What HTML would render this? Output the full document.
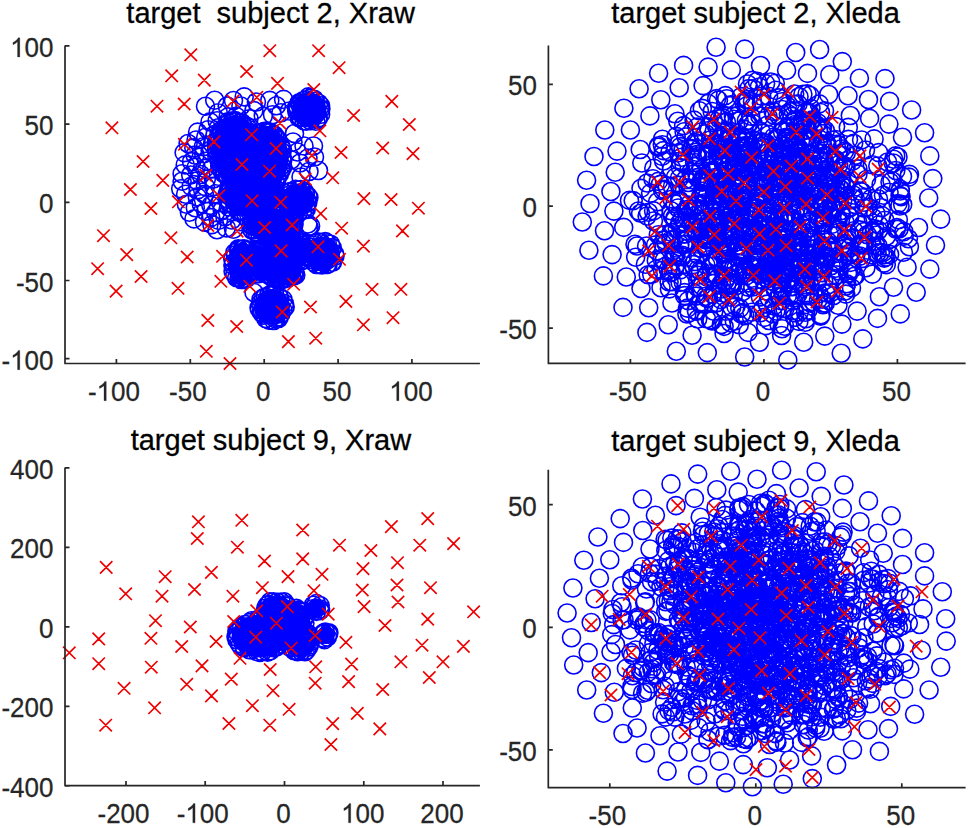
<!DOCTYPE html>
<html><head><meta charset="utf-8"><style>
html,body{margin:0;padding:0;background:#fff;width:968px;height:828px;overflow:hidden}
svg text{font-family:"Liberation Sans", sans-serif}
</style></head><body>
<svg width="968" height="828" viewBox="0 0 968 828" style="position:absolute;left:0;top:0">
<path d="M195.7 168.4a9 9 0 1 0 18 0a9 9 0 1 0 -18 0M206.6 212.5a9 9 0 1 0 18 0a9 9 0 1 0 -18 0M192.2 203.8a9 9 0 1 0 18 0a9 9 0 1 0 -18 0M176.2 164.9a9 9 0 1 0 18 0a9 9 0 1 0 -18 0M191.7 174.5a9 9 0 1 0 18 0a9 9 0 1 0 -18 0M206.0 134.2a9 9 0 1 0 18 0a9 9 0 1 0 -18 0M230.5 221.8a9 9 0 1 0 18 0a9 9 0 1 0 -18 0M211.5 202.5a9 9 0 1 0 18 0a9 9 0 1 0 -18 0M182.2 186.4a9 9 0 1 0 18 0a9 9 0 1 0 -18 0M222.8 220.0a9 9 0 1 0 18 0a9 9 0 1 0 -18 0M196.4 186.6a9 9 0 1 0 18 0a9 9 0 1 0 -18 0M173.1 181.3a9 9 0 1 0 18 0a9 9 0 1 0 -18 0M187.2 167.1a9 9 0 1 0 18 0a9 9 0 1 0 -18 0M196.6 211.2a9 9 0 1 0 18 0a9 9 0 1 0 -18 0M197.5 161.1a9 9 0 1 0 18 0a9 9 0 1 0 -18 0M188.6 132.1a9 9 0 1 0 18 0a9 9 0 1 0 -18 0M215.9 216.7a9 9 0 1 0 18 0a9 9 0 1 0 -18 0M186.0 155.0a9 9 0 1 0 18 0a9 9 0 1 0 -18 0M208.1 120.8a9 9 0 1 0 18 0a9 9 0 1 0 -18 0M196.7 137.2a9 9 0 1 0 18 0a9 9 0 1 0 -18 0M176.6 194.3a9 9 0 1 0 18 0a9 9 0 1 0 -18 0M181.7 175.0a9 9 0 1 0 18 0a9 9 0 1 0 -18 0M175.1 152.6a9 9 0 1 0 18 0a9 9 0 1 0 -18 0M230.1 211.8a9 9 0 1 0 18 0a9 9 0 1 0 -18 0M177.4 204.3a9 9 0 1 0 18 0a9 9 0 1 0 -18 0M184.8 147.9a9 9 0 1 0 18 0a9 9 0 1 0 -18 0M180.4 212.3a9 9 0 1 0 18 0a9 9 0 1 0 -18 0M202.8 168.5a9 9 0 1 0 18 0a9 9 0 1 0 -18 0M206.6 193.7a9 9 0 1 0 18 0a9 9 0 1 0 -18 0M195.5 222.1a9 9 0 1 0 18 0a9 9 0 1 0 -18 0M217.3 227.9a9 9 0 1 0 18 0a9 9 0 1 0 -18 0M219.9 207.0a9 9 0 1 0 18 0a9 9 0 1 0 -18 0M189.1 189.6a9 9 0 1 0 18 0a9 9 0 1 0 -18 0M224.5 229.3a9 9 0 1 0 18 0a9 9 0 1 0 -18 0M209.5 220.4a9 9 0 1 0 18 0a9 9 0 1 0 -18 0M201.1 150.5a9 9 0 1 0 18 0a9 9 0 1 0 -18 0M195.5 194.2a9 9 0 1 0 18 0a9 9 0 1 0 -18 0M202.9 224.6a9 9 0 1 0 18 0a9 9 0 1 0 -18 0M204.4 179.0a9 9 0 1 0 18 0a9 9 0 1 0 -18 0M201.9 205.4a9 9 0 1 0 18 0a9 9 0 1 0 -18 0M199.1 129.8a9 9 0 1 0 18 0a9 9 0 1 0 -18 0M186.3 207.7a9 9 0 1 0 18 0a9 9 0 1 0 -18 0M185.0 218.9a9 9 0 1 0 18 0a9 9 0 1 0 -18 0M194.7 153.8a9 9 0 1 0 18 0a9 9 0 1 0 -18 0M188.3 196.9a9 9 0 1 0 18 0a9 9 0 1 0 -18 0M208.0 229.8a9 9 0 1 0 18 0a9 9 0 1 0 -18 0M203.5 143.7a9 9 0 1 0 18 0a9 9 0 1 0 -18 0M187.1 140.0a9 9 0 1 0 18 0a9 9 0 1 0 -18 0M173.1 173.8a9 9 0 1 0 18 0a9 9 0 1 0 -18 0M194.4 146.7a9 9 0 1 0 18 0a9 9 0 1 0 -18 0M179.1 143.5a9 9 0 1 0 18 0a9 9 0 1 0 -18 0M204.8 186.6a9 9 0 1 0 18 0a9 9 0 1 0 -18 0M188.3 180.9a9 9 0 1 0 18 0a9 9 0 1 0 -18 0M201.0 121.9a9 9 0 1 0 18 0a9 9 0 1 0 -18 0M209.5 127.7a9 9 0 1 0 18 0a9 9 0 1 0 -18 0M197.3 179.2a9 9 0 1 0 18 0a9 9 0 1 0 -18 0M201.8 217.6a9 9 0 1 0 18 0a9 9 0 1 0 -18 0M182.6 161.7a9 9 0 1 0 18 0a9 9 0 1 0 -18 0M213.2 210.0a9 9 0 1 0 18 0a9 9 0 1 0 -18 0M171.7 188.8a9 9 0 1 0 18 0a9 9 0 1 0 -18 0M227.2 116.4a9 9 0 1 0 18 0a9 9 0 1 0 -18 0M254.3 116.1a9 9 0 1 0 18 0a9 9 0 1 0 -18 0M272.0 112.8a9 9 0 1 0 18 0a9 9 0 1 0 -18 0M235.2 96.9a9 9 0 1 0 18 0a9 9 0 1 0 -18 0M218.2 106.0a9 9 0 1 0 18 0a9 9 0 1 0 -18 0M260.8 100.4a9 9 0 1 0 18 0a9 9 0 1 0 -18 0M274.6 99.4a9 9 0 1 0 18 0a9 9 0 1 0 -18 0M280.4 111.0a9 9 0 1 0 18 0a9 9 0 1 0 -18 0M209.2 112.8a9 9 0 1 0 18 0a9 9 0 1 0 -18 0M247.4 102.0a9 9 0 1 0 18 0a9 9 0 1 0 -18 0M231.9 106.0a9 9 0 1 0 18 0a9 9 0 1 0 -18 0M244.9 110.6a9 9 0 1 0 18 0a9 9 0 1 0 -18 0M288.9 106.4a9 9 0 1 0 18 0a9 9 0 1 0 -18 0M240.0 118.8a9 9 0 1 0 18 0a9 9 0 1 0 -18 0M205.7 100.2a9 9 0 1 0 18 0a9 9 0 1 0 -18 0M196.5 106.3a9 9 0 1 0 18 0a9 9 0 1 0 -18 0M263.5 114.8a9 9 0 1 0 18 0a9 9 0 1 0 -18 0M219.1 116.9a9 9 0 1 0 18 0a9 9 0 1 0 -18 0M224.5 100.5a9 9 0 1 0 18 0a9 9 0 1 0 -18 0M267.4 105.8a9 9 0 1 0 18 0a9 9 0 1 0 -18 0M285.5 133.5a9 9 0 1 0 18 0a9 9 0 1 0 -18 0M295.0 146.0a9 9 0 1 0 18 0a9 9 0 1 0 -18 0M304.5 146.0a9 9 0 1 0 18 0a9 9 0 1 0 -18 0M288.5 152.0a9 9 0 1 0 18 0a9 9 0 1 0 -18 0M299.0 158.0a9 9 0 1 0 18 0a9 9 0 1 0 -18 0M305.5 157.0a9 9 0 1 0 18 0a9 9 0 1 0 -18 0M291.0 163.0a9 9 0 1 0 18 0a9 9 0 1 0 -18 0M300.0 171.5a9 9 0 1 0 18 0a9 9 0 1 0 -18 0M309.5 170.5a9 9 0 1 0 18 0a9 9 0 1 0 -18 0M284.0 142.0a9 9 0 1 0 18 0a9 9 0 1 0 -18 0M282.0 160.0a9 9 0 1 0 18 0a9 9 0 1 0 -18 0M292.0 177.0a9 9 0 1 0 18 0a9 9 0 1 0 -18 0M299.8 226.7a9 9 0 1 0 18 0a9 9 0 1 0 -18 0M276.0 221.9a9 9 0 1 0 18 0a9 9 0 1 0 -18 0M284.7 236.7a9 9 0 1 0 18 0a9 9 0 1 0 -18 0M298.9 224.0a9 9 0 1 0 18 0a9 9 0 1 0 -18 0M288.4 245.2a9 9 0 1 0 18 0a9 9 0 1 0 -18 0M245.0 292.5a9 9 0 1 0 18 0a9 9 0 1 0 -18 0M301.6 226.0a9 9 0 1 0 18 0a9 9 0 1 0 -18 0" fill="none" stroke="#00f" stroke-width="1.6"/>
<g fill="#00f"><ellipse cx="309.0" cy="110.0" rx="17.5" ry="17.5"/><ellipse cx="235.0" cy="150.0" rx="23.5" ry="34.5"/><ellipse cx="265.0" cy="158.0" rx="23.5" ry="32.5"/><ellipse cx="252.0" cy="195.0" rx="29.5" ry="22.5"/><ellipse cx="298.0" cy="200.0" rx="16.5" ry="16.5"/><ellipse cx="272.0" cy="225.0" rx="26.5" ry="16.5"/><ellipse cx="242.0" cy="264.0" rx="14.5" ry="21.5"/><ellipse cx="281.0" cy="256.0" rx="18.5" ry="28.5"/><ellipse cx="322.5" cy="254.0" rx="17.5" ry="17.5"/><ellipse cx="258.0" cy="262.0" rx="11.5" ry="16.5"/><ellipse cx="300.0" cy="252.0" rx="10.5" ry="14.5"/><ellipse cx="282.0" cy="274.0" rx="18.5" ry="10.5"/><ellipse cx="272.0" cy="307.0" rx="18.0" ry="18.0"/></g><path d="M311.3 109.6a9 9 0 1 0 18 0a9 9 0 1 0 -18 0M311.6 114.4a9 9 0 1 0 18 0a9 9 0 1 0 -18 0M309.4 117.9a9 9 0 1 0 18 0a9 9 0 1 0 -18 0M308.7 119.1a9 9 0 1 0 18 0a9 9 0 1 0 -18 0M306.8 121.3a9 9 0 1 0 18 0a9 9 0 1 0 -18 0M301.6 120.8a9 9 0 1 0 18 0a9 9 0 1 0 -18 0M297.4 121.1a9 9 0 1 0 18 0a9 9 0 1 0 -18 0M297.3 121.2a9 9 0 1 0 18 0a9 9 0 1 0 -18 0M295.2 121.0a9 9 0 1 0 18 0a9 9 0 1 0 -18 0M290.2 117.8a9 9 0 1 0 18 0a9 9 0 1 0 -18 0M291.4 116.7a9 9 0 1 0 18 0a9 9 0 1 0 -18 0M287.7 111.0a9 9 0 1 0 18 0a9 9 0 1 0 -18 0M288.3 109.5a9 9 0 1 0 18 0a9 9 0 1 0 -18 0M287.5 107.7a9 9 0 1 0 18 0a9 9 0 1 0 -18 0M290.0 102.9a9 9 0 1 0 18 0a9 9 0 1 0 -18 0M291.4 102.9a9 9 0 1 0 18 0a9 9 0 1 0 -18 0M294.0 100.7a9 9 0 1 0 18 0a9 9 0 1 0 -18 0M296.6 99.7a9 9 0 1 0 18 0a9 9 0 1 0 -18 0M299.4 96.9a9 9 0 1 0 18 0a9 9 0 1 0 -18 0M301.3 98.1a9 9 0 1 0 18 0a9 9 0 1 0 -18 0M305.1 99.2a9 9 0 1 0 18 0a9 9 0 1 0 -18 0M306.5 101.2a9 9 0 1 0 18 0a9 9 0 1 0 -18 0M309.6 103.3a9 9 0 1 0 18 0a9 9 0 1 0 -18 0M311.6 105.7a9 9 0 1 0 18 0a9 9 0 1 0 -18 0M311.9 108.7a9 9 0 1 0 18 0a9 9 0 1 0 -18 0M244.6 150.6a9 9 0 1 0 18 0a9 9 0 1 0 -18 0M243.5 154.2a9 9 0 1 0 18 0a9 9 0 1 0 -18 0M242.0 159.4a9 9 0 1 0 18 0a9 9 0 1 0 -18 0M242.1 166.5a9 9 0 1 0 18 0a9 9 0 1 0 -18 0M240.5 168.2a9 9 0 1 0 18 0a9 9 0 1 0 -18 0M240.3 168.4a9 9 0 1 0 18 0a9 9 0 1 0 -18 0M236.9 172.1a9 9 0 1 0 18 0a9 9 0 1 0 -18 0M236.5 174.1a9 9 0 1 0 18 0a9 9 0 1 0 -18 0M234.6 175.9a9 9 0 1 0 18 0a9 9 0 1 0 -18 0M232.6 176.8a9 9 0 1 0 18 0a9 9 0 1 0 -18 0M227.9 179.8a9 9 0 1 0 18 0a9 9 0 1 0 -18 0M228.4 179.2a9 9 0 1 0 18 0a9 9 0 1 0 -18 0M225.1 177.9a9 9 0 1 0 18 0a9 9 0 1 0 -18 0M221.9 177.2a9 9 0 1 0 18 0a9 9 0 1 0 -18 0M219.5 177.7a9 9 0 1 0 18 0a9 9 0 1 0 -18 0M218.5 176.7a9 9 0 1 0 18 0a9 9 0 1 0 -18 0M216.1 173.7a9 9 0 1 0 18 0a9 9 0 1 0 -18 0M214.7 173.6a9 9 0 1 0 18 0a9 9 0 1 0 -18 0M211.5 167.8a9 9 0 1 0 18 0a9 9 0 1 0 -18 0M210.7 166.0a9 9 0 1 0 18 0a9 9 0 1 0 -18 0M210.4 162.1a9 9 0 1 0 18 0a9 9 0 1 0 -18 0M209.7 159.5a9 9 0 1 0 18 0a9 9 0 1 0 -18 0M207.6 155.1a9 9 0 1 0 18 0a9 9 0 1 0 -18 0M208.3 152.2a9 9 0 1 0 18 0a9 9 0 1 0 -18 0M207.5 149.5a9 9 0 1 0 18 0a9 9 0 1 0 -18 0M208.4 144.2a9 9 0 1 0 18 0a9 9 0 1 0 -18 0M207.2 143.0a9 9 0 1 0 18 0a9 9 0 1 0 -18 0M208.2 141.3a9 9 0 1 0 18 0a9 9 0 1 0 -18 0M209.6 136.0a9 9 0 1 0 18 0a9 9 0 1 0 -18 0M213.0 130.9a9 9 0 1 0 18 0a9 9 0 1 0 -18 0M211.7 130.6a9 9 0 1 0 18 0a9 9 0 1 0 -18 0M214.7 128.7a9 9 0 1 0 18 0a9 9 0 1 0 -18 0M217.7 124.8a9 9 0 1 0 18 0a9 9 0 1 0 -18 0M219.9 123.1a9 9 0 1 0 18 0a9 9 0 1 0 -18 0M218.8 121.7a9 9 0 1 0 18 0a9 9 0 1 0 -18 0M223.6 120.8a9 9 0 1 0 18 0a9 9 0 1 0 -18 0M226.2 120.6a9 9 0 1 0 18 0a9 9 0 1 0 -18 0M228.0 121.8a9 9 0 1 0 18 0a9 9 0 1 0 -18 0M230.2 123.0a9 9 0 1 0 18 0a9 9 0 1 0 -18 0M232.8 122.8a9 9 0 1 0 18 0a9 9 0 1 0 -18 0M233.7 125.6a9 9 0 1 0 18 0a9 9 0 1 0 -18 0M237.8 126.4a9 9 0 1 0 18 0a9 9 0 1 0 -18 0M239.2 131.9a9 9 0 1 0 18 0a9 9 0 1 0 -18 0M240.3 129.9a9 9 0 1 0 18 0a9 9 0 1 0 -18 0M240.2 132.1a9 9 0 1 0 18 0a9 9 0 1 0 -18 0M242.1 140.0a9 9 0 1 0 18 0a9 9 0 1 0 -18 0M243.6 142.5a9 9 0 1 0 18 0a9 9 0 1 0 -18 0M244.9 147.1a9 9 0 1 0 18 0a9 9 0 1 0 -18 0M243.1 148.6a9 9 0 1 0 18 0a9 9 0 1 0 -18 0M273.2 157.7a9 9 0 1 0 18 0a9 9 0 1 0 -18 0M272.3 165.8a9 9 0 1 0 18 0a9 9 0 1 0 -18 0M273.6 167.5a9 9 0 1 0 18 0a9 9 0 1 0 -18 0M272.1 170.5a9 9 0 1 0 18 0a9 9 0 1 0 -18 0M270.4 174.4a9 9 0 1 0 18 0a9 9 0 1 0 -18 0M267.9 177.3a9 9 0 1 0 18 0a9 9 0 1 0 -18 0M267.9 179.3a9 9 0 1 0 18 0a9 9 0 1 0 -18 0M266.0 182.3a9 9 0 1 0 18 0a9 9 0 1 0 -18 0M261.7 184.2a9 9 0 1 0 18 0a9 9 0 1 0 -18 0M260.7 185.0a9 9 0 1 0 18 0a9 9 0 1 0 -18 0M260.1 183.8a9 9 0 1 0 18 0a9 9 0 1 0 -18 0M256.7 186.0a9 9 0 1 0 18 0a9 9 0 1 0 -18 0M254.1 186.0a9 9 0 1 0 18 0a9 9 0 1 0 -18 0M248.7 184.1a9 9 0 1 0 18 0a9 9 0 1 0 -18 0M250.7 183.7a9 9 0 1 0 18 0a9 9 0 1 0 -18 0M248.6 183.1a9 9 0 1 0 18 0a9 9 0 1 0 -18 0M242.9 176.7a9 9 0 1 0 18 0a9 9 0 1 0 -18 0M245.3 177.9a9 9 0 1 0 18 0a9 9 0 1 0 -18 0M242.1 174.8a9 9 0 1 0 18 0a9 9 0 1 0 -18 0M239.0 171.6a9 9 0 1 0 18 0a9 9 0 1 0 -18 0M239.4 169.4a9 9 0 1 0 18 0a9 9 0 1 0 -18 0M238.7 163.4a9 9 0 1 0 18 0a9 9 0 1 0 -18 0M238.7 161.1a9 9 0 1 0 18 0a9 9 0 1 0 -18 0M238.2 158.3a9 9 0 1 0 18 0a9 9 0 1 0 -18 0M237.2 154.4a9 9 0 1 0 18 0a9 9 0 1 0 -18 0M238.8 152.4a9 9 0 1 0 18 0a9 9 0 1 0 -18 0M238.9 146.9a9 9 0 1 0 18 0a9 9 0 1 0 -18 0M241.3 143.9a9 9 0 1 0 18 0a9 9 0 1 0 -18 0M242.8 141.9a9 9 0 1 0 18 0a9 9 0 1 0 -18 0M245.5 137.4a9 9 0 1 0 18 0a9 9 0 1 0 -18 0M244.2 136.7a9 9 0 1 0 18 0a9 9 0 1 0 -18 0M248.6 133.6a9 9 0 1 0 18 0a9 9 0 1 0 -18 0M250.9 133.2a9 9 0 1 0 18 0a9 9 0 1 0 -18 0M255.1 131.7a9 9 0 1 0 18 0a9 9 0 1 0 -18 0M255.3 131.2a9 9 0 1 0 18 0a9 9 0 1 0 -18 0M258.1 131.1a9 9 0 1 0 18 0a9 9 0 1 0 -18 0M257.7 131.8a9 9 0 1 0 18 0a9 9 0 1 0 -18 0M260.9 132.0a9 9 0 1 0 18 0a9 9 0 1 0 -18 0M263.6 134.8a9 9 0 1 0 18 0a9 9 0 1 0 -18 0M265.5 135.1a9 9 0 1 0 18 0a9 9 0 1 0 -18 0M267.9 138.4a9 9 0 1 0 18 0a9 9 0 1 0 -18 0M268.5 140.3a9 9 0 1 0 18 0a9 9 0 1 0 -18 0M271.5 145.4a9 9 0 1 0 18 0a9 9 0 1 0 -18 0M271.9 146.6a9 9 0 1 0 18 0a9 9 0 1 0 -18 0M272.6 151.7a9 9 0 1 0 18 0a9 9 0 1 0 -18 0M273.5 149.7a9 9 0 1 0 18 0a9 9 0 1 0 -18 0M273.9 159.6a9 9 0 1 0 18 0a9 9 0 1 0 -18 0M267.7 195.7a9 9 0 1 0 18 0a9 9 0 1 0 -18 0M267.5 197.9a9 9 0 1 0 18 0a9 9 0 1 0 -18 0M264.5 203.3a9 9 0 1 0 18 0a9 9 0 1 0 -18 0M263.5 204.8a9 9 0 1 0 18 0a9 9 0 1 0 -18 0M261.9 206.3a9 9 0 1 0 18 0a9 9 0 1 0 -18 0M257.1 209.6a9 9 0 1 0 18 0a9 9 0 1 0 -18 0M256.8 208.8a9 9 0 1 0 18 0a9 9 0 1 0 -18 0M252.4 211.8a9 9 0 1 0 18 0a9 9 0 1 0 -18 0M250.7 211.5a9 9 0 1 0 18 0a9 9 0 1 0 -18 0M249.8 210.8a9 9 0 1 0 18 0a9 9 0 1 0 -18 0M243.1 212.1a9 9 0 1 0 18 0a9 9 0 1 0 -18 0M240.0 210.9a9 9 0 1 0 18 0a9 9 0 1 0 -18 0M236.3 212.4a9 9 0 1 0 18 0a9 9 0 1 0 -18 0M231.8 211.3a9 9 0 1 0 18 0a9 9 0 1 0 -18 0M231.3 210.2a9 9 0 1 0 18 0a9 9 0 1 0 -18 0M226.6 206.7a9 9 0 1 0 18 0a9 9 0 1 0 -18 0M225.9 205.6a9 9 0 1 0 18 0a9 9 0 1 0 -18 0M220.8 204.2a9 9 0 1 0 18 0a9 9 0 1 0 -18 0M221.2 202.6a9 9 0 1 0 18 0a9 9 0 1 0 -18 0M218.8 199.0a9 9 0 1 0 18 0a9 9 0 1 0 -18 0M219.9 195.8a9 9 0 1 0 18 0a9 9 0 1 0 -18 0M218.1 194.1a9 9 0 1 0 18 0a9 9 0 1 0 -18 0M219.4 191.4a9 9 0 1 0 18 0a9 9 0 1 0 -18 0M220.5 189.9a9 9 0 1 0 18 0a9 9 0 1 0 -18 0M219.6 189.6a9 9 0 1 0 18 0a9 9 0 1 0 -18 0M221.5 186.7a9 9 0 1 0 18 0a9 9 0 1 0 -18 0M226.9 182.1a9 9 0 1 0 18 0a9 9 0 1 0 -18 0M227.5 182.3a9 9 0 1 0 18 0a9 9 0 1 0 -18 0M232.1 180.2a9 9 0 1 0 18 0a9 9 0 1 0 -18 0M232.3 179.4a9 9 0 1 0 18 0a9 9 0 1 0 -18 0M235.5 178.8a9 9 0 1 0 18 0a9 9 0 1 0 -18 0M239.9 177.3a9 9 0 1 0 18 0a9 9 0 1 0 -18 0M243.7 177.5a9 9 0 1 0 18 0a9 9 0 1 0 -18 0M246.6 177.5a9 9 0 1 0 18 0a9 9 0 1 0 -18 0M251.8 178.4a9 9 0 1 0 18 0a9 9 0 1 0 -18 0M255.6 180.7a9 9 0 1 0 18 0a9 9 0 1 0 -18 0M255.9 180.2a9 9 0 1 0 18 0a9 9 0 1 0 -18 0M260.2 183.3a9 9 0 1 0 18 0a9 9 0 1 0 -18 0M262.6 185.8a9 9 0 1 0 18 0a9 9 0 1 0 -18 0M262.5 186.5a9 9 0 1 0 18 0a9 9 0 1 0 -18 0M266.0 188.4a9 9 0 1 0 18 0a9 9 0 1 0 -18 0M265.5 191.9a9 9 0 1 0 18 0a9 9 0 1 0 -18 0M266.7 196.6a9 9 0 1 0 18 0a9 9 0 1 0 -18 0M298.9 202.0a9 9 0 1 0 18 0a9 9 0 1 0 -18 0M298.5 203.3a9 9 0 1 0 18 0a9 9 0 1 0 -18 0M297.4 206.7a9 9 0 1 0 18 0a9 9 0 1 0 -18 0M297.2 209.5a9 9 0 1 0 18 0a9 9 0 1 0 -18 0M293.9 210.1a9 9 0 1 0 18 0a9 9 0 1 0 -18 0M289.7 211.7a9 9 0 1 0 18 0a9 9 0 1 0 -18 0M286.5 211.9a9 9 0 1 0 18 0a9 9 0 1 0 -18 0M284.1 209.8a9 9 0 1 0 18 0a9 9 0 1 0 -18 0M281.4 208.2a9 9 0 1 0 18 0a9 9 0 1 0 -18 0M278.7 204.7a9 9 0 1 0 18 0a9 9 0 1 0 -18 0M278.2 203.7a9 9 0 1 0 18 0a9 9 0 1 0 -18 0M279.0 202.2a9 9 0 1 0 18 0a9 9 0 1 0 -18 0M279.1 198.4a9 9 0 1 0 18 0a9 9 0 1 0 -18 0M280.7 194.8a9 9 0 1 0 18 0a9 9 0 1 0 -18 0M280.9 192.5a9 9 0 1 0 18 0a9 9 0 1 0 -18 0M281.9 191.4a9 9 0 1 0 18 0a9 9 0 1 0 -18 0M286.7 189.2a9 9 0 1 0 18 0a9 9 0 1 0 -18 0M289.0 189.9a9 9 0 1 0 18 0a9 9 0 1 0 -18 0M291.7 189.6a9 9 0 1 0 18 0a9 9 0 1 0 -18 0M295.2 191.3a9 9 0 1 0 18 0a9 9 0 1 0 -18 0M296.5 193.3a9 9 0 1 0 18 0a9 9 0 1 0 -18 0M299.0 196.1a9 9 0 1 0 18 0a9 9 0 1 0 -18 0M299.9 197.5a9 9 0 1 0 18 0a9 9 0 1 0 -18 0M283.2 226.0a9 9 0 1 0 18 0a9 9 0 1 0 -18 0M284.5 227.0a9 9 0 1 0 18 0a9 9 0 1 0 -18 0M281.6 230.8a9 9 0 1 0 18 0a9 9 0 1 0 -18 0M279.2 231.2a9 9 0 1 0 18 0a9 9 0 1 0 -18 0M278.4 231.9a9 9 0 1 0 18 0a9 9 0 1 0 -18 0M274.3 235.2a9 9 0 1 0 18 0a9 9 0 1 0 -18 0M268.8 234.7a9 9 0 1 0 18 0a9 9 0 1 0 -18 0M266.4 236.4a9 9 0 1 0 18 0a9 9 0 1 0 -18 0M264.5 236.7a9 9 0 1 0 18 0a9 9 0 1 0 -18 0M260.2 236.8a9 9 0 1 0 18 0a9 9 0 1 0 -18 0M257.1 234.9a9 9 0 1 0 18 0a9 9 0 1 0 -18 0M250.9 234.7a9 9 0 1 0 18 0a9 9 0 1 0 -18 0M248.5 233.5a9 9 0 1 0 18 0a9 9 0 1 0 -18 0M246.0 231.7a9 9 0 1 0 18 0a9 9 0 1 0 -18 0M243.2 230.3a9 9 0 1 0 18 0a9 9 0 1 0 -18 0M242.3 228.9a9 9 0 1 0 18 0a9 9 0 1 0 -18 0M242.5 225.6a9 9 0 1 0 18 0a9 9 0 1 0 -18 0M242.0 223.7a9 9 0 1 0 18 0a9 9 0 1 0 -18 0M243.4 222.1a9 9 0 1 0 18 0a9 9 0 1 0 -18 0M244.3 220.4a9 9 0 1 0 18 0a9 9 0 1 0 -18 0M246.7 218.6a9 9 0 1 0 18 0a9 9 0 1 0 -18 0M248.2 217.0a9 9 0 1 0 18 0a9 9 0 1 0 -18 0M250.4 216.7a9 9 0 1 0 18 0a9 9 0 1 0 -18 0M254.6 215.4a9 9 0 1 0 18 0a9 9 0 1 0 -18 0M257.6 215.2a9 9 0 1 0 18 0a9 9 0 1 0 -18 0M261.2 214.9a9 9 0 1 0 18 0a9 9 0 1 0 -18 0M266.8 214.5a9 9 0 1 0 18 0a9 9 0 1 0 -18 0M269.0 214.3a9 9 0 1 0 18 0a9 9 0 1 0 -18 0M272.6 215.7a9 9 0 1 0 18 0a9 9 0 1 0 -18 0M276.8 217.0a9 9 0 1 0 18 0a9 9 0 1 0 -18 0M280.8 217.6a9 9 0 1 0 18 0a9 9 0 1 0 -18 0M281.6 218.7a9 9 0 1 0 18 0a9 9 0 1 0 -18 0M283.0 223.7a9 9 0 1 0 18 0a9 9 0 1 0 -18 0M285.1 223.9a9 9 0 1 0 18 0a9 9 0 1 0 -18 0M241.4 267.4a9 9 0 1 0 18 0a9 9 0 1 0 -18 0M241.6 271.3a9 9 0 1 0 18 0a9 9 0 1 0 -18 0M240.5 272.0a9 9 0 1 0 18 0a9 9 0 1 0 -18 0M238.4 275.0a9 9 0 1 0 18 0a9 9 0 1 0 -18 0M237.2 278.6a9 9 0 1 0 18 0a9 9 0 1 0 -18 0M234.8 278.2a9 9 0 1 0 18 0a9 9 0 1 0 -18 0M233.5 279.5a9 9 0 1 0 18 0a9 9 0 1 0 -18 0M231.9 279.5a9 9 0 1 0 18 0a9 9 0 1 0 -18 0M230.1 278.0a9 9 0 1 0 18 0a9 9 0 1 0 -18 0M227.8 277.7a9 9 0 1 0 18 0a9 9 0 1 0 -18 0M225.9 274.5a9 9 0 1 0 18 0a9 9 0 1 0 -18 0M224.1 271.4a9 9 0 1 0 18 0a9 9 0 1 0 -18 0M223.9 265.2a9 9 0 1 0 18 0a9 9 0 1 0 -18 0M224.6 262.9a9 9 0 1 0 18 0a9 9 0 1 0 -18 0M223.7 258.8a9 9 0 1 0 18 0a9 9 0 1 0 -18 0M226.6 255.0a9 9 0 1 0 18 0a9 9 0 1 0 -18 0M225.8 252.8a9 9 0 1 0 18 0a9 9 0 1 0 -18 0M229.2 248.9a9 9 0 1 0 18 0a9 9 0 1 0 -18 0M230.5 249.5a9 9 0 1 0 18 0a9 9 0 1 0 -18 0M233.4 249.1a9 9 0 1 0 18 0a9 9 0 1 0 -18 0M235.1 248.8a9 9 0 1 0 18 0a9 9 0 1 0 -18 0M237.4 249.8a9 9 0 1 0 18 0a9 9 0 1 0 -18 0M238.8 249.7a9 9 0 1 0 18 0a9 9 0 1 0 -18 0M239.4 255.4a9 9 0 1 0 18 0a9 9 0 1 0 -18 0M241.2 257.5a9 9 0 1 0 18 0a9 9 0 1 0 -18 0M240.8 259.3a9 9 0 1 0 18 0a9 9 0 1 0 -18 0M284.8 258.2a9 9 0 1 0 18 0a9 9 0 1 0 -18 0M283.8 261.6a9 9 0 1 0 18 0a9 9 0 1 0 -18 0M284.1 265.5a9 9 0 1 0 18 0a9 9 0 1 0 -18 0M282.9 270.0a9 9 0 1 0 18 0a9 9 0 1 0 -18 0M282.1 270.8a9 9 0 1 0 18 0a9 9 0 1 0 -18 0M279.4 274.1a9 9 0 1 0 18 0a9 9 0 1 0 -18 0M277.9 275.9a9 9 0 1 0 18 0a9 9 0 1 0 -18 0M276.4 278.3a9 9 0 1 0 18 0a9 9 0 1 0 -18 0M272.9 278.5a9 9 0 1 0 18 0a9 9 0 1 0 -18 0M272.5 279.9a9 9 0 1 0 18 0a9 9 0 1 0 -18 0M268.8 279.2a9 9 0 1 0 18 0a9 9 0 1 0 -18 0M267.6 279.1a9 9 0 1 0 18 0a9 9 0 1 0 -18 0M266.4 276.5a9 9 0 1 0 18 0a9 9 0 1 0 -18 0M263.8 273.9a9 9 0 1 0 18 0a9 9 0 1 0 -18 0M262.6 273.0a9 9 0 1 0 18 0a9 9 0 1 0 -18 0M260.4 267.9a9 9 0 1 0 18 0a9 9 0 1 0 -18 0M258.9 263.3a9 9 0 1 0 18 0a9 9 0 1 0 -18 0M259.4 259.3a9 9 0 1 0 18 0a9 9 0 1 0 -18 0M259.7 257.7a9 9 0 1 0 18 0a9 9 0 1 0 -18 0M257.8 255.4a9 9 0 1 0 18 0a9 9 0 1 0 -18 0M258.2 250.9a9 9 0 1 0 18 0a9 9 0 1 0 -18 0M260.7 247.1a9 9 0 1 0 18 0a9 9 0 1 0 -18 0M261.9 241.0a9 9 0 1 0 18 0a9 9 0 1 0 -18 0M263.0 240.4a9 9 0 1 0 18 0a9 9 0 1 0 -18 0M263.9 237.7a9 9 0 1 0 18 0a9 9 0 1 0 -18 0M265.8 234.0a9 9 0 1 0 18 0a9 9 0 1 0 -18 0M267.5 233.9a9 9 0 1 0 18 0a9 9 0 1 0 -18 0M268.7 233.9a9 9 0 1 0 18 0a9 9 0 1 0 -18 0M272.1 233.4a9 9 0 1 0 18 0a9 9 0 1 0 -18 0M274.9 234.0a9 9 0 1 0 18 0a9 9 0 1 0 -18 0M275.8 234.3a9 9 0 1 0 18 0a9 9 0 1 0 -18 0M278.4 235.3a9 9 0 1 0 18 0a9 9 0 1 0 -18 0M279.3 238.5a9 9 0 1 0 18 0a9 9 0 1 0 -18 0M282.4 240.1a9 9 0 1 0 18 0a9 9 0 1 0 -18 0M282.4 242.7a9 9 0 1 0 18 0a9 9 0 1 0 -18 0M285.0 247.8a9 9 0 1 0 18 0a9 9 0 1 0 -18 0M284.6 249.4a9 9 0 1 0 18 0a9 9 0 1 0 -18 0M285.7 255.3a9 9 0 1 0 18 0a9 9 0 1 0 -18 0M325.9 255.9a9 9 0 1 0 18 0a9 9 0 1 0 -18 0M326.0 256.1a9 9 0 1 0 18 0a9 9 0 1 0 -18 0M323.5 262.2a9 9 0 1 0 18 0a9 9 0 1 0 -18 0M322.9 262.2a9 9 0 1 0 18 0a9 9 0 1 0 -18 0M319.2 264.0a9 9 0 1 0 18 0a9 9 0 1 0 -18 0M317.8 264.5a9 9 0 1 0 18 0a9 9 0 1 0 -18 0M312.9 265.0a9 9 0 1 0 18 0a9 9 0 1 0 -18 0M311.1 264.7a9 9 0 1 0 18 0a9 9 0 1 0 -18 0M307.5 264.5a9 9 0 1 0 18 0a9 9 0 1 0 -18 0M304.6 262.1a9 9 0 1 0 18 0a9 9 0 1 0 -18 0M304.0 259.6a9 9 0 1 0 18 0a9 9 0 1 0 -18 0M301.5 257.1a9 9 0 1 0 18 0a9 9 0 1 0 -18 0M301.4 253.9a9 9 0 1 0 18 0a9 9 0 1 0 -18 0M302.7 253.5a9 9 0 1 0 18 0a9 9 0 1 0 -18 0M302.3 247.3a9 9 0 1 0 18 0a9 9 0 1 0 -18 0M304.0 245.2a9 9 0 1 0 18 0a9 9 0 1 0 -18 0M306.1 243.1a9 9 0 1 0 18 0a9 9 0 1 0 -18 0M308.7 241.8a9 9 0 1 0 18 0a9 9 0 1 0 -18 0M311.8 242.6a9 9 0 1 0 18 0a9 9 0 1 0 -18 0M316.2 241.5a9 9 0 1 0 18 0a9 9 0 1 0 -18 0M318.2 242.9a9 9 0 1 0 18 0a9 9 0 1 0 -18 0M321.6 244.2a9 9 0 1 0 18 0a9 9 0 1 0 -18 0M322.9 247.5a9 9 0 1 0 18 0a9 9 0 1 0 -18 0M323.4 247.9a9 9 0 1 0 18 0a9 9 0 1 0 -18 0M325.7 253.9a9 9 0 1 0 18 0a9 9 0 1 0 -18 0M255.8 263.3a9 9 0 1 0 18 0a9 9 0 1 0 -18 0M255.2 265.5a9 9 0 1 0 18 0a9 9 0 1 0 -18 0M252.4 269.8a9 9 0 1 0 18 0a9 9 0 1 0 -18 0M252.7 271.6a9 9 0 1 0 18 0a9 9 0 1 0 -18 0M249.7 273.7a9 9 0 1 0 18 0a9 9 0 1 0 -18 0M246.2 273.6a9 9 0 1 0 18 0a9 9 0 1 0 -18 0M245.1 271.5a9 9 0 1 0 18 0a9 9 0 1 0 -18 0M244.9 269.3a9 9 0 1 0 18 0a9 9 0 1 0 -18 0M243.2 265.6a9 9 0 1 0 18 0a9 9 0 1 0 -18 0M242.6 260.7a9 9 0 1 0 18 0a9 9 0 1 0 -18 0M244.0 255.6a9 9 0 1 0 18 0a9 9 0 1 0 -18 0M243.8 253.0a9 9 0 1 0 18 0a9 9 0 1 0 -18 0M247.6 252.0a9 9 0 1 0 18 0a9 9 0 1 0 -18 0M249.3 250.8a9 9 0 1 0 18 0a9 9 0 1 0 -18 0M250.0 251.5a9 9 0 1 0 18 0a9 9 0 1 0 -18 0M251.8 253.1a9 9 0 1 0 18 0a9 9 0 1 0 -18 0M254.3 255.8a9 9 0 1 0 18 0a9 9 0 1 0 -18 0M255.1 258.3a9 9 0 1 0 18 0a9 9 0 1 0 -18 0M296.9 252.7a9 9 0 1 0 18 0a9 9 0 1 0 -18 0M296.0 256.8a9 9 0 1 0 18 0a9 9 0 1 0 -18 0M294.5 260.1a9 9 0 1 0 18 0a9 9 0 1 0 -18 0M292.7 260.7a9 9 0 1 0 18 0a9 9 0 1 0 -18 0M290.3 259.9a9 9 0 1 0 18 0a9 9 0 1 0 -18 0M286.7 257.3a9 9 0 1 0 18 0a9 9 0 1 0 -18 0M287.0 254.8a9 9 0 1 0 18 0a9 9 0 1 0 -18 0M286.3 252.6a9 9 0 1 0 18 0a9 9 0 1 0 -18 0M285.7 246.7a9 9 0 1 0 18 0a9 9 0 1 0 -18 0M288.0 244.4a9 9 0 1 0 18 0a9 9 0 1 0 -18 0M289.9 242.9a9 9 0 1 0 18 0a9 9 0 1 0 -18 0M292.1 243.3a9 9 0 1 0 18 0a9 9 0 1 0 -18 0M294.3 245.4a9 9 0 1 0 18 0a9 9 0 1 0 -18 0M295.1 247.5a9 9 0 1 0 18 0a9 9 0 1 0 -18 0M286.8 275.0a9 9 0 1 0 18 0a9 9 0 1 0 -18 0M284.8 276.0a9 9 0 1 0 18 0a9 9 0 1 0 -18 0M282.7 276.2a9 9 0 1 0 18 0a9 9 0 1 0 -18 0M278.7 278.3a9 9 0 1 0 18 0a9 9 0 1 0 -18 0M275.5 278.9a9 9 0 1 0 18 0a9 9 0 1 0 -18 0M272.1 279.1a9 9 0 1 0 18 0a9 9 0 1 0 -18 0M267.5 278.4a9 9 0 1 0 18 0a9 9 0 1 0 -18 0M263.7 277.1a9 9 0 1 0 18 0a9 9 0 1 0 -18 0M261.0 276.0a9 9 0 1 0 18 0a9 9 0 1 0 -18 0M260.8 274.1a9 9 0 1 0 18 0a9 9 0 1 0 -18 0M261.1 271.8a9 9 0 1 0 18 0a9 9 0 1 0 -18 0M261.8 271.4a9 9 0 1 0 18 0a9 9 0 1 0 -18 0M264.8 270.1a9 9 0 1 0 18 0a9 9 0 1 0 -18 0M267.5 270.5a9 9 0 1 0 18 0a9 9 0 1 0 -18 0M273.0 269.8a9 9 0 1 0 18 0a9 9 0 1 0 -18 0M279.7 269.3a9 9 0 1 0 18 0a9 9 0 1 0 -18 0M281.1 269.9a9 9 0 1 0 18 0a9 9 0 1 0 -18 0M285.4 271.5a9 9 0 1 0 18 0a9 9 0 1 0 -18 0M285.6 273.4a9 9 0 1 0 18 0a9 9 0 1 0 -18 0M275.8 307.6a9 9 0 1 0 18 0a9 9 0 1 0 -18 0M273.8 310.0a9 9 0 1 0 18 0a9 9 0 1 0 -18 0M271.9 313.8a9 9 0 1 0 18 0a9 9 0 1 0 -18 0M270.3 316.8a9 9 0 1 0 18 0a9 9 0 1 0 -18 0M269.6 318.5a9 9 0 1 0 18 0a9 9 0 1 0 -18 0M266.5 318.8a9 9 0 1 0 18 0a9 9 0 1 0 -18 0M264.8 320.5a9 9 0 1 0 18 0a9 9 0 1 0 -18 0M259.7 320.1a9 9 0 1 0 18 0a9 9 0 1 0 -18 0M256.7 318.5a9 9 0 1 0 18 0a9 9 0 1 0 -18 0M254.9 315.1a9 9 0 1 0 18 0a9 9 0 1 0 -18 0M253.1 313.2a9 9 0 1 0 18 0a9 9 0 1 0 -18 0M252.2 311.9a9 9 0 1 0 18 0a9 9 0 1 0 -18 0M250.5 309.4a9 9 0 1 0 18 0a9 9 0 1 0 -18 0M250.0 307.8a9 9 0 1 0 18 0a9 9 0 1 0 -18 0M251.7 303.4a9 9 0 1 0 18 0a9 9 0 1 0 -18 0M252.0 299.5a9 9 0 1 0 18 0a9 9 0 1 0 -18 0M254.5 297.8a9 9 0 1 0 18 0a9 9 0 1 0 -18 0M256.4 296.7a9 9 0 1 0 18 0a9 9 0 1 0 -18 0M259.7 295.5a9 9 0 1 0 18 0a9 9 0 1 0 -18 0M262.9 293.4a9 9 0 1 0 18 0a9 9 0 1 0 -18 0M265.6 294.4a9 9 0 1 0 18 0a9 9 0 1 0 -18 0M269.5 296.2a9 9 0 1 0 18 0a9 9 0 1 0 -18 0M270.8 298.3a9 9 0 1 0 18 0a9 9 0 1 0 -18 0M274.0 299.4a9 9 0 1 0 18 0a9 9 0 1 0 -18 0M275.5 303.6a9 9 0 1 0 18 0a9 9 0 1 0 -18 0M276.2 307.0a9 9 0 1 0 18 0a9 9 0 1 0 -18 0" fill="none" stroke="#00f" stroke-width="1.6"/>
<path d="M184.6 48.6l12.4 12.4m0 -12.4l-12.4 12.4M165.5 69.6l12.4 12.4m0 -12.4l-12.4 12.4M198.1 73.9l12.4 12.4m0 -12.4l-12.4 12.4M240.4 65.3l12.4 12.4m0 -12.4l-12.4 12.4M150.8 100.0l12.4 12.4m0 -12.4l-12.4 12.4M178.0 97.8l12.4 12.4m0 -12.4l-12.4 12.4M226.8 94.8l12.4 12.4m0 -12.4l-12.4 12.4M250.6 91.2l12.4 12.4m0 -12.4l-12.4 12.4M105.7 121.6l12.4 12.4m0 -12.4l-12.4 12.4M178.2 138.1l12.4 12.4m0 -12.4l-12.4 12.4M207.8 135.7l12.4 12.4m0 -12.4l-12.4 12.4M245.4 128.5l12.4 12.4m0 -12.4l-12.4 12.4M136.9 155.3l12.4 12.4m0 -12.4l-12.4 12.4M235.7 158.3l12.4 12.4m0 -12.4l-12.4 12.4M263.3 165.0l12.4 12.4m0 -12.4l-12.4 12.4M156.6 174.2l12.4 12.4m0 -12.4l-12.4 12.4M199.5 169.2l12.4 12.4m0 -12.4l-12.4 12.4M124.2 183.3l12.4 12.4m0 -12.4l-12.4 12.4M212.7 189.6l12.4 12.4m0 -12.4l-12.4 12.4M245.9 194.6l12.4 12.4m0 -12.4l-12.4 12.4M172.2 195.6l12.4 12.4m0 -12.4l-12.4 12.4M263.6 44.5l12.4 12.4m0 -12.4l-12.4 12.4M312.4 44.5l12.4 12.4m0 -12.4l-12.4 12.4M332.9 61.5l12.4 12.4m0 -12.4l-12.4 12.4M271.3 77.2l12.4 12.4m0 -12.4l-12.4 12.4M307.6 83.3l12.4 12.4m0 -12.4l-12.4 12.4M385.6 95.2l12.4 12.4m0 -12.4l-12.4 12.4M347.4 109.3l12.4 12.4m0 -12.4l-12.4 12.4M403.1 118.3l12.4 12.4m0 -12.4l-12.4 12.4M273.8 116.9l12.4 12.4m0 -12.4l-12.4 12.4M313.7 124.6l12.4 12.4m0 -12.4l-12.4 12.4M269.9 142.3l12.4 12.4m0 -12.4l-12.4 12.4M376.5 141.8l12.4 12.4m0 -12.4l-12.4 12.4M334.9 146.3l12.4 12.4m0 -12.4l-12.4 12.4M406.8 147.4l12.4 12.4m0 -12.4l-12.4 12.4M305.6 149.3l12.4 12.4m0 -12.4l-12.4 12.4M326.5 171.6l12.4 12.4m0 -12.4l-12.4 12.4M298.9 172.8l12.4 12.4m0 -12.4l-12.4 12.4M357.7 192.4l12.4 12.4m0 -12.4l-12.4 12.4M384.9 193.3l12.4 12.4m0 -12.4l-12.4 12.4M274.6 196.1l12.4 12.4m0 -12.4l-12.4 12.4M144.7 202.3l12.4 12.4m0 -12.4l-12.4 12.4M201.6 219.3l12.4 12.4m0 -12.4l-12.4 12.4M231.0 225.0l12.4 12.4m0 -12.4l-12.4 12.4M258.4 221.3l12.4 12.4m0 -12.4l-12.4 12.4M97.3 229.5l12.4 12.4m0 -12.4l-12.4 12.4M164.7 231.6l12.4 12.4m0 -12.4l-12.4 12.4M120.5 248.4l12.4 12.4m0 -12.4l-12.4 12.4M181.0 250.8l12.4 12.4m0 -12.4l-12.4 12.4M216.4 250.1l12.4 12.4m0 -12.4l-12.4 12.4M240.3 254.0l12.4 12.4m0 -12.4l-12.4 12.4M91.4 262.5l12.4 12.4m0 -12.4l-12.4 12.4M134.9 270.3l12.4 12.4m0 -12.4l-12.4 12.4M214.7 275.1l12.4 12.4m0 -12.4l-12.4 12.4M171.8 282.1l12.4 12.4m0 -12.4l-12.4 12.4M243.6 280.1l12.4 12.4m0 -12.4l-12.4 12.4M109.9 284.9l12.4 12.4m0 -12.4l-12.4 12.4M201.6 314.2l12.4 12.4m0 -12.4l-12.4 12.4M230.5 320.3l12.4 12.4m0 -12.4l-12.4 12.4M200.1 345.1l12.4 12.4m0 -12.4l-12.4 12.4M223.8 357.3l12.4 12.4m0 -12.4l-12.4 12.4M412.2 202.0l12.4 12.4m0 -12.4l-12.4 12.4M314.5 207.5l12.4 12.4m0 -12.4l-12.4 12.4M286.0 218.8l12.4 12.4m0 -12.4l-12.4 12.4M335.4 222.0l12.4 12.4m0 -12.4l-12.4 12.4M396.3 224.7l12.4 12.4m0 -12.4l-12.4 12.4M311.8 240.6l12.4 12.4m0 -12.4l-12.4 12.4M357.2 239.9l12.4 12.4m0 -12.4l-12.4 12.4M274.9 244.7l12.4 12.4m0 -12.4l-12.4 12.4M333.3 253.1l12.4 12.4m0 -12.4l-12.4 12.4M287.4 278.1l12.4 12.4m0 -12.4l-12.4 12.4M365.8 283.1l12.4 12.4m0 -12.4l-12.4 12.4M394.7 283.1l12.4 12.4m0 -12.4l-12.4 12.4M339.7 295.2l12.4 12.4m0 -12.4l-12.4 12.4M304.3 300.8l12.4 12.4m0 -12.4l-12.4 12.4M276.1 305.8l12.4 12.4m0 -12.4l-12.4 12.4M386.8 311.5l12.4 12.4m0 -12.4l-12.4 12.4M357.2 318.6l12.4 12.4m0 -12.4l-12.4 12.4M282.2 335.4l12.4 12.4m0 -12.4l-12.4 12.4M309.5 332.0l12.4 12.4m0 -12.4l-12.4 12.4" fill="none" stroke="#ee0000" stroke-width="1.65"/>
<path d="M707.1 47.2a9 9 0 1 0 18 0a9 9 0 1 0 -18 0M735.7 49.1a9 9 0 1 0 18 0a9 9 0 1 0 -18 0M674.6 65.4a9 9 0 1 0 18 0a9 9 0 1 0 -18 0M699.1 67.1a9 9 0 1 0 18 0a9 9 0 1 0 -18 0M722.3 69.9a9 9 0 1 0 18 0a9 9 0 1 0 -18 0M649.6 73.2a9 9 0 1 0 18 0a9 9 0 1 0 -18 0M630.1 88.8a9 9 0 1 0 18 0a9 9 0 1 0 -18 0M670.2 87.7a9 9 0 1 0 18 0a9 9 0 1 0 -18 0M694.1 85.6a9 9 0 1 0 18 0a9 9 0 1 0 -18 0M614.9 108.3a9 9 0 1 0 18 0a9 9 0 1 0 -18 0M651.8 99.7a9 9 0 1 0 18 0a9 9 0 1 0 -18 0M640.9 115.9a9 9 0 1 0 18 0a9 9 0 1 0 -18 0M665.9 113.8a9 9 0 1 0 18 0a9 9 0 1 0 -18 0M595.8 130.0a9 9 0 1 0 18 0a9 9 0 1 0 -18 0M621.4 130.0a9 9 0 1 0 18 0a9 9 0 1 0 -18 0M585.0 156.5a9 9 0 1 0 18 0a9 9 0 1 0 -18 0M608.0 151.1a9 9 0 1 0 18 0a9 9 0 1 0 -18 0M631.2 149.5a9 9 0 1 0 18 0a9 9 0 1 0 -18 0M577.6 180.3a9 9 0 1 0 18 0a9 9 0 1 0 -18 0M606.2 172.3a9 9 0 1 0 18 0a9 9 0 1 0 -18 0M601.9 191.5a9 9 0 1 0 18 0a9 9 0 1 0 -18 0M786.7 52.5a9 9 0 1 0 18 0a9 9 0 1 0 -18 0M810.6 49.5a9 9 0 1 0 18 0a9 9 0 1 0 -18 0M751.5 65.5a9 9 0 1 0 18 0a9 9 0 1 0 -18 0M777.6 70.2a9 9 0 1 0 18 0a9 9 0 1 0 -18 0M798.5 73.4a9 9 0 1 0 18 0a9 9 0 1 0 -18 0M833.3 61.6a9 9 0 1 0 18 0a9 9 0 1 0 -18 0M820.8 74.8a9 9 0 1 0 18 0a9 9 0 1 0 -18 0M850.4 78.2a9 9 0 1 0 18 0a9 9 0 1 0 -18 0M876.0 78.6a9 9 0 1 0 18 0a9 9 0 1 0 -18 0M798.1 93.9a9 9 0 1 0 18 0a9 9 0 1 0 -18 0M819.7 94.5a9 9 0 1 0 18 0a9 9 0 1 0 -18 0M839.0 95.7a9 9 0 1 0 18 0a9 9 0 1 0 -18 0M859.5 99.5a9 9 0 1 0 18 0a9 9 0 1 0 -18 0M880.6 101.4a9 9 0 1 0 18 0a9 9 0 1 0 -18 0M902.6 110.0a9 9 0 1 0 18 0a9 9 0 1 0 -18 0M841.3 115.5a9 9 0 1 0 18 0a9 9 0 1 0 -18 0M860.6 118.4a9 9 0 1 0 18 0a9 9 0 1 0 -18 0M879.9 124.1a9 9 0 1 0 18 0a9 9 0 1 0 -18 0M893.5 137.3a9 9 0 1 0 18 0a9 9 0 1 0 -18 0M915.6 132.7a9 9 0 1 0 18 0a9 9 0 1 0 -18 0M865.1 138.9a9 9 0 1 0 18 0a9 9 0 1 0 -18 0M886.7 155.9a9 9 0 1 0 18 0a9 9 0 1 0 -18 0M889.0 157.0a9 9 0 1 0 18 0a9 9 0 1 0 -18 0M920.8 155.9a9 9 0 1 0 18 0a9 9 0 1 0 -18 0M923.8 178.6a9 9 0 1 0 18 0a9 9 0 1 0 -18 0M919.7 198.0a9 9 0 1 0 18 0a9 9 0 1 0 -18 0M893.5 176.4a9 9 0 1 0 18 0a9 9 0 1 0 -18 0M852.6 140.0a9 9 0 1 0 18 0a9 9 0 1 0 -18 0M766.3 83.2a9 9 0 1 0 18 0a9 9 0 1 0 -18 0M761.7 82.0a9 9 0 1 0 18 0a9 9 0 1 0 -18 0M581.0 203.5a9 9 0 1 0 18 0a9 9 0 1 0 -18 0M604.9 211.1a9 9 0 1 0 18 0a9 9 0 1 0 -18 0M620.5 200.4a9 9 0 1 0 18 0a9 9 0 1 0 -18 0M573.3 222.0a9 9 0 1 0 18 0a9 9 0 1 0 -18 0M595.5 230.7a9 9 0 1 0 18 0a9 9 0 1 0 -18 0M614.7 227.4a9 9 0 1 0 18 0a9 9 0 1 0 -18 0M579.9 250.2a9 9 0 1 0 18 0a9 9 0 1 0 -18 0M603.1 254.6a9 9 0 1 0 18 0a9 9 0 1 0 -18 0M626.0 244.3a9 9 0 1 0 18 0a9 9 0 1 0 -18 0M628.0 246.0a9 9 0 1 0 18 0a9 9 0 1 0 -18 0M594.4 275.9a9 9 0 1 0 18 0a9 9 0 1 0 -18 0M617.3 277.0a9 9 0 1 0 18 0a9 9 0 1 0 -18 0M632.0 288.5a9 9 0 1 0 18 0a9 9 0 1 0 -18 0M614.0 307.4a9 9 0 1 0 18 0a9 9 0 1 0 -18 0M639.7 307.8a9 9 0 1 0 18 0a9 9 0 1 0 -18 0M637.9 332.4a9 9 0 1 0 18 0a9 9 0 1 0 -18 0M659.2 324.8a9 9 0 1 0 18 0a9 9 0 1 0 -18 0M667.3 351.3a9 9 0 1 0 18 0a9 9 0 1 0 -18 0M683.1 335.2a9 9 0 1 0 18 0a9 9 0 1 0 -18 0M698.3 352.6a9 9 0 1 0 18 0a9 9 0 1 0 -18 0M735.7 357.0a9 9 0 1 0 18 0a9 9 0 1 0 -18 0M715.1 333.5a9 9 0 1 0 18 0a9 9 0 1 0 -18 0M652.0 287.8a9 9 0 1 0 18 0a9 9 0 1 0 -18 0M662.9 303.0a9 9 0 1 0 18 0a9 9 0 1 0 -18 0M680.3 312.8a9 9 0 1 0 18 0a9 9 0 1 0 -18 0M702.0 320.4a9 9 0 1 0 18 0a9 9 0 1 0 -18 0M739.0 332.4a9 9 0 1 0 18 0a9 9 0 1 0 -18 0M931.7 219.1a9 9 0 1 0 18 0a9 9 0 1 0 -18 0M909.5 227.5a9 9 0 1 0 18 0a9 9 0 1 0 -18 0M900.4 246.8a9 9 0 1 0 18 0a9 9 0 1 0 -18 0M926.5 245.2a9 9 0 1 0 18 0a9 9 0 1 0 -18 0M898.1 267.3a9 9 0 1 0 18 0a9 9 0 1 0 -18 0M920.8 269.1a9 9 0 1 0 18 0a9 9 0 1 0 -18 0M884.5 287.3a9 9 0 1 0 18 0a9 9 0 1 0 -18 0M907.2 292.3a9 9 0 1 0 18 0a9 9 0 1 0 -18 0M870.4 296.8a9 9 0 1 0 18 0a9 9 0 1 0 -18 0M891.3 313.9a9 9 0 1 0 18 0a9 9 0 1 0 -18 0M848.1 311.1a9 9 0 1 0 18 0a9 9 0 1 0 -18 0M868.5 318.4a9 9 0 1 0 18 0a9 9 0 1 0 -18 0M832.9 324.1a9 9 0 1 0 18 0a9 9 0 1 0 -18 0M853.8 338.9a9 9 0 1 0 18 0a9 9 0 1 0 -18 0M815.8 336.1a9 9 0 1 0 18 0a9 9 0 1 0 -18 0M832.2 353.2a9 9 0 1 0 18 0a9 9 0 1 0 -18 0M794.7 342.3a9 9 0 1 0 18 0a9 9 0 1 0 -18 0M778.8 360.0a9 9 0 1 0 18 0a9 9 0 1 0 -18 0M772.6 335.5a9 9 0 1 0 18 0a9 9 0 1 0 -18 0M750.4 342.3a9 9 0 1 0 18 0a9 9 0 1 0 -18 0M875.4 254.8a9 9 0 1 0 18 0a9 9 0 1 0 -18 0M877.0 257.0a9 9 0 1 0 18 0a9 9 0 1 0 -18 0M887.9 227.5a9 9 0 1 0 18 0a9 9 0 1 0 -18 0M889.0 203.6a9 9 0 1 0 18 0a9 9 0 1 0 -18 0M891.0 206.0a9 9 0 1 0 18 0a9 9 0 1 0 -18 0M743.9 216.8a9 9 0 1 0 18 0a9 9 0 1 0 -18 0M739.7 178.6a9 9 0 1 0 18 0a9 9 0 1 0 -18 0M809.0 122.9a9 9 0 1 0 18 0a9 9 0 1 0 -18 0M827.7 229.7a9 9 0 1 0 18 0a9 9 0 1 0 -18 0M727.3 175.0a9 9 0 1 0 18 0a9 9 0 1 0 -18 0M781.1 193.3a9 9 0 1 0 18 0a9 9 0 1 0 -18 0M887.2 229.3a9 9 0 1 0 18 0a9 9 0 1 0 -18 0M793.7 123.8a9 9 0 1 0 18 0a9 9 0 1 0 -18 0M707.4 126.1a9 9 0 1 0 18 0a9 9 0 1 0 -18 0M743.6 256.2a9 9 0 1 0 18 0a9 9 0 1 0 -18 0M818.8 182.8a9 9 0 1 0 18 0a9 9 0 1 0 -18 0M759.7 258.8a9 9 0 1 0 18 0a9 9 0 1 0 -18 0M676.6 234.0a9 9 0 1 0 18 0a9 9 0 1 0 -18 0M855.2 243.0a9 9 0 1 0 18 0a9 9 0 1 0 -18 0M794.9 161.6a9 9 0 1 0 18 0a9 9 0 1 0 -18 0M747.4 283.9a9 9 0 1 0 18 0a9 9 0 1 0 -18 0M729.0 250.6a9 9 0 1 0 18 0a9 9 0 1 0 -18 0M754.0 142.2a9 9 0 1 0 18 0a9 9 0 1 0 -18 0M675.5 295.6a9 9 0 1 0 18 0a9 9 0 1 0 -18 0M850.9 244.1a9 9 0 1 0 18 0a9 9 0 1 0 -18 0M839.0 239.1a9 9 0 1 0 18 0a9 9 0 1 0 -18 0M673.1 218.2a9 9 0 1 0 18 0a9 9 0 1 0 -18 0M738.5 138.4a9 9 0 1 0 18 0a9 9 0 1 0 -18 0M786.0 152.1a9 9 0 1 0 18 0a9 9 0 1 0 -18 0M698.5 180.0a9 9 0 1 0 18 0a9 9 0 1 0 -18 0M791.5 140.7a9 9 0 1 0 18 0a9 9 0 1 0 -18 0M814.1 254.9a9 9 0 1 0 18 0a9 9 0 1 0 -18 0M817.2 205.9a9 9 0 1 0 18 0a9 9 0 1 0 -18 0M806.3 248.5a9 9 0 1 0 18 0a9 9 0 1 0 -18 0M629.5 211.0a9 9 0 1 0 18 0a9 9 0 1 0 -18 0M729.5 140.7a9 9 0 1 0 18 0a9 9 0 1 0 -18 0M892.1 196.6a9 9 0 1 0 18 0a9 9 0 1 0 -18 0M818.1 293.3a9 9 0 1 0 18 0a9 9 0 1 0 -18 0M842.5 287.9a9 9 0 1 0 18 0a9 9 0 1 0 -18 0M737.8 167.2a9 9 0 1 0 18 0a9 9 0 1 0 -18 0M730.4 212.9a9 9 0 1 0 18 0a9 9 0 1 0 -18 0M823.4 188.6a9 9 0 1 0 18 0a9 9 0 1 0 -18 0M857.9 244.9a9 9 0 1 0 18 0a9 9 0 1 0 -18 0M846.7 155.2a9 9 0 1 0 18 0a9 9 0 1 0 -18 0M731.5 178.9a9 9 0 1 0 18 0a9 9 0 1 0 -18 0M751.2 150.0a9 9 0 1 0 18 0a9 9 0 1 0 -18 0M795.4 189.1a9 9 0 1 0 18 0a9 9 0 1 0 -18 0M697.3 217.9a9 9 0 1 0 18 0a9 9 0 1 0 -18 0M813.1 245.6a9 9 0 1 0 18 0a9 9 0 1 0 -18 0M793.0 125.2a9 9 0 1 0 18 0a9 9 0 1 0 -18 0M766.2 177.9a9 9 0 1 0 18 0a9 9 0 1 0 -18 0M724.8 168.6a9 9 0 1 0 18 0a9 9 0 1 0 -18 0M759.7 272.0a9 9 0 1 0 18 0a9 9 0 1 0 -18 0M824.2 278.3a9 9 0 1 0 18 0a9 9 0 1 0 -18 0M707.7 98.6a9 9 0 1 0 18 0a9 9 0 1 0 -18 0M776.3 237.4a9 9 0 1 0 18 0a9 9 0 1 0 -18 0M766.6 169.3a9 9 0 1 0 18 0a9 9 0 1 0 -18 0M662.0 239.9a9 9 0 1 0 18 0a9 9 0 1 0 -18 0M790.0 250.9a9 9 0 1 0 18 0a9 9 0 1 0 -18 0M771.0 259.9a9 9 0 1 0 18 0a9 9 0 1 0 -18 0M671.4 269.9a9 9 0 1 0 18 0a9 9 0 1 0 -18 0M711.3 210.3a9 9 0 1 0 18 0a9 9 0 1 0 -18 0M744.7 140.0a9 9 0 1 0 18 0a9 9 0 1 0 -18 0M671.4 146.6a9 9 0 1 0 18 0a9 9 0 1 0 -18 0M691.2 303.7a9 9 0 1 0 18 0a9 9 0 1 0 -18 0M798.0 137.2a9 9 0 1 0 18 0a9 9 0 1 0 -18 0M646.7 244.9a9 9 0 1 0 18 0a9 9 0 1 0 -18 0M793.2 186.4a9 9 0 1 0 18 0a9 9 0 1 0 -18 0M762.0 240.2a9 9 0 1 0 18 0a9 9 0 1 0 -18 0M869.7 152.6a9 9 0 1 0 18 0a9 9 0 1 0 -18 0M780.8 174.9a9 9 0 1 0 18 0a9 9 0 1 0 -18 0M626.7 257.3a9 9 0 1 0 18 0a9 9 0 1 0 -18 0M748.3 81.3a9 9 0 1 0 18 0a9 9 0 1 0 -18 0M881.0 182.1a9 9 0 1 0 18 0a9 9 0 1 0 -18 0M742.1 265.0a9 9 0 1 0 18 0a9 9 0 1 0 -18 0M710.3 146.7a9 9 0 1 0 18 0a9 9 0 1 0 -18 0M778.7 158.4a9 9 0 1 0 18 0a9 9 0 1 0 -18 0M734.9 230.8a9 9 0 1 0 18 0a9 9 0 1 0 -18 0M775.6 253.5a9 9 0 1 0 18 0a9 9 0 1 0 -18 0M641.6 193.1a9 9 0 1 0 18 0a9 9 0 1 0 -18 0M699.0 222.7a9 9 0 1 0 18 0a9 9 0 1 0 -18 0M751.4 296.9a9 9 0 1 0 18 0a9 9 0 1 0 -18 0M681.9 222.9a9 9 0 1 0 18 0a9 9 0 1 0 -18 0M747.9 165.5a9 9 0 1 0 18 0a9 9 0 1 0 -18 0M685.6 162.5a9 9 0 1 0 18 0a9 9 0 1 0 -18 0M804.2 137.9a9 9 0 1 0 18 0a9 9 0 1 0 -18 0M740.4 238.4a9 9 0 1 0 18 0a9 9 0 1 0 -18 0M790.1 252.6a9 9 0 1 0 18 0a9 9 0 1 0 -18 0M721.4 322.5a9 9 0 1 0 18 0a9 9 0 1 0 -18 0M704.6 202.5a9 9 0 1 0 18 0a9 9 0 1 0 -18 0M891.4 189.2a9 9 0 1 0 18 0a9 9 0 1 0 -18 0M654.4 150.6a9 9 0 1 0 18 0a9 9 0 1 0 -18 0M756.6 83.6a9 9 0 1 0 18 0a9 9 0 1 0 -18 0M688.1 140.8a9 9 0 1 0 18 0a9 9 0 1 0 -18 0M740.8 176.9a9 9 0 1 0 18 0a9 9 0 1 0 -18 0M759.8 252.1a9 9 0 1 0 18 0a9 9 0 1 0 -18 0M743.2 242.2a9 9 0 1 0 18 0a9 9 0 1 0 -18 0M760.9 165.4a9 9 0 1 0 18 0a9 9 0 1 0 -18 0M778.6 245.4a9 9 0 1 0 18 0a9 9 0 1 0 -18 0M759.1 273.1a9 9 0 1 0 18 0a9 9 0 1 0 -18 0M726.2 164.6a9 9 0 1 0 18 0a9 9 0 1 0 -18 0M715.1 156.9a9 9 0 1 0 18 0a9 9 0 1 0 -18 0M767.7 275.0a9 9 0 1 0 18 0a9 9 0 1 0 -18 0M768.8 177.8a9 9 0 1 0 18 0a9 9 0 1 0 -18 0M744.2 123.7a9 9 0 1 0 18 0a9 9 0 1 0 -18 0M750.8 115.9a9 9 0 1 0 18 0a9 9 0 1 0 -18 0M835.8 291.2a9 9 0 1 0 18 0a9 9 0 1 0 -18 0M737.4 106.1a9 9 0 1 0 18 0a9 9 0 1 0 -18 0M760.3 298.3a9 9 0 1 0 18 0a9 9 0 1 0 -18 0M794.0 120.5a9 9 0 1 0 18 0a9 9 0 1 0 -18 0M750.6 257.8a9 9 0 1 0 18 0a9 9 0 1 0 -18 0M812.8 130.0a9 9 0 1 0 18 0a9 9 0 1 0 -18 0M688.7 319.0a9 9 0 1 0 18 0a9 9 0 1 0 -18 0M873.7 252.9a9 9 0 1 0 18 0a9 9 0 1 0 -18 0M748.4 265.8a9 9 0 1 0 18 0a9 9 0 1 0 -18 0M696.9 245.9a9 9 0 1 0 18 0a9 9 0 1 0 -18 0M735.0 196.7a9 9 0 1 0 18 0a9 9 0 1 0 -18 0M891.0 195.5a9 9 0 1 0 18 0a9 9 0 1 0 -18 0M720.3 269.8a9 9 0 1 0 18 0a9 9 0 1 0 -18 0M782.0 217.7a9 9 0 1 0 18 0a9 9 0 1 0 -18 0M741.2 266.5a9 9 0 1 0 18 0a9 9 0 1 0 -18 0M839.9 233.7a9 9 0 1 0 18 0a9 9 0 1 0 -18 0M792.6 273.6a9 9 0 1 0 18 0a9 9 0 1 0 -18 0M663.1 199.3a9 9 0 1 0 18 0a9 9 0 1 0 -18 0M790.7 156.6a9 9 0 1 0 18 0a9 9 0 1 0 -18 0M737.4 120.7a9 9 0 1 0 18 0a9 9 0 1 0 -18 0M677.9 314.0a9 9 0 1 0 18 0a9 9 0 1 0 -18 0M791.6 194.9a9 9 0 1 0 18 0a9 9 0 1 0 -18 0M743.1 231.7a9 9 0 1 0 18 0a9 9 0 1 0 -18 0M775.0 150.4a9 9 0 1 0 18 0a9 9 0 1 0 -18 0M712.7 253.0a9 9 0 1 0 18 0a9 9 0 1 0 -18 0M875.9 220.2a9 9 0 1 0 18 0a9 9 0 1 0 -18 0M660.9 152.2a9 9 0 1 0 18 0a9 9 0 1 0 -18 0M819.3 178.3a9 9 0 1 0 18 0a9 9 0 1 0 -18 0M773.5 243.8a9 9 0 1 0 18 0a9 9 0 1 0 -18 0M790.7 169.4a9 9 0 1 0 18 0a9 9 0 1 0 -18 0M800.9 122.0a9 9 0 1 0 18 0a9 9 0 1 0 -18 0M774.8 277.1a9 9 0 1 0 18 0a9 9 0 1 0 -18 0M839.5 273.7a9 9 0 1 0 18 0a9 9 0 1 0 -18 0M834.9 246.3a9 9 0 1 0 18 0a9 9 0 1 0 -18 0M776.7 257.3a9 9 0 1 0 18 0a9 9 0 1 0 -18 0M794.4 185.4a9 9 0 1 0 18 0a9 9 0 1 0 -18 0M778.6 175.3a9 9 0 1 0 18 0a9 9 0 1 0 -18 0M784.3 181.5a9 9 0 1 0 18 0a9 9 0 1 0 -18 0M829.7 144.9a9 9 0 1 0 18 0a9 9 0 1 0 -18 0M737.5 137.7a9 9 0 1 0 18 0a9 9 0 1 0 -18 0M643.9 178.8a9 9 0 1 0 18 0a9 9 0 1 0 -18 0M756.0 171.2a9 9 0 1 0 18 0a9 9 0 1 0 -18 0M722.8 307.3a9 9 0 1 0 18 0a9 9 0 1 0 -18 0M798.7 252.6a9 9 0 1 0 18 0a9 9 0 1 0 -18 0M688.9 204.8a9 9 0 1 0 18 0a9 9 0 1 0 -18 0M802.7 277.0a9 9 0 1 0 18 0a9 9 0 1 0 -18 0M662.1 232.2a9 9 0 1 0 18 0a9 9 0 1 0 -18 0M697.3 245.4a9 9 0 1 0 18 0a9 9 0 1 0 -18 0M780.0 164.7a9 9 0 1 0 18 0a9 9 0 1 0 -18 0M770.9 157.0a9 9 0 1 0 18 0a9 9 0 1 0 -18 0M733.5 201.4a9 9 0 1 0 18 0a9 9 0 1 0 -18 0M722.3 138.2a9 9 0 1 0 18 0a9 9 0 1 0 -18 0M801.3 164.8a9 9 0 1 0 18 0a9 9 0 1 0 -18 0M863.4 274.1a9 9 0 1 0 18 0a9 9 0 1 0 -18 0M733.4 312.6a9 9 0 1 0 18 0a9 9 0 1 0 -18 0M665.6 255.6a9 9 0 1 0 18 0a9 9 0 1 0 -18 0M840.8 248.0a9 9 0 1 0 18 0a9 9 0 1 0 -18 0M832.2 213.2a9 9 0 1 0 18 0a9 9 0 1 0 -18 0M737.2 275.9a9 9 0 1 0 18 0a9 9 0 1 0 -18 0M788.3 177.4a9 9 0 1 0 18 0a9 9 0 1 0 -18 0M747.5 207.6a9 9 0 1 0 18 0a9 9 0 1 0 -18 0M719.3 203.9a9 9 0 1 0 18 0a9 9 0 1 0 -18 0M841.0 247.4a9 9 0 1 0 18 0a9 9 0 1 0 -18 0M684.0 209.0a9 9 0 1 0 18 0a9 9 0 1 0 -18 0M735.0 129.3a9 9 0 1 0 18 0a9 9 0 1 0 -18 0M761.5 232.0a9 9 0 1 0 18 0a9 9 0 1 0 -18 0M696.1 176.3a9 9 0 1 0 18 0a9 9 0 1 0 -18 0M724.6 267.9a9 9 0 1 0 18 0a9 9 0 1 0 -18 0M846.8 255.3a9 9 0 1 0 18 0a9 9 0 1 0 -18 0M824.3 295.7a9 9 0 1 0 18 0a9 9 0 1 0 -18 0M893.7 204.5a9 9 0 1 0 18 0a9 9 0 1 0 -18 0M763.1 241.7a9 9 0 1 0 18 0a9 9 0 1 0 -18 0M729.7 245.1a9 9 0 1 0 18 0a9 9 0 1 0 -18 0M815.5 110.7a9 9 0 1 0 18 0a9 9 0 1 0 -18 0M790.8 149.2a9 9 0 1 0 18 0a9 9 0 1 0 -18 0M725.0 266.5a9 9 0 1 0 18 0a9 9 0 1 0 -18 0M752.1 131.6a9 9 0 1 0 18 0a9 9 0 1 0 -18 0M822.0 207.0a9 9 0 1 0 18 0a9 9 0 1 0 -18 0M785.9 119.8a9 9 0 1 0 18 0a9 9 0 1 0 -18 0M763.2 194.8a9 9 0 1 0 18 0a9 9 0 1 0 -18 0M769.8 115.7a9 9 0 1 0 18 0a9 9 0 1 0 -18 0M764.3 281.5a9 9 0 1 0 18 0a9 9 0 1 0 -18 0M726.4 205.6a9 9 0 1 0 18 0a9 9 0 1 0 -18 0M827.6 274.9a9 9 0 1 0 18 0a9 9 0 1 0 -18 0M797.0 261.8a9 9 0 1 0 18 0a9 9 0 1 0 -18 0M765.1 227.2a9 9 0 1 0 18 0a9 9 0 1 0 -18 0M809.6 153.5a9 9 0 1 0 18 0a9 9 0 1 0 -18 0M774.2 248.1a9 9 0 1 0 18 0a9 9 0 1 0 -18 0M697.2 228.0a9 9 0 1 0 18 0a9 9 0 1 0 -18 0M746.8 171.2a9 9 0 1 0 18 0a9 9 0 1 0 -18 0M704.7 227.3a9 9 0 1 0 18 0a9 9 0 1 0 -18 0M753.8 188.2a9 9 0 1 0 18 0a9 9 0 1 0 -18 0M670.6 246.8a9 9 0 1 0 18 0a9 9 0 1 0 -18 0M683.4 148.5a9 9 0 1 0 18 0a9 9 0 1 0 -18 0M709.4 241.4a9 9 0 1 0 18 0a9 9 0 1 0 -18 0M781.5 142.1a9 9 0 1 0 18 0a9 9 0 1 0 -18 0M844.7 143.2a9 9 0 1 0 18 0a9 9 0 1 0 -18 0M784.3 110.8a9 9 0 1 0 18 0a9 9 0 1 0 -18 0M741.7 116.3a9 9 0 1 0 18 0a9 9 0 1 0 -18 0M736.5 272.4a9 9 0 1 0 18 0a9 9 0 1 0 -18 0M850.5 229.9a9 9 0 1 0 18 0a9 9 0 1 0 -18 0M732.4 155.1a9 9 0 1 0 18 0a9 9 0 1 0 -18 0M690.4 110.8a9 9 0 1 0 18 0a9 9 0 1 0 -18 0M776.5 250.7a9 9 0 1 0 18 0a9 9 0 1 0 -18 0M668.8 121.3a9 9 0 1 0 18 0a9 9 0 1 0 -18 0M714.2 232.4a9 9 0 1 0 18 0a9 9 0 1 0 -18 0M819.3 257.0a9 9 0 1 0 18 0a9 9 0 1 0 -18 0M687.4 229.7a9 9 0 1 0 18 0a9 9 0 1 0 -18 0M655.9 240.1a9 9 0 1 0 18 0a9 9 0 1 0 -18 0M721.7 104.9a9 9 0 1 0 18 0a9 9 0 1 0 -18 0M726.9 268.3a9 9 0 1 0 18 0a9 9 0 1 0 -18 0M705.9 223.1a9 9 0 1 0 18 0a9 9 0 1 0 -18 0M759.6 181.8a9 9 0 1 0 18 0a9 9 0 1 0 -18 0M694.9 304.2a9 9 0 1 0 18 0a9 9 0 1 0 -18 0M855.0 208.2a9 9 0 1 0 18 0a9 9 0 1 0 -18 0M706.9 189.3a9 9 0 1 0 18 0a9 9 0 1 0 -18 0M815.8 222.6a9 9 0 1 0 18 0a9 9 0 1 0 -18 0M743.3 80.4a9 9 0 1 0 18 0a9 9 0 1 0 -18 0M675.3 221.9a9 9 0 1 0 18 0a9 9 0 1 0 -18 0M708.5 278.4a9 9 0 1 0 18 0a9 9 0 1 0 -18 0M868.8 166.0a9 9 0 1 0 18 0a9 9 0 1 0 -18 0M774.3 269.7a9 9 0 1 0 18 0a9 9 0 1 0 -18 0M819.0 241.7a9 9 0 1 0 18 0a9 9 0 1 0 -18 0M824.1 207.8a9 9 0 1 0 18 0a9 9 0 1 0 -18 0M778.0 139.2a9 9 0 1 0 18 0a9 9 0 1 0 -18 0M679.1 187.9a9 9 0 1 0 18 0a9 9 0 1 0 -18 0M755.7 238.9a9 9 0 1 0 18 0a9 9 0 1 0 -18 0M698.0 239.9a9 9 0 1 0 18 0a9 9 0 1 0 -18 0M899.4 238.7a9 9 0 1 0 18 0a9 9 0 1 0 -18 0M692.1 181.1a9 9 0 1 0 18 0a9 9 0 1 0 -18 0M761.2 263.0a9 9 0 1 0 18 0a9 9 0 1 0 -18 0M848.9 222.2a9 9 0 1 0 18 0a9 9 0 1 0 -18 0M793.2 160.4a9 9 0 1 0 18 0a9 9 0 1 0 -18 0M836.2 166.1a9 9 0 1 0 18 0a9 9 0 1 0 -18 0M724.2 194.5a9 9 0 1 0 18 0a9 9 0 1 0 -18 0M825.6 160.0a9 9 0 1 0 18 0a9 9 0 1 0 -18 0M789.5 165.7a9 9 0 1 0 18 0a9 9 0 1 0 -18 0M773.5 131.7a9 9 0 1 0 18 0a9 9 0 1 0 -18 0M677.8 217.0a9 9 0 1 0 18 0a9 9 0 1 0 -18 0M756.1 250.6a9 9 0 1 0 18 0a9 9 0 1 0 -18 0M688.1 127.1a9 9 0 1 0 18 0a9 9 0 1 0 -18 0M801.4 235.7a9 9 0 1 0 18 0a9 9 0 1 0 -18 0M852.9 191.9a9 9 0 1 0 18 0a9 9 0 1 0 -18 0M819.6 177.2a9 9 0 1 0 18 0a9 9 0 1 0 -18 0M701.2 238.3a9 9 0 1 0 18 0a9 9 0 1 0 -18 0M687.6 230.7a9 9 0 1 0 18 0a9 9 0 1 0 -18 0M696.8 133.7a9 9 0 1 0 18 0a9 9 0 1 0 -18 0M753.4 230.0a9 9 0 1 0 18 0a9 9 0 1 0 -18 0M729.3 210.1a9 9 0 1 0 18 0a9 9 0 1 0 -18 0M687.6 154.6a9 9 0 1 0 18 0a9 9 0 1 0 -18 0M710.2 192.7a9 9 0 1 0 18 0a9 9 0 1 0 -18 0M785.6 317.2a9 9 0 1 0 18 0a9 9 0 1 0 -18 0M719.9 209.4a9 9 0 1 0 18 0a9 9 0 1 0 -18 0M721.1 285.2a9 9 0 1 0 18 0a9 9 0 1 0 -18 0M830.1 271.0a9 9 0 1 0 18 0a9 9 0 1 0 -18 0M838.5 273.2a9 9 0 1 0 18 0a9 9 0 1 0 -18 0M797.5 266.9a9 9 0 1 0 18 0a9 9 0 1 0 -18 0M877.5 236.3a9 9 0 1 0 18 0a9 9 0 1 0 -18 0M705.5 218.0a9 9 0 1 0 18 0a9 9 0 1 0 -18 0M659.2 269.6a9 9 0 1 0 18 0a9 9 0 1 0 -18 0M776.9 268.5a9 9 0 1 0 18 0a9 9 0 1 0 -18 0M715.1 326.4a9 9 0 1 0 18 0a9 9 0 1 0 -18 0M814.7 191.2a9 9 0 1 0 18 0a9 9 0 1 0 -18 0M795.9 275.7a9 9 0 1 0 18 0a9 9 0 1 0 -18 0M658.3 185.9a9 9 0 1 0 18 0a9 9 0 1 0 -18 0M777.2 131.7a9 9 0 1 0 18 0a9 9 0 1 0 -18 0M784.0 251.7a9 9 0 1 0 18 0a9 9 0 1 0 -18 0M769.7 296.2a9 9 0 1 0 18 0a9 9 0 1 0 -18 0M698.9 178.7a9 9 0 1 0 18 0a9 9 0 1 0 -18 0M687.3 310.4a9 9 0 1 0 18 0a9 9 0 1 0 -18 0M813.0 166.9a9 9 0 1 0 18 0a9 9 0 1 0 -18 0M752.7 271.0a9 9 0 1 0 18 0a9 9 0 1 0 -18 0M805.7 260.9a9 9 0 1 0 18 0a9 9 0 1 0 -18 0M831.8 210.7a9 9 0 1 0 18 0a9 9 0 1 0 -18 0M832.6 260.7a9 9 0 1 0 18 0a9 9 0 1 0 -18 0M649.5 145.7a9 9 0 1 0 18 0a9 9 0 1 0 -18 0M759.0 116.6a9 9 0 1 0 18 0a9 9 0 1 0 -18 0M749.2 274.4a9 9 0 1 0 18 0a9 9 0 1 0 -18 0M818.7 285.0a9 9 0 1 0 18 0a9 9 0 1 0 -18 0M685.0 227.6a9 9 0 1 0 18 0a9 9 0 1 0 -18 0M838.5 180.7a9 9 0 1 0 18 0a9 9 0 1 0 -18 0M816.3 303.3a9 9 0 1 0 18 0a9 9 0 1 0 -18 0M739.1 287.1a9 9 0 1 0 18 0a9 9 0 1 0 -18 0M798.3 229.3a9 9 0 1 0 18 0a9 9 0 1 0 -18 0M758.2 304.1a9 9 0 1 0 18 0a9 9 0 1 0 -18 0M697.4 247.2a9 9 0 1 0 18 0a9 9 0 1 0 -18 0M724.6 223.2a9 9 0 1 0 18 0a9 9 0 1 0 -18 0M775.9 308.6a9 9 0 1 0 18 0a9 9 0 1 0 -18 0M733.4 248.8a9 9 0 1 0 18 0a9 9 0 1 0 -18 0M788.0 175.5a9 9 0 1 0 18 0a9 9 0 1 0 -18 0M772.5 289.4a9 9 0 1 0 18 0a9 9 0 1 0 -18 0M811.5 316.3a9 9 0 1 0 18 0a9 9 0 1 0 -18 0M715.3 189.8a9 9 0 1 0 18 0a9 9 0 1 0 -18 0M773.0 276.5a9 9 0 1 0 18 0a9 9 0 1 0 -18 0M734.6 198.5a9 9 0 1 0 18 0a9 9 0 1 0 -18 0M771.0 258.3a9 9 0 1 0 18 0a9 9 0 1 0 -18 0M855.0 231.6a9 9 0 1 0 18 0a9 9 0 1 0 -18 0M895.2 236.1a9 9 0 1 0 18 0a9 9 0 1 0 -18 0M715.6 146.7a9 9 0 1 0 18 0a9 9 0 1 0 -18 0M710.9 155.4a9 9 0 1 0 18 0a9 9 0 1 0 -18 0M790.2 312.0a9 9 0 1 0 18 0a9 9 0 1 0 -18 0M720.9 156.0a9 9 0 1 0 18 0a9 9 0 1 0 -18 0M758.2 160.5a9 9 0 1 0 18 0a9 9 0 1 0 -18 0M740.0 211.3a9 9 0 1 0 18 0a9 9 0 1 0 -18 0M719.6 165.8a9 9 0 1 0 18 0a9 9 0 1 0 -18 0M775.1 203.1a9 9 0 1 0 18 0a9 9 0 1 0 -18 0M835.6 151.1a9 9 0 1 0 18 0a9 9 0 1 0 -18 0M836.8 294.1a9 9 0 1 0 18 0a9 9 0 1 0 -18 0M792.0 206.1a9 9 0 1 0 18 0a9 9 0 1 0 -18 0M757.2 216.7a9 9 0 1 0 18 0a9 9 0 1 0 -18 0M789.9 321.4a9 9 0 1 0 18 0a9 9 0 1 0 -18 0M809.4 174.0a9 9 0 1 0 18 0a9 9 0 1 0 -18 0M788.9 294.5a9 9 0 1 0 18 0a9 9 0 1 0 -18 0M844.6 276.5a9 9 0 1 0 18 0a9 9 0 1 0 -18 0M708.1 202.6a9 9 0 1 0 18 0a9 9 0 1 0 -18 0M782.2 160.4a9 9 0 1 0 18 0a9 9 0 1 0 -18 0M771.7 163.8a9 9 0 1 0 18 0a9 9 0 1 0 -18 0M744.1 88.7a9 9 0 1 0 18 0a9 9 0 1 0 -18 0M801.6 303.1a9 9 0 1 0 18 0a9 9 0 1 0 -18 0M679.2 182.5a9 9 0 1 0 18 0a9 9 0 1 0 -18 0M834.1 165.6a9 9 0 1 0 18 0a9 9 0 1 0 -18 0M745.9 268.1a9 9 0 1 0 18 0a9 9 0 1 0 -18 0M754.3 237.7a9 9 0 1 0 18 0a9 9 0 1 0 -18 0M757.0 184.3a9 9 0 1 0 18 0a9 9 0 1 0 -18 0M709.8 227.2a9 9 0 1 0 18 0a9 9 0 1 0 -18 0M780.9 272.3a9 9 0 1 0 18 0a9 9 0 1 0 -18 0M829.7 164.7a9 9 0 1 0 18 0a9 9 0 1 0 -18 0M790.0 96.7a9 9 0 1 0 18 0a9 9 0 1 0 -18 0M792.8 171.5a9 9 0 1 0 18 0a9 9 0 1 0 -18 0M853.7 244.8a9 9 0 1 0 18 0a9 9 0 1 0 -18 0M852.5 258.6a9 9 0 1 0 18 0a9 9 0 1 0 -18 0M688.2 205.5a9 9 0 1 0 18 0a9 9 0 1 0 -18 0M675.1 131.8a9 9 0 1 0 18 0a9 9 0 1 0 -18 0M731.4 142.2a9 9 0 1 0 18 0a9 9 0 1 0 -18 0M863.3 164.7a9 9 0 1 0 18 0a9 9 0 1 0 -18 0M725.6 161.6a9 9 0 1 0 18 0a9 9 0 1 0 -18 0M753.7 217.9a9 9 0 1 0 18 0a9 9 0 1 0 -18 0M850.9 191.1a9 9 0 1 0 18 0a9 9 0 1 0 -18 0M814.3 250.1a9 9 0 1 0 18 0a9 9 0 1 0 -18 0M762.9 273.2a9 9 0 1 0 18 0a9 9 0 1 0 -18 0M779.4 114.0a9 9 0 1 0 18 0a9 9 0 1 0 -18 0M751.0 187.5a9 9 0 1 0 18 0a9 9 0 1 0 -18 0M821.7 292.7a9 9 0 1 0 18 0a9 9 0 1 0 -18 0M837.1 166.8a9 9 0 1 0 18 0a9 9 0 1 0 -18 0M733.6 235.5a9 9 0 1 0 18 0a9 9 0 1 0 -18 0M778.4 295.6a9 9 0 1 0 18 0a9 9 0 1 0 -18 0M739.2 287.3a9 9 0 1 0 18 0a9 9 0 1 0 -18 0M800.5 112.7a9 9 0 1 0 18 0a9 9 0 1 0 -18 0M729.9 255.1a9 9 0 1 0 18 0a9 9 0 1 0 -18 0M780.6 296.1a9 9 0 1 0 18 0a9 9 0 1 0 -18 0M826.5 139.5a9 9 0 1 0 18 0a9 9 0 1 0 -18 0M803.8 189.6a9 9 0 1 0 18 0a9 9 0 1 0 -18 0M762.2 265.4a9 9 0 1 0 18 0a9 9 0 1 0 -18 0M829.0 154.4a9 9 0 1 0 18 0a9 9 0 1 0 -18 0M816.1 257.1a9 9 0 1 0 18 0a9 9 0 1 0 -18 0M822.4 207.9a9 9 0 1 0 18 0a9 9 0 1 0 -18 0M796.3 294.4a9 9 0 1 0 18 0a9 9 0 1 0 -18 0M800.5 192.1a9 9 0 1 0 18 0a9 9 0 1 0 -18 0M724.0 213.0a9 9 0 1 0 18 0a9 9 0 1 0 -18 0M694.9 203.0a9 9 0 1 0 18 0a9 9 0 1 0 -18 0M717.8 98.7a9 9 0 1 0 18 0a9 9 0 1 0 -18 0M746.9 195.2a9 9 0 1 0 18 0a9 9 0 1 0 -18 0M807.0 257.4a9 9 0 1 0 18 0a9 9 0 1 0 -18 0M692.3 169.8a9 9 0 1 0 18 0a9 9 0 1 0 -18 0M815.3 179.1a9 9 0 1 0 18 0a9 9 0 1 0 -18 0M764.7 271.1a9 9 0 1 0 18 0a9 9 0 1 0 -18 0M725.3 242.9a9 9 0 1 0 18 0a9 9 0 1 0 -18 0M814.1 304.8a9 9 0 1 0 18 0a9 9 0 1 0 -18 0M712.8 150.0a9 9 0 1 0 18 0a9 9 0 1 0 -18 0M772.1 300.6a9 9 0 1 0 18 0a9 9 0 1 0 -18 0M784.2 300.9a9 9 0 1 0 18 0a9 9 0 1 0 -18 0M774.6 166.4a9 9 0 1 0 18 0a9 9 0 1 0 -18 0M808.9 280.3a9 9 0 1 0 18 0a9 9 0 1 0 -18 0M694.2 152.1a9 9 0 1 0 18 0a9 9 0 1 0 -18 0M729.2 245.9a9 9 0 1 0 18 0a9 9 0 1 0 -18 0M761.1 209.6a9 9 0 1 0 18 0a9 9 0 1 0 -18 0M780.3 143.1a9 9 0 1 0 18 0a9 9 0 1 0 -18 0M732.0 151.1a9 9 0 1 0 18 0a9 9 0 1 0 -18 0M862.7 231.9a9 9 0 1 0 18 0a9 9 0 1 0 -18 0M692.4 227.6a9 9 0 1 0 18 0a9 9 0 1 0 -18 0M868.9 245.8a9 9 0 1 0 18 0a9 9 0 1 0 -18 0M748.2 245.5a9 9 0 1 0 18 0a9 9 0 1 0 -18 0M656.0 234.5a9 9 0 1 0 18 0a9 9 0 1 0 -18 0M865.0 232.9a9 9 0 1 0 18 0a9 9 0 1 0 -18 0M783.5 186.2a9 9 0 1 0 18 0a9 9 0 1 0 -18 0M797.9 267.9a9 9 0 1 0 18 0a9 9 0 1 0 -18 0M788.5 197.1a9 9 0 1 0 18 0a9 9 0 1 0 -18 0M717.2 248.3a9 9 0 1 0 18 0a9 9 0 1 0 -18 0M755.5 159.0a9 9 0 1 0 18 0a9 9 0 1 0 -18 0M753.8 225.1a9 9 0 1 0 18 0a9 9 0 1 0 -18 0M721.3 283.5a9 9 0 1 0 18 0a9 9 0 1 0 -18 0M854.3 224.1a9 9 0 1 0 18 0a9 9 0 1 0 -18 0M883.0 180.8a9 9 0 1 0 18 0a9 9 0 1 0 -18 0M780.8 126.5a9 9 0 1 0 18 0a9 9 0 1 0 -18 0M720.5 139.5a9 9 0 1 0 18 0a9 9 0 1 0 -18 0M688.6 177.7a9 9 0 1 0 18 0a9 9 0 1 0 -18 0M704.7 265.8a9 9 0 1 0 18 0a9 9 0 1 0 -18 0M716.5 165.9a9 9 0 1 0 18 0a9 9 0 1 0 -18 0M719.9 246.1a9 9 0 1 0 18 0a9 9 0 1 0 -18 0M723.6 218.5a9 9 0 1 0 18 0a9 9 0 1 0 -18 0M637.6 246.0a9 9 0 1 0 18 0a9 9 0 1 0 -18 0M708.8 260.3a9 9 0 1 0 18 0a9 9 0 1 0 -18 0M686.9 166.4a9 9 0 1 0 18 0a9 9 0 1 0 -18 0M762.0 255.3a9 9 0 1 0 18 0a9 9 0 1 0 -18 0M754.4 193.5a9 9 0 1 0 18 0a9 9 0 1 0 -18 0M764.3 155.4a9 9 0 1 0 18 0a9 9 0 1 0 -18 0M827.3 191.1a9 9 0 1 0 18 0a9 9 0 1 0 -18 0M691.4 197.0a9 9 0 1 0 18 0a9 9 0 1 0 -18 0M648.2 250.7a9 9 0 1 0 18 0a9 9 0 1 0 -18 0M788.1 240.6a9 9 0 1 0 18 0a9 9 0 1 0 -18 0M701.4 319.8a9 9 0 1 0 18 0a9 9 0 1 0 -18 0M817.0 145.2a9 9 0 1 0 18 0a9 9 0 1 0 -18 0M833.0 179.2a9 9 0 1 0 18 0a9 9 0 1 0 -18 0M839.5 139.4a9 9 0 1 0 18 0a9 9 0 1 0 -18 0M639.5 212.3a9 9 0 1 0 18 0a9 9 0 1 0 -18 0M794.9 270.0a9 9 0 1 0 18 0a9 9 0 1 0 -18 0M748.0 262.9a9 9 0 1 0 18 0a9 9 0 1 0 -18 0M727.0 155.3a9 9 0 1 0 18 0a9 9 0 1 0 -18 0M734.5 202.3a9 9 0 1 0 18 0a9 9 0 1 0 -18 0M866.8 213.4a9 9 0 1 0 18 0a9 9 0 1 0 -18 0M866.3 241.1a9 9 0 1 0 18 0a9 9 0 1 0 -18 0M653.5 243.5a9 9 0 1 0 18 0a9 9 0 1 0 -18 0M841.3 252.7a9 9 0 1 0 18 0a9 9 0 1 0 -18 0M815.2 164.8a9 9 0 1 0 18 0a9 9 0 1 0 -18 0M866.9 246.1a9 9 0 1 0 18 0a9 9 0 1 0 -18 0M894.4 252.2a9 9 0 1 0 18 0a9 9 0 1 0 -18 0M814.5 215.1a9 9 0 1 0 18 0a9 9 0 1 0 -18 0M789.2 190.2a9 9 0 1 0 18 0a9 9 0 1 0 -18 0M803.9 130.1a9 9 0 1 0 18 0a9 9 0 1 0 -18 0M676.6 223.6a9 9 0 1 0 18 0a9 9 0 1 0 -18 0M714.2 122.4a9 9 0 1 0 18 0a9 9 0 1 0 -18 0M684.1 264.6a9 9 0 1 0 18 0a9 9 0 1 0 -18 0M802.3 174.9a9 9 0 1 0 18 0a9 9 0 1 0 -18 0M802.0 108.5a9 9 0 1 0 18 0a9 9 0 1 0 -18 0M778.5 238.3a9 9 0 1 0 18 0a9 9 0 1 0 -18 0M663.5 186.9a9 9 0 1 0 18 0a9 9 0 1 0 -18 0M712.0 299.6a9 9 0 1 0 18 0a9 9 0 1 0 -18 0M802.3 235.9a9 9 0 1 0 18 0a9 9 0 1 0 -18 0M715.8 281.0a9 9 0 1 0 18 0a9 9 0 1 0 -18 0M776.8 248.4a9 9 0 1 0 18 0a9 9 0 1 0 -18 0M880.6 254.4a9 9 0 1 0 18 0a9 9 0 1 0 -18 0M687.3 232.7a9 9 0 1 0 18 0a9 9 0 1 0 -18 0M843.2 268.8a9 9 0 1 0 18 0a9 9 0 1 0 -18 0M699.3 181.9a9 9 0 1 0 18 0a9 9 0 1 0 -18 0M724.0 283.8a9 9 0 1 0 18 0a9 9 0 1 0 -18 0M720.5 297.0a9 9 0 1 0 18 0a9 9 0 1 0 -18 0M731.6 171.7a9 9 0 1 0 18 0a9 9 0 1 0 -18 0M691.4 270.4a9 9 0 1 0 18 0a9 9 0 1 0 -18 0M730.2 120.9a9 9 0 1 0 18 0a9 9 0 1 0 -18 0M734.8 167.5a9 9 0 1 0 18 0a9 9 0 1 0 -18 0M682.0 149.4a9 9 0 1 0 18 0a9 9 0 1 0 -18 0M717.5 122.2a9 9 0 1 0 18 0a9 9 0 1 0 -18 0M694.8 186.7a9 9 0 1 0 18 0a9 9 0 1 0 -18 0M769.5 243.9a9 9 0 1 0 18 0a9 9 0 1 0 -18 0M726.0 234.3a9 9 0 1 0 18 0a9 9 0 1 0 -18 0M705.1 221.0a9 9 0 1 0 18 0a9 9 0 1 0 -18 0M707.6 193.2a9 9 0 1 0 18 0a9 9 0 1 0 -18 0M766.4 155.8a9 9 0 1 0 18 0a9 9 0 1 0 -18 0M756.4 143.7a9 9 0 1 0 18 0a9 9 0 1 0 -18 0M712.8 181.4a9 9 0 1 0 18 0a9 9 0 1 0 -18 0M773.5 291.0a9 9 0 1 0 18 0a9 9 0 1 0 -18 0M771.4 283.3a9 9 0 1 0 18 0a9 9 0 1 0 -18 0M783.8 180.9a9 9 0 1 0 18 0a9 9 0 1 0 -18 0M670.8 222.7a9 9 0 1 0 18 0a9 9 0 1 0 -18 0M812.6 246.3a9 9 0 1 0 18 0a9 9 0 1 0 -18 0M765.0 213.6a9 9 0 1 0 18 0a9 9 0 1 0 -18 0M813.8 203.7a9 9 0 1 0 18 0a9 9 0 1 0 -18 0M821.5 251.7a9 9 0 1 0 18 0a9 9 0 1 0 -18 0M724.3 116.3a9 9 0 1 0 18 0a9 9 0 1 0 -18 0M817.1 259.4a9 9 0 1 0 18 0a9 9 0 1 0 -18 0M665.9 203.9a9 9 0 1 0 18 0a9 9 0 1 0 -18 0M718.4 149.1a9 9 0 1 0 18 0a9 9 0 1 0 -18 0M770.1 218.2a9 9 0 1 0 18 0a9 9 0 1 0 -18 0M761.6 253.8a9 9 0 1 0 18 0a9 9 0 1 0 -18 0M875.3 258.1a9 9 0 1 0 18 0a9 9 0 1 0 -18 0M693.7 222.1a9 9 0 1 0 18 0a9 9 0 1 0 -18 0M674.2 244.2a9 9 0 1 0 18 0a9 9 0 1 0 -18 0M649.3 234.7a9 9 0 1 0 18 0a9 9 0 1 0 -18 0M841.6 262.4a9 9 0 1 0 18 0a9 9 0 1 0 -18 0M662.6 168.6a9 9 0 1 0 18 0a9 9 0 1 0 -18 0M758.1 278.7a9 9 0 1 0 18 0a9 9 0 1 0 -18 0M884.3 163.0a9 9 0 1 0 18 0a9 9 0 1 0 -18 0M820.0 156.1a9 9 0 1 0 18 0a9 9 0 1 0 -18 0M736.0 141.9a9 9 0 1 0 18 0a9 9 0 1 0 -18 0M733.5 199.6a9 9 0 1 0 18 0a9 9 0 1 0 -18 0M632.0 188.4a9 9 0 1 0 18 0a9 9 0 1 0 -18 0M786.6 147.0a9 9 0 1 0 18 0a9 9 0 1 0 -18 0M829.3 262.9a9 9 0 1 0 18 0a9 9 0 1 0 -18 0M721.3 105.7a9 9 0 1 0 18 0a9 9 0 1 0 -18 0M802.8 186.9a9 9 0 1 0 18 0a9 9 0 1 0 -18 0M755.5 187.2a9 9 0 1 0 18 0a9 9 0 1 0 -18 0M765.7 157.4a9 9 0 1 0 18 0a9 9 0 1 0 -18 0M716.4 95.6a9 9 0 1 0 18 0a9 9 0 1 0 -18 0M754.0 308.3a9 9 0 1 0 18 0a9 9 0 1 0 -18 0M869.8 224.7a9 9 0 1 0 18 0a9 9 0 1 0 -18 0M712.1 245.6a9 9 0 1 0 18 0a9 9 0 1 0 -18 0M774.7 253.7a9 9 0 1 0 18 0a9 9 0 1 0 -18 0M776.2 260.4a9 9 0 1 0 18 0a9 9 0 1 0 -18 0M741.0 219.8a9 9 0 1 0 18 0a9 9 0 1 0 -18 0M730.3 324.7a9 9 0 1 0 18 0a9 9 0 1 0 -18 0M740.7 197.3a9 9 0 1 0 18 0a9 9 0 1 0 -18 0M671.4 201.4a9 9 0 1 0 18 0a9 9 0 1 0 -18 0M757.6 277.6a9 9 0 1 0 18 0a9 9 0 1 0 -18 0M725.7 201.5a9 9 0 1 0 18 0a9 9 0 1 0 -18 0M758.3 236.4a9 9 0 1 0 18 0a9 9 0 1 0 -18 0M830.0 145.4a9 9 0 1 0 18 0a9 9 0 1 0 -18 0M716.2 132.4a9 9 0 1 0 18 0a9 9 0 1 0 -18 0M692.5 214.5a9 9 0 1 0 18 0a9 9 0 1 0 -18 0M780.0 281.5a9 9 0 1 0 18 0a9 9 0 1 0 -18 0M744.7 245.0a9 9 0 1 0 18 0a9 9 0 1 0 -18 0M699.9 238.8a9 9 0 1 0 18 0a9 9 0 1 0 -18 0M779.3 141.0a9 9 0 1 0 18 0a9 9 0 1 0 -18 0M835.3 243.5a9 9 0 1 0 18 0a9 9 0 1 0 -18 0M684.4 174.3a9 9 0 1 0 18 0a9 9 0 1 0 -18 0M703.5 200.4a9 9 0 1 0 18 0a9 9 0 1 0 -18 0M857.5 179.5a9 9 0 1 0 18 0a9 9 0 1 0 -18 0M741.4 214.2a9 9 0 1 0 18 0a9 9 0 1 0 -18 0M677.4 211.5a9 9 0 1 0 18 0a9 9 0 1 0 -18 0M692.5 248.4a9 9 0 1 0 18 0a9 9 0 1 0 -18 0M808.5 164.4a9 9 0 1 0 18 0a9 9 0 1 0 -18 0M716.7 261.6a9 9 0 1 0 18 0a9 9 0 1 0 -18 0M763.5 313.8a9 9 0 1 0 18 0a9 9 0 1 0 -18 0M687.5 152.2a9 9 0 1 0 18 0a9 9 0 1 0 -18 0M712.4 135.4a9 9 0 1 0 18 0a9 9 0 1 0 -18 0M793.5 144.0a9 9 0 1 0 18 0a9 9 0 1 0 -18 0M775.6 326.2a9 9 0 1 0 18 0a9 9 0 1 0 -18 0M791.6 183.1a9 9 0 1 0 18 0a9 9 0 1 0 -18 0M706.7 233.4a9 9 0 1 0 18 0a9 9 0 1 0 -18 0M840.0 215.9a9 9 0 1 0 18 0a9 9 0 1 0 -18 0M649.3 181.4a9 9 0 1 0 18 0a9 9 0 1 0 -18 0M886.8 170.5a9 9 0 1 0 18 0a9 9 0 1 0 -18 0M773.1 201.5a9 9 0 1 0 18 0a9 9 0 1 0 -18 0M769.9 182.5a9 9 0 1 0 18 0a9 9 0 1 0 -18 0M669.6 144.3a9 9 0 1 0 18 0a9 9 0 1 0 -18 0M872.1 184.8a9 9 0 1 0 18 0a9 9 0 1 0 -18 0M725.5 165.8a9 9 0 1 0 18 0a9 9 0 1 0 -18 0M846.2 204.5a9 9 0 1 0 18 0a9 9 0 1 0 -18 0M740.6 212.7a9 9 0 1 0 18 0a9 9 0 1 0 -18 0M783.7 159.8a9 9 0 1 0 18 0a9 9 0 1 0 -18 0M700.0 259.8a9 9 0 1 0 18 0a9 9 0 1 0 -18 0M712.1 136.8a9 9 0 1 0 18 0a9 9 0 1 0 -18 0M858.3 234.7a9 9 0 1 0 18 0a9 9 0 1 0 -18 0M791.2 247.6a9 9 0 1 0 18 0a9 9 0 1 0 -18 0M660.1 282.0a9 9 0 1 0 18 0a9 9 0 1 0 -18 0M686.1 293.8a9 9 0 1 0 18 0a9 9 0 1 0 -18 0M812.3 249.2a9 9 0 1 0 18 0a9 9 0 1 0 -18 0M642.7 274.4a9 9 0 1 0 18 0a9 9 0 1 0 -18 0M825.8 177.7a9 9 0 1 0 18 0a9 9 0 1 0 -18 0M738.4 242.2a9 9 0 1 0 18 0a9 9 0 1 0 -18 0M853.9 197.8a9 9 0 1 0 18 0a9 9 0 1 0 -18 0M862.0 198.6a9 9 0 1 0 18 0a9 9 0 1 0 -18 0M799.9 237.7a9 9 0 1 0 18 0a9 9 0 1 0 -18 0M752.4 146.5a9 9 0 1 0 18 0a9 9 0 1 0 -18 0M747.0 258.0a9 9 0 1 0 18 0a9 9 0 1 0 -18 0M760.2 175.2a9 9 0 1 0 18 0a9 9 0 1 0 -18 0M736.0 227.4a9 9 0 1 0 18 0a9 9 0 1 0 -18 0M707.1 216.7a9 9 0 1 0 18 0a9 9 0 1 0 -18 0M787.2 186.5a9 9 0 1 0 18 0a9 9 0 1 0 -18 0M788.0 227.2a9 9 0 1 0 18 0a9 9 0 1 0 -18 0M822.9 224.4a9 9 0 1 0 18 0a9 9 0 1 0 -18 0M624.2 200.6a9 9 0 1 0 18 0a9 9 0 1 0 -18 0M713.3 136.5a9 9 0 1 0 18 0a9 9 0 1 0 -18 0M706.5 280.0a9 9 0 1 0 18 0a9 9 0 1 0 -18 0M682.3 257.5a9 9 0 1 0 18 0a9 9 0 1 0 -18 0M737.2 170.8a9 9 0 1 0 18 0a9 9 0 1 0 -18 0M680.2 209.0a9 9 0 1 0 18 0a9 9 0 1 0 -18 0M764.9 205.3a9 9 0 1 0 18 0a9 9 0 1 0 -18 0M687.1 296.1a9 9 0 1 0 18 0a9 9 0 1 0 -18 0M689.1 254.7a9 9 0 1 0 18 0a9 9 0 1 0 -18 0M688.9 269.5a9 9 0 1 0 18 0a9 9 0 1 0 -18 0M760.3 156.5a9 9 0 1 0 18 0a9 9 0 1 0 -18 0M773.1 240.2a9 9 0 1 0 18 0a9 9 0 1 0 -18 0M742.8 312.2a9 9 0 1 0 18 0a9 9 0 1 0 -18 0M808.7 219.6a9 9 0 1 0 18 0a9 9 0 1 0 -18 0M742.9 278.2a9 9 0 1 0 18 0a9 9 0 1 0 -18 0M747.7 143.2a9 9 0 1 0 18 0a9 9 0 1 0 -18 0M764.2 205.1a9 9 0 1 0 18 0a9 9 0 1 0 -18 0M840.7 217.3a9 9 0 1 0 18 0a9 9 0 1 0 -18 0M791.3 171.9a9 9 0 1 0 18 0a9 9 0 1 0 -18 0M732.2 136.9a9 9 0 1 0 18 0a9 9 0 1 0 -18 0M777.7 232.7a9 9 0 1 0 18 0a9 9 0 1 0 -18 0M725.3 184.5a9 9 0 1 0 18 0a9 9 0 1 0 -18 0M754.1 225.3a9 9 0 1 0 18 0a9 9 0 1 0 -18 0M722.9 282.5a9 9 0 1 0 18 0a9 9 0 1 0 -18 0M827.9 162.0a9 9 0 1 0 18 0a9 9 0 1 0 -18 0M900.5 174.4a9 9 0 1 0 18 0a9 9 0 1 0 -18 0M789.0 103.9a9 9 0 1 0 18 0a9 9 0 1 0 -18 0M631.6 213.2a9 9 0 1 0 18 0a9 9 0 1 0 -18 0M715.9 177.2a9 9 0 1 0 18 0a9 9 0 1 0 -18 0M709.6 143.8a9 9 0 1 0 18 0a9 9 0 1 0 -18 0M789.5 162.0a9 9 0 1 0 18 0a9 9 0 1 0 -18 0M821.7 178.0a9 9 0 1 0 18 0a9 9 0 1 0 -18 0M738.5 84.0a9 9 0 1 0 18 0a9 9 0 1 0 -18 0M764.2 243.5a9 9 0 1 0 18 0a9 9 0 1 0 -18 0M742.7 207.5a9 9 0 1 0 18 0a9 9 0 1 0 -18 0M814.4 161.6a9 9 0 1 0 18 0a9 9 0 1 0 -18 0M709.5 100.1a9 9 0 1 0 18 0a9 9 0 1 0 -18 0M765.1 241.0a9 9 0 1 0 18 0a9 9 0 1 0 -18 0M653.0 156.4a9 9 0 1 0 18 0a9 9 0 1 0 -18 0M822.1 265.8a9 9 0 1 0 18 0a9 9 0 1 0 -18 0M784.9 237.8a9 9 0 1 0 18 0a9 9 0 1 0 -18 0M811.7 272.7a9 9 0 1 0 18 0a9 9 0 1 0 -18 0M789.4 262.7a9 9 0 1 0 18 0a9 9 0 1 0 -18 0M704.2 120.6a9 9 0 1 0 18 0a9 9 0 1 0 -18 0M750.4 87.0a9 9 0 1 0 18 0a9 9 0 1 0 -18 0M770.0 324.2a9 9 0 1 0 18 0a9 9 0 1 0 -18 0M701.4 266.2a9 9 0 1 0 18 0a9 9 0 1 0 -18 0M812.4 144.8a9 9 0 1 0 18 0a9 9 0 1 0 -18 0M723.0 182.5a9 9 0 1 0 18 0a9 9 0 1 0 -18 0M776.1 146.1a9 9 0 1 0 18 0a9 9 0 1 0 -18 0M782.9 213.6a9 9 0 1 0 18 0a9 9 0 1 0 -18 0M781.7 260.8a9 9 0 1 0 18 0a9 9 0 1 0 -18 0M692.2 209.8a9 9 0 1 0 18 0a9 9 0 1 0 -18 0M703.0 204.6a9 9 0 1 0 18 0a9 9 0 1 0 -18 0M765.9 243.6a9 9 0 1 0 18 0a9 9 0 1 0 -18 0M804.0 129.5a9 9 0 1 0 18 0a9 9 0 1 0 -18 0M705.0 195.8a9 9 0 1 0 18 0a9 9 0 1 0 -18 0M734.4 253.5a9 9 0 1 0 18 0a9 9 0 1 0 -18 0M713.1 215.4a9 9 0 1 0 18 0a9 9 0 1 0 -18 0M676.4 179.7a9 9 0 1 0 18 0a9 9 0 1 0 -18 0M842.3 268.9a9 9 0 1 0 18 0a9 9 0 1 0 -18 0M762.6 261.9a9 9 0 1 0 18 0a9 9 0 1 0 -18 0M692.2 158.5a9 9 0 1 0 18 0a9 9 0 1 0 -18 0M708.7 168.5a9 9 0 1 0 18 0a9 9 0 1 0 -18 0M653.6 190.5a9 9 0 1 0 18 0a9 9 0 1 0 -18 0M666.9 254.9a9 9 0 1 0 18 0a9 9 0 1 0 -18 0M819.5 208.5a9 9 0 1 0 18 0a9 9 0 1 0 -18 0M799.4 295.8a9 9 0 1 0 18 0a9 9 0 1 0 -18 0M823.7 140.3a9 9 0 1 0 18 0a9 9 0 1 0 -18 0M735.6 223.1a9 9 0 1 0 18 0a9 9 0 1 0 -18 0M797.0 318.7a9 9 0 1 0 18 0a9 9 0 1 0 -18 0M822.3 184.6a9 9 0 1 0 18 0a9 9 0 1 0 -18 0M721.7 160.5a9 9 0 1 0 18 0a9 9 0 1 0 -18 0M655.4 260.1a9 9 0 1 0 18 0a9 9 0 1 0 -18 0M721.9 213.6a9 9 0 1 0 18 0a9 9 0 1 0 -18 0M697.3 276.6a9 9 0 1 0 18 0a9 9 0 1 0 -18 0M716.6 192.2a9 9 0 1 0 18 0a9 9 0 1 0 -18 0M730.6 231.0a9 9 0 1 0 18 0a9 9 0 1 0 -18 0M793.1 241.8a9 9 0 1 0 18 0a9 9 0 1 0 -18 0M700.8 172.2a9 9 0 1 0 18 0a9 9 0 1 0 -18 0M725.3 321.1a9 9 0 1 0 18 0a9 9 0 1 0 -18 0M772.9 109.5a9 9 0 1 0 18 0a9 9 0 1 0 -18 0M837.3 152.7a9 9 0 1 0 18 0a9 9 0 1 0 -18 0M728.0 133.5a9 9 0 1 0 18 0a9 9 0 1 0 -18 0M757.7 221.4a9 9 0 1 0 18 0a9 9 0 1 0 -18 0M790.5 124.3a9 9 0 1 0 18 0a9 9 0 1 0 -18 0M789.7 157.5a9 9 0 1 0 18 0a9 9 0 1 0 -18 0M752.0 179.3a9 9 0 1 0 18 0a9 9 0 1 0 -18 0M700.0 130.5a9 9 0 1 0 18 0a9 9 0 1 0 -18 0M727.0 306.4a9 9 0 1 0 18 0a9 9 0 1 0 -18 0M708.6 156.4a9 9 0 1 0 18 0a9 9 0 1 0 -18 0M770.6 202.3a9 9 0 1 0 18 0a9 9 0 1 0 -18 0M776.1 215.7a9 9 0 1 0 18 0a9 9 0 1 0 -18 0M748.0 187.0a9 9 0 1 0 18 0a9 9 0 1 0 -18 0M662.3 262.0a9 9 0 1 0 18 0a9 9 0 1 0 -18 0M800.8 228.4a9 9 0 1 0 18 0a9 9 0 1 0 -18 0M806.4 187.8a9 9 0 1 0 18 0a9 9 0 1 0 -18 0M738.8 146.8a9 9 0 1 0 18 0a9 9 0 1 0 -18 0M742.3 167.2a9 9 0 1 0 18 0a9 9 0 1 0 -18 0M785.1 297.8a9 9 0 1 0 18 0a9 9 0 1 0 -18 0M727.9 164.8a9 9 0 1 0 18 0a9 9 0 1 0 -18 0M748.3 260.9a9 9 0 1 0 18 0a9 9 0 1 0 -18 0M723.7 196.9a9 9 0 1 0 18 0a9 9 0 1 0 -18 0M899.8 177.1a9 9 0 1 0 18 0a9 9 0 1 0 -18 0M673.9 150.5a9 9 0 1 0 18 0a9 9 0 1 0 -18 0M761.2 218.8a9 9 0 1 0 18 0a9 9 0 1 0 -18 0M648.7 223.2a9 9 0 1 0 18 0a9 9 0 1 0 -18 0M776.0 195.7a9 9 0 1 0 18 0a9 9 0 1 0 -18 0M698.4 153.5a9 9 0 1 0 18 0a9 9 0 1 0 -18 0M758.0 216.3a9 9 0 1 0 18 0a9 9 0 1 0 -18 0M759.1 213.1a9 9 0 1 0 18 0a9 9 0 1 0 -18 0M818.3 246.5a9 9 0 1 0 18 0a9 9 0 1 0 -18 0M688.3 218.5a9 9 0 1 0 18 0a9 9 0 1 0 -18 0M701.4 140.0a9 9 0 1 0 18 0a9 9 0 1 0 -18 0M778.6 278.8a9 9 0 1 0 18 0a9 9 0 1 0 -18 0M727.6 163.9a9 9 0 1 0 18 0a9 9 0 1 0 -18 0M758.1 275.0a9 9 0 1 0 18 0a9 9 0 1 0 -18 0M778.3 106.3a9 9 0 1 0 18 0a9 9 0 1 0 -18 0M792.4 216.6a9 9 0 1 0 18 0a9 9 0 1 0 -18 0M724.9 236.0a9 9 0 1 0 18 0a9 9 0 1 0 -18 0M760.4 237.7a9 9 0 1 0 18 0a9 9 0 1 0 -18 0M697.4 318.8a9 9 0 1 0 18 0a9 9 0 1 0 -18 0M774.0 308.5a9 9 0 1 0 18 0a9 9 0 1 0 -18 0M762.0 182.9a9 9 0 1 0 18 0a9 9 0 1 0 -18 0M755.0 280.6a9 9 0 1 0 18 0a9 9 0 1 0 -18 0M731.2 263.7a9 9 0 1 0 18 0a9 9 0 1 0 -18 0M756.8 325.6a9 9 0 1 0 18 0a9 9 0 1 0 -18 0M654.6 161.0a9 9 0 1 0 18 0a9 9 0 1 0 -18 0M677.0 209.9a9 9 0 1 0 18 0a9 9 0 1 0 -18 0M815.6 181.9a9 9 0 1 0 18 0a9 9 0 1 0 -18 0M774.4 126.8a9 9 0 1 0 18 0a9 9 0 1 0 -18 0M711.2 154.2a9 9 0 1 0 18 0a9 9 0 1 0 -18 0M762.0 182.9a9 9 0 1 0 18 0a9 9 0 1 0 -18 0M787.2 247.2a9 9 0 1 0 18 0a9 9 0 1 0 -18 0M718.9 264.1a9 9 0 1 0 18 0a9 9 0 1 0 -18 0M687.5 156.6a9 9 0 1 0 18 0a9 9 0 1 0 -18 0M740.0 88.6a9 9 0 1 0 18 0a9 9 0 1 0 -18 0M846.3 275.9a9 9 0 1 0 18 0a9 9 0 1 0 -18 0M816.2 199.4a9 9 0 1 0 18 0a9 9 0 1 0 -18 0M764.9 305.9a9 9 0 1 0 18 0a9 9 0 1 0 -18 0M872.6 215.4a9 9 0 1 0 18 0a9 9 0 1 0 -18 0M783.1 251.0a9 9 0 1 0 18 0a9 9 0 1 0 -18 0M789.7 159.2a9 9 0 1 0 18 0a9 9 0 1 0 -18 0M665.9 219.6a9 9 0 1 0 18 0a9 9 0 1 0 -18 0M772.9 183.2a9 9 0 1 0 18 0a9 9 0 1 0 -18 0M699.5 297.7a9 9 0 1 0 18 0a9 9 0 1 0 -18 0M764.2 189.9a9 9 0 1 0 18 0a9 9 0 1 0 -18 0M770.6 261.8a9 9 0 1 0 18 0a9 9 0 1 0 -18 0M741.3 216.1a9 9 0 1 0 18 0a9 9 0 1 0 -18 0M778.6 186.5a9 9 0 1 0 18 0a9 9 0 1 0 -18 0M715.2 192.4a9 9 0 1 0 18 0a9 9 0 1 0 -18 0M671.4 161.3a9 9 0 1 0 18 0a9 9 0 1 0 -18 0M703.7 171.8a9 9 0 1 0 18 0a9 9 0 1 0 -18 0M695.8 194.0a9 9 0 1 0 18 0a9 9 0 1 0 -18 0M777.2 188.5a9 9 0 1 0 18 0a9 9 0 1 0 -18 0M653.3 144.8a9 9 0 1 0 18 0a9 9 0 1 0 -18 0M743.8 287.0a9 9 0 1 0 18 0a9 9 0 1 0 -18 0M832.4 189.6a9 9 0 1 0 18 0a9 9 0 1 0 -18 0M856.9 267.8a9 9 0 1 0 18 0a9 9 0 1 0 -18 0M670.4 200.1a9 9 0 1 0 18 0a9 9 0 1 0 -18 0M774.9 239.1a9 9 0 1 0 18 0a9 9 0 1 0 -18 0M759.6 96.2a9 9 0 1 0 18 0a9 9 0 1 0 -18 0M810.2 218.0a9 9 0 1 0 18 0a9 9 0 1 0 -18 0M723.3 197.8a9 9 0 1 0 18 0a9 9 0 1 0 -18 0M753.9 223.4a9 9 0 1 0 18 0a9 9 0 1 0 -18 0M821.2 189.9a9 9 0 1 0 18 0a9 9 0 1 0 -18 0M766.6 90.2a9 9 0 1 0 18 0a9 9 0 1 0 -18 0M810.3 103.9a9 9 0 1 0 18 0a9 9 0 1 0 -18 0M799.4 222.6a9 9 0 1 0 18 0a9 9 0 1 0 -18 0M743.5 101.8a9 9 0 1 0 18 0a9 9 0 1 0 -18 0M799.3 113.4a9 9 0 1 0 18 0a9 9 0 1 0 -18 0M798.9 310.2a9 9 0 1 0 18 0a9 9 0 1 0 -18 0M739.1 99.5a9 9 0 1 0 18 0a9 9 0 1 0 -18 0M736.5 242.3a9 9 0 1 0 18 0a9 9 0 1 0 -18 0M712.2 214.7a9 9 0 1 0 18 0a9 9 0 1 0 -18 0M713.0 183.0a9 9 0 1 0 18 0a9 9 0 1 0 -18 0M765.4 187.5a9 9 0 1 0 18 0a9 9 0 1 0 -18 0M732.1 154.1a9 9 0 1 0 18 0a9 9 0 1 0 -18 0M787.5 162.3a9 9 0 1 0 18 0a9 9 0 1 0 -18 0M727.3 195.1a9 9 0 1 0 18 0a9 9 0 1 0 -18 0M705.3 209.9a9 9 0 1 0 18 0a9 9 0 1 0 -18 0M768.8 248.9a9 9 0 1 0 18 0a9 9 0 1 0 -18 0M714.2 195.2a9 9 0 1 0 18 0a9 9 0 1 0 -18 0M712.4 138.6a9 9 0 1 0 18 0a9 9 0 1 0 -18 0M871.3 252.5a9 9 0 1 0 18 0a9 9 0 1 0 -18 0M677.1 137.0a9 9 0 1 0 18 0a9 9 0 1 0 -18 0M816.3 130.4a9 9 0 1 0 18 0a9 9 0 1 0 -18 0M739.2 124.3a9 9 0 1 0 18 0a9 9 0 1 0 -18 0M844.0 198.3a9 9 0 1 0 18 0a9 9 0 1 0 -18 0M742.0 173.3a9 9 0 1 0 18 0a9 9 0 1 0 -18 0M835.9 222.0a9 9 0 1 0 18 0a9 9 0 1 0 -18 0M718.3 204.9a9 9 0 1 0 18 0a9 9 0 1 0 -18 0M749.0 196.9a9 9 0 1 0 18 0a9 9 0 1 0 -18 0M740.1 152.7a9 9 0 1 0 18 0a9 9 0 1 0 -18 0M706.4 143.0a9 9 0 1 0 18 0a9 9 0 1 0 -18 0M810.5 139.1a9 9 0 1 0 18 0a9 9 0 1 0 -18 0M790.5 231.1a9 9 0 1 0 18 0a9 9 0 1 0 -18 0M784.8 133.4a9 9 0 1 0 18 0a9 9 0 1 0 -18 0M699.2 156.0a9 9 0 1 0 18 0a9 9 0 1 0 -18 0M742.1 211.0a9 9 0 1 0 18 0a9 9 0 1 0 -18 0M744.6 106.4a9 9 0 1 0 18 0a9 9 0 1 0 -18 0M807.1 175.7a9 9 0 1 0 18 0a9 9 0 1 0 -18 0M779.9 167.6a9 9 0 1 0 18 0a9 9 0 1 0 -18 0M773.9 244.9a9 9 0 1 0 18 0a9 9 0 1 0 -18 0M773.1 153.6a9 9 0 1 0 18 0a9 9 0 1 0 -18 0M729.0 115.4a9 9 0 1 0 18 0a9 9 0 1 0 -18 0M824.1 170.4a9 9 0 1 0 18 0a9 9 0 1 0 -18 0M758.8 174.4a9 9 0 1 0 18 0a9 9 0 1 0 -18 0M789.4 192.8a9 9 0 1 0 18 0a9 9 0 1 0 -18 0M753.8 175.7a9 9 0 1 0 18 0a9 9 0 1 0 -18 0M814.7 225.0a9 9 0 1 0 18 0a9 9 0 1 0 -18 0M719.3 187.1a9 9 0 1 0 18 0a9 9 0 1 0 -18 0M809.9 293.7a9 9 0 1 0 18 0a9 9 0 1 0 -18 0M726.8 176.7a9 9 0 1 0 18 0a9 9 0 1 0 -18 0M820.2 194.4a9 9 0 1 0 18 0a9 9 0 1 0 -18 0M768.3 242.6a9 9 0 1 0 18 0a9 9 0 1 0 -18 0M785.7 94.0a9 9 0 1 0 18 0a9 9 0 1 0 -18 0M708.2 231.2a9 9 0 1 0 18 0a9 9 0 1 0 -18 0M797.1 174.6a9 9 0 1 0 18 0a9 9 0 1 0 -18 0M752.3 179.2a9 9 0 1 0 18 0a9 9 0 1 0 -18 0M815.5 161.3a9 9 0 1 0 18 0a9 9 0 1 0 -18 0M703.2 111.5a9 9 0 1 0 18 0a9 9 0 1 0 -18 0M843.6 161.1a9 9 0 1 0 18 0a9 9 0 1 0 -18 0M771.0 255.4a9 9 0 1 0 18 0a9 9 0 1 0 -18 0M782.2 221.2a9 9 0 1 0 18 0a9 9 0 1 0 -18 0M764.9 148.6a9 9 0 1 0 18 0a9 9 0 1 0 -18 0M805.1 173.6a9 9 0 1 0 18 0a9 9 0 1 0 -18 0M773.2 287.5a9 9 0 1 0 18 0a9 9 0 1 0 -18 0M781.4 217.9a9 9 0 1 0 18 0a9 9 0 1 0 -18 0M715.2 115.4a9 9 0 1 0 18 0a9 9 0 1 0 -18 0M657.1 243.5a9 9 0 1 0 18 0a9 9 0 1 0 -18 0M797.4 273.5a9 9 0 1 0 18 0a9 9 0 1 0 -18 0M817.8 143.8a9 9 0 1 0 18 0a9 9 0 1 0 -18 0M827.8 218.7a9 9 0 1 0 18 0a9 9 0 1 0 -18 0M789.4 274.4a9 9 0 1 0 18 0a9 9 0 1 0 -18 0M762.4 237.3a9 9 0 1 0 18 0a9 9 0 1 0 -18 0M717.6 249.7a9 9 0 1 0 18 0a9 9 0 1 0 -18 0M716.5 182.2a9 9 0 1 0 18 0a9 9 0 1 0 -18 0M825.0 209.5a9 9 0 1 0 18 0a9 9 0 1 0 -18 0M704.1 223.0a9 9 0 1 0 18 0a9 9 0 1 0 -18 0M786.5 161.4a9 9 0 1 0 18 0a9 9 0 1 0 -18 0M751.2 143.1a9 9 0 1 0 18 0a9 9 0 1 0 -18 0M783.1 160.0a9 9 0 1 0 18 0a9 9 0 1 0 -18 0M813.5 222.1a9 9 0 1 0 18 0a9 9 0 1 0 -18 0M632.8 163.0a9 9 0 1 0 18 0a9 9 0 1 0 -18 0M670.5 178.1a9 9 0 1 0 18 0a9 9 0 1 0 -18 0M738.9 189.1a9 9 0 1 0 18 0a9 9 0 1 0 -18 0M716.8 311.3a9 9 0 1 0 18 0a9 9 0 1 0 -18 0M793.9 94.3a9 9 0 1 0 18 0a9 9 0 1 0 -18 0M891.3 191.0a9 9 0 1 0 18 0a9 9 0 1 0 -18 0M855.0 202.2a9 9 0 1 0 18 0a9 9 0 1 0 -18 0M848.9 168.9a9 9 0 1 0 18 0a9 9 0 1 0 -18 0M794.5 282.4a9 9 0 1 0 18 0a9 9 0 1 0 -18 0M802.3 141.4a9 9 0 1 0 18 0a9 9 0 1 0 -18 0M732.4 259.0a9 9 0 1 0 18 0a9 9 0 1 0 -18 0M812.8 157.6a9 9 0 1 0 18 0a9 9 0 1 0 -18 0M812.0 314.7a9 9 0 1 0 18 0a9 9 0 1 0 -18 0M728.7 274.4a9 9 0 1 0 18 0a9 9 0 1 0 -18 0M665.8 218.0a9 9 0 1 0 18 0a9 9 0 1 0 -18 0M819.5 155.9a9 9 0 1 0 18 0a9 9 0 1 0 -18 0M734.3 147.5a9 9 0 1 0 18 0a9 9 0 1 0 -18 0M732.3 314.0a9 9 0 1 0 18 0a9 9 0 1 0 -18 0M856.5 150.0a9 9 0 1 0 18 0a9 9 0 1 0 -18 0M829.8 192.9a9 9 0 1 0 18 0a9 9 0 1 0 -18 0M689.7 221.7a9 9 0 1 0 18 0a9 9 0 1 0 -18 0M793.1 235.9a9 9 0 1 0 18 0a9 9 0 1 0 -18 0M851.0 244.6a9 9 0 1 0 18 0a9 9 0 1 0 -18 0M723.6 284.7a9 9 0 1 0 18 0a9 9 0 1 0 -18 0M786.2 124.5a9 9 0 1 0 18 0a9 9 0 1 0 -18 0M707.1 221.2a9 9 0 1 0 18 0a9 9 0 1 0 -18 0M775.0 170.1a9 9 0 1 0 18 0a9 9 0 1 0 -18 0M824.0 232.7a9 9 0 1 0 18 0a9 9 0 1 0 -18 0M877.3 264.6a9 9 0 1 0 18 0a9 9 0 1 0 -18 0M765.1 115.2a9 9 0 1 0 18 0a9 9 0 1 0 -18 0M775.1 164.8a9 9 0 1 0 18 0a9 9 0 1 0 -18 0M669.0 208.0a9 9 0 1 0 18 0a9 9 0 1 0 -18 0M800.7 238.1a9 9 0 1 0 18 0a9 9 0 1 0 -18 0M765.4 163.6a9 9 0 1 0 18 0a9 9 0 1 0 -18 0M730.5 219.0a9 9 0 1 0 18 0a9 9 0 1 0 -18 0M720.6 173.7a9 9 0 1 0 18 0a9 9 0 1 0 -18 0M836.1 185.9a9 9 0 1 0 18 0a9 9 0 1 0 -18 0M713.7 241.9a9 9 0 1 0 18 0a9 9 0 1 0 -18 0M828.0 228.9a9 9 0 1 0 18 0a9 9 0 1 0 -18 0M785.9 163.3a9 9 0 1 0 18 0a9 9 0 1 0 -18 0M809.8 264.0a9 9 0 1 0 18 0a9 9 0 1 0 -18 0M816.7 185.4a9 9 0 1 0 18 0a9 9 0 1 0 -18 0M687.6 311.4a9 9 0 1 0 18 0a9 9 0 1 0 -18 0M784.6 268.3a9 9 0 1 0 18 0a9 9 0 1 0 -18 0M800.9 95.4a9 9 0 1 0 18 0a9 9 0 1 0 -18 0M769.8 97.9a9 9 0 1 0 18 0a9 9 0 1 0 -18 0M818.2 193.5a9 9 0 1 0 18 0a9 9 0 1 0 -18 0M676.9 244.3a9 9 0 1 0 18 0a9 9 0 1 0 -18 0M770.8 201.6a9 9 0 1 0 18 0a9 9 0 1 0 -18 0M770.9 207.7a9 9 0 1 0 18 0a9 9 0 1 0 -18 0M675.5 292.6a9 9 0 1 0 18 0a9 9 0 1 0 -18 0M819.9 178.8a9 9 0 1 0 18 0a9 9 0 1 0 -18 0M809.9 208.6a9 9 0 1 0 18 0a9 9 0 1 0 -18 0M826.6 126.6a9 9 0 1 0 18 0a9 9 0 1 0 -18 0M780.0 279.2a9 9 0 1 0 18 0a9 9 0 1 0 -18 0M755.5 317.4a9 9 0 1 0 18 0a9 9 0 1 0 -18 0M841.9 253.4a9 9 0 1 0 18 0a9 9 0 1 0 -18 0M730.8 308.4a9 9 0 1 0 18 0a9 9 0 1 0 -18 0M777.0 137.3a9 9 0 1 0 18 0a9 9 0 1 0 -18 0M796.3 284.5a9 9 0 1 0 18 0a9 9 0 1 0 -18 0M796.8 112.1a9 9 0 1 0 18 0a9 9 0 1 0 -18 0M703.8 294.2a9 9 0 1 0 18 0a9 9 0 1 0 -18 0M766.6 240.9a9 9 0 1 0 18 0a9 9 0 1 0 -18 0M890.0 229.0a9 9 0 1 0 18 0a9 9 0 1 0 -18 0M878.6 162.0a9 9 0 1 0 18 0a9 9 0 1 0 -18 0M747.9 259.7a9 9 0 1 0 18 0a9 9 0 1 0 -18 0M763.7 235.2a9 9 0 1 0 18 0a9 9 0 1 0 -18 0M751.1 312.8a9 9 0 1 0 18 0a9 9 0 1 0 -18 0M837.7 283.8a9 9 0 1 0 18 0a9 9 0 1 0 -18 0M730.4 147.3a9 9 0 1 0 18 0a9 9 0 1 0 -18 0M745.5 257.3a9 9 0 1 0 18 0a9 9 0 1 0 -18 0M863.1 254.9a9 9 0 1 0 18 0a9 9 0 1 0 -18 0M764.2 111.4a9 9 0 1 0 18 0a9 9 0 1 0 -18 0M717.2 130.7a9 9 0 1 0 18 0a9 9 0 1 0 -18 0M713.5 225.8a9 9 0 1 0 18 0a9 9 0 1 0 -18 0M713.5 117.7a9 9 0 1 0 18 0a9 9 0 1 0 -18 0M735.8 315.8a9 9 0 1 0 18 0a9 9 0 1 0 -18 0M733.1 169.3a9 9 0 1 0 18 0a9 9 0 1 0 -18 0M781.9 267.9a9 9 0 1 0 18 0a9 9 0 1 0 -18 0M790.2 189.6a9 9 0 1 0 18 0a9 9 0 1 0 -18 0M849.0 174.1a9 9 0 1 0 18 0a9 9 0 1 0 -18 0M777.3 215.2a9 9 0 1 0 18 0a9 9 0 1 0 -18 0M773.8 218.8a9 9 0 1 0 18 0a9 9 0 1 0 -18 0M804.3 301.8a9 9 0 1 0 18 0a9 9 0 1 0 -18 0M747.7 204.4a9 9 0 1 0 18 0a9 9 0 1 0 -18 0M796.5 312.2a9 9 0 1 0 18 0a9 9 0 1 0 -18 0M764.6 257.6a9 9 0 1 0 18 0a9 9 0 1 0 -18 0M779.3 255.5a9 9 0 1 0 18 0a9 9 0 1 0 -18 0M692.5 131.7a9 9 0 1 0 18 0a9 9 0 1 0 -18 0M718.6 188.9a9 9 0 1 0 18 0a9 9 0 1 0 -18 0M833.7 200.9a9 9 0 1 0 18 0a9 9 0 1 0 -18 0M685.4 268.2a9 9 0 1 0 18 0a9 9 0 1 0 -18 0M772.5 229.1a9 9 0 1 0 18 0a9 9 0 1 0 -18 0M716.5 236.8a9 9 0 1 0 18 0a9 9 0 1 0 -18 0M851.1 256.1a9 9 0 1 0 18 0a9 9 0 1 0 -18 0M751.7 224.2a9 9 0 1 0 18 0a9 9 0 1 0 -18 0M796.3 322.3a9 9 0 1 0 18 0a9 9 0 1 0 -18 0M719.6 200.6a9 9 0 1 0 18 0a9 9 0 1 0 -18 0M787.3 182.6a9 9 0 1 0 18 0a9 9 0 1 0 -18 0M796.9 207.3a9 9 0 1 0 18 0a9 9 0 1 0 -18 0M806.7 204.5a9 9 0 1 0 18 0a9 9 0 1 0 -18 0M752.8 141.9a9 9 0 1 0 18 0a9 9 0 1 0 -18 0M721.4 287.6a9 9 0 1 0 18 0a9 9 0 1 0 -18 0M703.0 321.0a9 9 0 1 0 18 0a9 9 0 1 0 -18 0M776.9 269.3a9 9 0 1 0 18 0a9 9 0 1 0 -18 0M639.2 274.7a9 9 0 1 0 18 0a9 9 0 1 0 -18 0M763.6 189.4a9 9 0 1 0 18 0a9 9 0 1 0 -18 0M696.7 296.3a9 9 0 1 0 18 0a9 9 0 1 0 -18 0M794.5 178.7a9 9 0 1 0 18 0a9 9 0 1 0 -18 0M728.8 272.0a9 9 0 1 0 18 0a9 9 0 1 0 -18 0M844.8 230.8a9 9 0 1 0 18 0a9 9 0 1 0 -18 0M771.1 295.8a9 9 0 1 0 18 0a9 9 0 1 0 -18 0M693.3 108.4a9 9 0 1 0 18 0a9 9 0 1 0 -18 0M787.6 187.5a9 9 0 1 0 18 0a9 9 0 1 0 -18 0M758.6 227.8a9 9 0 1 0 18 0a9 9 0 1 0 -18 0M707.2 179.5a9 9 0 1 0 18 0a9 9 0 1 0 -18 0M732.6 194.8a9 9 0 1 0 18 0a9 9 0 1 0 -18 0M732.7 146.5a9 9 0 1 0 18 0a9 9 0 1 0 -18 0M665.7 268.7a9 9 0 1 0 18 0a9 9 0 1 0 -18 0M795.1 232.9a9 9 0 1 0 18 0a9 9 0 1 0 -18 0M719.4 236.3a9 9 0 1 0 18 0a9 9 0 1 0 -18 0M760.5 170.6a9 9 0 1 0 18 0a9 9 0 1 0 -18 0M698.0 234.1a9 9 0 1 0 18 0a9 9 0 1 0 -18 0M688.9 287.9a9 9 0 1 0 18 0a9 9 0 1 0 -18 0M774.3 259.5a9 9 0 1 0 18 0a9 9 0 1 0 -18 0M783.9 286.6a9 9 0 1 0 18 0a9 9 0 1 0 -18 0M710.4 177.1a9 9 0 1 0 18 0a9 9 0 1 0 -18 0M697.9 298.4a9 9 0 1 0 18 0a9 9 0 1 0 -18 0M789.3 209.7a9 9 0 1 0 18 0a9 9 0 1 0 -18 0M791.3 251.0a9 9 0 1 0 18 0a9 9 0 1 0 -18 0M733.3 291.7a9 9 0 1 0 18 0a9 9 0 1 0 -18 0M752.6 212.8a9 9 0 1 0 18 0a9 9 0 1 0 -18 0M768.8 279.8a9 9 0 1 0 18 0a9 9 0 1 0 -18 0M653.4 139.2a9 9 0 1 0 18 0a9 9 0 1 0 -18 0M767.2 186.5a9 9 0 1 0 18 0a9 9 0 1 0 -18 0M726.1 286.3a9 9 0 1 0 18 0a9 9 0 1 0 -18 0M696.2 239.6a9 9 0 1 0 18 0a9 9 0 1 0 -18 0M770.6 239.4a9 9 0 1 0 18 0a9 9 0 1 0 -18 0M735.4 250.4a9 9 0 1 0 18 0a9 9 0 1 0 -18 0M814.7 281.0a9 9 0 1 0 18 0a9 9 0 1 0 -18 0M664.3 240.2a9 9 0 1 0 18 0a9 9 0 1 0 -18 0M797.4 130.3a9 9 0 1 0 18 0a9 9 0 1 0 -18 0M801.9 141.5a9 9 0 1 0 18 0a9 9 0 1 0 -18 0M800.1 280.9a9 9 0 1 0 18 0a9 9 0 1 0 -18 0M819.9 175.8a9 9 0 1 0 18 0a9 9 0 1 0 -18 0M801.0 181.5a9 9 0 1 0 18 0a9 9 0 1 0 -18 0M766.6 260.1a9 9 0 1 0 18 0a9 9 0 1 0 -18 0M780.5 214.1a9 9 0 1 0 18 0a9 9 0 1 0 -18 0M707.7 257.2a9 9 0 1 0 18 0a9 9 0 1 0 -18 0M749.7 183.5a9 9 0 1 0 18 0a9 9 0 1 0 -18 0M731.5 170.3a9 9 0 1 0 18 0a9 9 0 1 0 -18 0M802.7 186.3a9 9 0 1 0 18 0a9 9 0 1 0 -18 0M644.8 168.2a9 9 0 1 0 18 0a9 9 0 1 0 -18 0M869.5 199.0a9 9 0 1 0 18 0a9 9 0 1 0 -18 0M792.0 264.7a9 9 0 1 0 18 0a9 9 0 1 0 -18 0M804.0 161.2a9 9 0 1 0 18 0a9 9 0 1 0 -18 0M732.3 155.4a9 9 0 1 0 18 0a9 9 0 1 0 -18 0M813.9 205.8a9 9 0 1 0 18 0a9 9 0 1 0 -18 0M686.1 142.6a9 9 0 1 0 18 0a9 9 0 1 0 -18 0M778.9 255.9a9 9 0 1 0 18 0a9 9 0 1 0 -18 0M719.0 258.7a9 9 0 1 0 18 0a9 9 0 1 0 -18 0M826.9 182.9a9 9 0 1 0 18 0a9 9 0 1 0 -18 0M718.0 276.9a9 9 0 1 0 18 0a9 9 0 1 0 -18 0M868.1 252.8a9 9 0 1 0 18 0a9 9 0 1 0 -18 0M766.3 289.9a9 9 0 1 0 18 0a9 9 0 1 0 -18 0M774.1 159.7a9 9 0 1 0 18 0a9 9 0 1 0 -18 0M712.9 158.5a9 9 0 1 0 18 0a9 9 0 1 0 -18 0M812.2 247.6a9 9 0 1 0 18 0a9 9 0 1 0 -18 0M761.9 268.7a9 9 0 1 0 18 0a9 9 0 1 0 -18 0M670.9 244.3a9 9 0 1 0 18 0a9 9 0 1 0 -18 0M814.7 267.5a9 9 0 1 0 18 0a9 9 0 1 0 -18 0M649.2 147.3a9 9 0 1 0 18 0a9 9 0 1 0 -18 0M826.9 159.6a9 9 0 1 0 18 0a9 9 0 1 0 -18 0M799.2 198.9a9 9 0 1 0 18 0a9 9 0 1 0 -18 0M693.0 286.0a9 9 0 1 0 18 0a9 9 0 1 0 -18 0M846.3 198.9a9 9 0 1 0 18 0a9 9 0 1 0 -18 0M776.9 243.4a9 9 0 1 0 18 0a9 9 0 1 0 -18 0M706.3 189.7a9 9 0 1 0 18 0a9 9 0 1 0 -18 0M684.4 220.6a9 9 0 1 0 18 0a9 9 0 1 0 -18 0M667.2 136.4a9 9 0 1 0 18 0a9 9 0 1 0 -18 0M872.5 207.7a9 9 0 1 0 18 0a9 9 0 1 0 -18 0M756.5 225.1a9 9 0 1 0 18 0a9 9 0 1 0 -18 0M696.8 264.9a9 9 0 1 0 18 0a9 9 0 1 0 -18 0M798.3 147.1a9 9 0 1 0 18 0a9 9 0 1 0 -18 0M804.7 165.4a9 9 0 1 0 18 0a9 9 0 1 0 -18 0M777.5 170.7a9 9 0 1 0 18 0a9 9 0 1 0 -18 0M749.6 268.5a9 9 0 1 0 18 0a9 9 0 1 0 -18 0M776.3 261.8a9 9 0 1 0 18 0a9 9 0 1 0 -18 0M798.4 183.5a9 9 0 1 0 18 0a9 9 0 1 0 -18 0M894.9 231.6a9 9 0 1 0 18 0a9 9 0 1 0 -18 0M874.9 263.1a9 9 0 1 0 18 0a9 9 0 1 0 -18 0M772.3 251.8a9 9 0 1 0 18 0a9 9 0 1 0 -18 0M809.5 299.3a9 9 0 1 0 18 0a9 9 0 1 0 -18 0M651.4 184.4a9 9 0 1 0 18 0a9 9 0 1 0 -18 0M803.8 245.2a9 9 0 1 0 18 0a9 9 0 1 0 -18 0M774.0 155.3a9 9 0 1 0 18 0a9 9 0 1 0 -18 0M762.9 216.2a9 9 0 1 0 18 0a9 9 0 1 0 -18 0M694.3 177.6a9 9 0 1 0 18 0a9 9 0 1 0 -18 0M678.3 248.4a9 9 0 1 0 18 0a9 9 0 1 0 -18 0M811.5 112.5a9 9 0 1 0 18 0a9 9 0 1 0 -18 0M666.0 265.8a9 9 0 1 0 18 0a9 9 0 1 0 -18 0M809.7 177.4a9 9 0 1 0 18 0a9 9 0 1 0 -18 0M691.7 211.1a9 9 0 1 0 18 0a9 9 0 1 0 -18 0M825.2 252.3a9 9 0 1 0 18 0a9 9 0 1 0 -18 0M739.5 282.9a9 9 0 1 0 18 0a9 9 0 1 0 -18 0M786.7 104.6a9 9 0 1 0 18 0a9 9 0 1 0 -18 0M688.9 275.2a9 9 0 1 0 18 0a9 9 0 1 0 -18 0M765.5 241.8a9 9 0 1 0 18 0a9 9 0 1 0 -18 0M809.5 212.5a9 9 0 1 0 18 0a9 9 0 1 0 -18 0M826.0 262.4a9 9 0 1 0 18 0a9 9 0 1 0 -18 0M752.7 96.2a9 9 0 1 0 18 0a9 9 0 1 0 -18 0M636.4 264.3a9 9 0 1 0 18 0a9 9 0 1 0 -18 0M662.9 281.8a9 9 0 1 0 18 0a9 9 0 1 0 -18 0M745.3 233.9a9 9 0 1 0 18 0a9 9 0 1 0 -18 0M839.3 127.4a9 9 0 1 0 18 0a9 9 0 1 0 -18 0M690.6 237.2a9 9 0 1 0 18 0a9 9 0 1 0 -18 0M787.0 208.5a9 9 0 1 0 18 0a9 9 0 1 0 -18 0M808.5 256.1a9 9 0 1 0 18 0a9 9 0 1 0 -18 0M780.2 150.2a9 9 0 1 0 18 0a9 9 0 1 0 -18 0M746.5 182.0a9 9 0 1 0 18 0a9 9 0 1 0 -18 0M638.1 183.0a9 9 0 1 0 18 0a9 9 0 1 0 -18 0M781.3 286.7a9 9 0 1 0 18 0a9 9 0 1 0 -18 0M647.3 260.4a9 9 0 1 0 18 0a9 9 0 1 0 -18 0M788.1 147.2a9 9 0 1 0 18 0a9 9 0 1 0 -18 0M736.4 273.1a9 9 0 1 0 18 0a9 9 0 1 0 -18 0M817.4 175.9a9 9 0 1 0 18 0a9 9 0 1 0 -18 0M741.3 230.8a9 9 0 1 0 18 0a9 9 0 1 0 -18 0M786.4 214.6a9 9 0 1 0 18 0a9 9 0 1 0 -18 0M829.4 218.7a9 9 0 1 0 18 0a9 9 0 1 0 -18 0M773.0 328.7a9 9 0 1 0 18 0a9 9 0 1 0 -18 0M740.1 166.4a9 9 0 1 0 18 0a9 9 0 1 0 -18 0M797.9 200.3a9 9 0 1 0 18 0a9 9 0 1 0 -18 0M711.1 201.0a9 9 0 1 0 18 0a9 9 0 1 0 -18 0M778.5 171.3a9 9 0 1 0 18 0a9 9 0 1 0 -18 0M830.2 200.6a9 9 0 1 0 18 0a9 9 0 1 0 -18 0M722.4 231.1a9 9 0 1 0 18 0a9 9 0 1 0 -18 0M812.7 153.5a9 9 0 1 0 18 0a9 9 0 1 0 -18 0M694.6 194.5a9 9 0 1 0 18 0a9 9 0 1 0 -18 0M884.7 159.2a9 9 0 1 0 18 0a9 9 0 1 0 -18 0M714.3 163.8a9 9 0 1 0 18 0a9 9 0 1 0 -18 0M792.3 225.0a9 9 0 1 0 18 0a9 9 0 1 0 -18 0M785.7 312.7a9 9 0 1 0 18 0a9 9 0 1 0 -18 0M773.1 101.8a9 9 0 1 0 18 0a9 9 0 1 0 -18 0M689.0 157.0a9 9 0 1 0 18 0a9 9 0 1 0 -18 0M751.2 237.8a9 9 0 1 0 18 0a9 9 0 1 0 -18 0M770.3 215.2a9 9 0 1 0 18 0a9 9 0 1 0 -18 0M720.3 235.8a9 9 0 1 0 18 0a9 9 0 1 0 -18 0M829.9 232.3a9 9 0 1 0 18 0a9 9 0 1 0 -18 0M800.7 180.5a9 9 0 1 0 18 0a9 9 0 1 0 -18 0M700.8 154.2a9 9 0 1 0 18 0a9 9 0 1 0 -18 0M797.1 210.7a9 9 0 1 0 18 0a9 9 0 1 0 -18 0M826.9 268.2a9 9 0 1 0 18 0a9 9 0 1 0 -18 0M711.4 249.8a9 9 0 1 0 18 0a9 9 0 1 0 -18 0M836.2 248.0a9 9 0 1 0 18 0a9 9 0 1 0 -18 0M783.1 116.5a9 9 0 1 0 18 0a9 9 0 1 0 -18 0M836.9 188.1a9 9 0 1 0 18 0a9 9 0 1 0 -18 0M706.3 235.4a9 9 0 1 0 18 0a9 9 0 1 0 -18 0M752.4 103.1a9 9 0 1 0 18 0a9 9 0 1 0 -18 0M666.5 177.1a9 9 0 1 0 18 0a9 9 0 1 0 -18 0M699.2 126.9a9 9 0 1 0 18 0a9 9 0 1 0 -18 0M767.3 257.5a9 9 0 1 0 18 0a9 9 0 1 0 -18 0M804.8 270.0a9 9 0 1 0 18 0a9 9 0 1 0 -18 0M655.2 189.4a9 9 0 1 0 18 0a9 9 0 1 0 -18 0M869.5 230.2a9 9 0 1 0 18 0a9 9 0 1 0 -18 0M757.2 168.1a9 9 0 1 0 18 0a9 9 0 1 0 -18 0M813.0 133.6a9 9 0 1 0 18 0a9 9 0 1 0 -18 0M829.0 305.3a9 9 0 1 0 18 0a9 9 0 1 0 -18 0M757.4 143.4a9 9 0 1 0 18 0a9 9 0 1 0 -18 0M662.2 272.4a9 9 0 1 0 18 0a9 9 0 1 0 -18 0M741.8 297.6a9 9 0 1 0 18 0a9 9 0 1 0 -18 0M769.8 251.9a9 9 0 1 0 18 0a9 9 0 1 0 -18 0M708.4 147.9a9 9 0 1 0 18 0a9 9 0 1 0 -18 0M707.9 275.3a9 9 0 1 0 18 0a9 9 0 1 0 -18 0M674.8 163.6a9 9 0 1 0 18 0a9 9 0 1 0 -18 0M786.0 279.7a9 9 0 1 0 18 0a9 9 0 1 0 -18 0M711.3 219.2a9 9 0 1 0 18 0a9 9 0 1 0 -18 0M790.7 156.8a9 9 0 1 0 18 0a9 9 0 1 0 -18 0M816.6 292.8a9 9 0 1 0 18 0a9 9 0 1 0 -18 0M747.8 171.0a9 9 0 1 0 18 0a9 9 0 1 0 -18 0M674.6 125.6a9 9 0 1 0 18 0a9 9 0 1 0 -18 0M663.4 216.2a9 9 0 1 0 18 0a9 9 0 1 0 -18 0M880.2 239.5a9 9 0 1 0 18 0a9 9 0 1 0 -18 0M817.5 257.7a9 9 0 1 0 18 0a9 9 0 1 0 -18 0M803.3 119.9a9 9 0 1 0 18 0a9 9 0 1 0 -18 0M776.5 183.3a9 9 0 1 0 18 0a9 9 0 1 0 -18 0M732.2 96.6a9 9 0 1 0 18 0a9 9 0 1 0 -18 0M712.4 324.5a9 9 0 1 0 18 0a9 9 0 1 0 -18 0M832.4 148.7a9 9 0 1 0 18 0a9 9 0 1 0 -18 0M733.8 171.6a9 9 0 1 0 18 0a9 9 0 1 0 -18 0M819.8 215.2a9 9 0 1 0 18 0a9 9 0 1 0 -18 0M711.9 289.2a9 9 0 1 0 18 0a9 9 0 1 0 -18 0M767.1 195.7a9 9 0 1 0 18 0a9 9 0 1 0 -18 0M800.4 248.6a9 9 0 1 0 18 0a9 9 0 1 0 -18 0M766.5 249.1a9 9 0 1 0 18 0a9 9 0 1 0 -18 0M756.1 272.1a9 9 0 1 0 18 0a9 9 0 1 0 -18 0M697.9 196.8a9 9 0 1 0 18 0a9 9 0 1 0 -18 0M798.4 121.9a9 9 0 1 0 18 0a9 9 0 1 0 -18 0M774.3 145.3a9 9 0 1 0 18 0a9 9 0 1 0 -18 0M771.8 187.9a9 9 0 1 0 18 0a9 9 0 1 0 -18 0M814.6 303.1a9 9 0 1 0 18 0a9 9 0 1 0 -18 0M782.7 179.8a9 9 0 1 0 18 0a9 9 0 1 0 -18 0M737.4 159.3a9 9 0 1 0 18 0a9 9 0 1 0 -18 0M736.5 145.6a9 9 0 1 0 18 0a9 9 0 1 0 -18 0M707.6 183.4a9 9 0 1 0 18 0a9 9 0 1 0 -18 0M689.0 177.4a9 9 0 1 0 18 0a9 9 0 1 0 -18 0M793.7 272.9a9 9 0 1 0 18 0a9 9 0 1 0 -18 0M786.7 178.3a9 9 0 1 0 18 0a9 9 0 1 0 -18 0M704.8 311.3a9 9 0 1 0 18 0a9 9 0 1 0 -18 0M796.1 286.6a9 9 0 1 0 18 0a9 9 0 1 0 -18 0M865.8 228.7a9 9 0 1 0 18 0a9 9 0 1 0 -18 0M712.3 283.5a9 9 0 1 0 18 0a9 9 0 1 0 -18 0M773.4 245.6a9 9 0 1 0 18 0a9 9 0 1 0 -18 0M830.1 187.6a9 9 0 1 0 18 0a9 9 0 1 0 -18 0M804.0 266.3a9 9 0 1 0 18 0a9 9 0 1 0 -18 0M742.2 147.6a9 9 0 1 0 18 0a9 9 0 1 0 -18 0M721.6 261.6a9 9 0 1 0 18 0a9 9 0 1 0 -18 0M755.3 195.0a9 9 0 1 0 18 0a9 9 0 1 0 -18 0M661.2 272.6a9 9 0 1 0 18 0a9 9 0 1 0 -18 0M766.8 311.0a9 9 0 1 0 18 0a9 9 0 1 0 -18 0M813.4 143.9a9 9 0 1 0 18 0a9 9 0 1 0 -18 0M788.2 243.4a9 9 0 1 0 18 0a9 9 0 1 0 -18 0M693.1 191.3a9 9 0 1 0 18 0a9 9 0 1 0 -18 0M810.0 171.2a9 9 0 1 0 18 0a9 9 0 1 0 -18 0M732.6 211.1a9 9 0 1 0 18 0a9 9 0 1 0 -18 0M832.1 185.4a9 9 0 1 0 18 0a9 9 0 1 0 -18 0M708.3 226.0a9 9 0 1 0 18 0a9 9 0 1 0 -18 0M803.0 159.7a9 9 0 1 0 18 0a9 9 0 1 0 -18 0M731.6 200.6a9 9 0 1 0 18 0a9 9 0 1 0 -18 0M759.9 151.9a9 9 0 1 0 18 0a9 9 0 1 0 -18 0M768.6 275.9a9 9 0 1 0 18 0a9 9 0 1 0 -18 0M653.1 258.5a9 9 0 1 0 18 0a9 9 0 1 0 -18 0M724.7 119.3a9 9 0 1 0 18 0a9 9 0 1 0 -18 0M788.3 259.5a9 9 0 1 0 18 0a9 9 0 1 0 -18 0M699.2 103.5a9 9 0 1 0 18 0a9 9 0 1 0 -18 0M702.0 273.8a9 9 0 1 0 18 0a9 9 0 1 0 -18 0M889.3 219.8a9 9 0 1 0 18 0a9 9 0 1 0 -18 0M698.2 235.9a9 9 0 1 0 18 0a9 9 0 1 0 -18 0M759.4 275.7a9 9 0 1 0 18 0a9 9 0 1 0 -18 0M880.1 192.3a9 9 0 1 0 18 0a9 9 0 1 0 -18 0M767.3 261.8a9 9 0 1 0 18 0a9 9 0 1 0 -18 0M714.8 269.5a9 9 0 1 0 18 0a9 9 0 1 0 -18 0M653.5 270.3a9 9 0 1 0 18 0a9 9 0 1 0 -18 0M732.7 205.7a9 9 0 1 0 18 0a9 9 0 1 0 -18 0M714.6 293.0a9 9 0 1 0 18 0a9 9 0 1 0 -18 0M771.9 276.6a9 9 0 1 0 18 0a9 9 0 1 0 -18 0M809.3 223.6a9 9 0 1 0 18 0a9 9 0 1 0 -18 0M760.0 320.5a9 9 0 1 0 18 0a9 9 0 1 0 -18 0M844.3 237.9a9 9 0 1 0 18 0a9 9 0 1 0 -18 0M780.6 186.5a9 9 0 1 0 18 0a9 9 0 1 0 -18 0M711.0 149.1a9 9 0 1 0 18 0a9 9 0 1 0 -18 0M769.3 138.4a9 9 0 1 0 18 0a9 9 0 1 0 -18 0M686.0 261.5a9 9 0 1 0 18 0a9 9 0 1 0 -18 0M826.1 188.0a9 9 0 1 0 18 0a9 9 0 1 0 -18 0M671.4 167.6a9 9 0 1 0 18 0a9 9 0 1 0 -18 0M695.7 234.6a9 9 0 1 0 18 0a9 9 0 1 0 -18 0M662.0 210.7a9 9 0 1 0 18 0a9 9 0 1 0 -18 0M685.0 120.1a9 9 0 1 0 18 0a9 9 0 1 0 -18 0M720.6 133.6a9 9 0 1 0 18 0a9 9 0 1 0 -18 0M772.9 183.4a9 9 0 1 0 18 0a9 9 0 1 0 -18 0M717.1 193.4a9 9 0 1 0 18 0a9 9 0 1 0 -18 0M727.7 201.4a9 9 0 1 0 18 0a9 9 0 1 0 -18 0M783.2 196.7a9 9 0 1 0 18 0a9 9 0 1 0 -18 0M747.6 186.1a9 9 0 1 0 18 0a9 9 0 1 0 -18 0M773.7 232.0a9 9 0 1 0 18 0a9 9 0 1 0 -18 0M678.4 308.1a9 9 0 1 0 18 0a9 9 0 1 0 -18 0M785.4 203.4a9 9 0 1 0 18 0a9 9 0 1 0 -18 0M816.6 261.6a9 9 0 1 0 18 0a9 9 0 1 0 -18 0M717.7 285.1a9 9 0 1 0 18 0a9 9 0 1 0 -18 0M682.2 188.7a9 9 0 1 0 18 0a9 9 0 1 0 -18 0M738.8 236.1a9 9 0 1 0 18 0a9 9 0 1 0 -18 0M732.6 222.7a9 9 0 1 0 18 0a9 9 0 1 0 -18 0M673.1 256.7a9 9 0 1 0 18 0a9 9 0 1 0 -18 0M844.4 195.0a9 9 0 1 0 18 0a9 9 0 1 0 -18 0M759.8 134.7a9 9 0 1 0 18 0a9 9 0 1 0 -18 0M807.5 207.2a9 9 0 1 0 18 0a9 9 0 1 0 -18 0M756.1 237.2a9 9 0 1 0 18 0a9 9 0 1 0 -18 0M859.4 207.3a9 9 0 1 0 18 0a9 9 0 1 0 -18 0M647.2 269.4a9 9 0 1 0 18 0a9 9 0 1 0 -18 0M766.2 218.8a9 9 0 1 0 18 0a9 9 0 1 0 -18 0M723.7 220.7a9 9 0 1 0 18 0a9 9 0 1 0 -18 0M777.8 269.9a9 9 0 1 0 18 0a9 9 0 1 0 -18 0M836.9 286.1a9 9 0 1 0 18 0a9 9 0 1 0 -18 0M780.1 205.2a9 9 0 1 0 18 0a9 9 0 1 0 -18 0M675.4 234.1a9 9 0 1 0 18 0a9 9 0 1 0 -18 0M681.9 172.2a9 9 0 1 0 18 0a9 9 0 1 0 -18 0M719.7 189.0a9 9 0 1 0 18 0a9 9 0 1 0 -18 0M800.1 189.1a9 9 0 1 0 18 0a9 9 0 1 0 -18 0M713.4 244.0a9 9 0 1 0 18 0a9 9 0 1 0 -18 0M778.3 138.3a9 9 0 1 0 18 0a9 9 0 1 0 -18 0M754.5 209.2a9 9 0 1 0 18 0a9 9 0 1 0 -18 0M745.8 162.9a9 9 0 1 0 18 0a9 9 0 1 0 -18 0M729.2 161.8a9 9 0 1 0 18 0a9 9 0 1 0 -18 0M644.4 221.0a9 9 0 1 0 18 0a9 9 0 1 0 -18 0M710.5 119.0a9 9 0 1 0 18 0a9 9 0 1 0 -18 0M706.1 177.5a9 9 0 1 0 18 0a9 9 0 1 0 -18 0M731.6 212.9a9 9 0 1 0 18 0a9 9 0 1 0 -18 0M704.8 172.9a9 9 0 1 0 18 0a9 9 0 1 0 -18 0M735.2 103.1a9 9 0 1 0 18 0a9 9 0 1 0 -18 0M781.1 137.4a9 9 0 1 0 18 0a9 9 0 1 0 -18 0M734.9 215.9a9 9 0 1 0 18 0a9 9 0 1 0 -18 0M763.6 236.7a9 9 0 1 0 18 0a9 9 0 1 0 -18 0M836.9 239.7a9 9 0 1 0 18 0a9 9 0 1 0 -18 0M813.5 299.3a9 9 0 1 0 18 0a9 9 0 1 0 -18 0M721.3 196.6a9 9 0 1 0 18 0a9 9 0 1 0 -18 0M748.7 232.4a9 9 0 1 0 18 0a9 9 0 1 0 -18 0M708.1 302.6a9 9 0 1 0 18 0a9 9 0 1 0 -18 0M742.9 228.6a9 9 0 1 0 18 0a9 9 0 1 0 -18 0M771.4 232.2a9 9 0 1 0 18 0a9 9 0 1 0 -18 0M664.3 250.5a9 9 0 1 0 18 0a9 9 0 1 0 -18 0M766.2 175.9a9 9 0 1 0 18 0a9 9 0 1 0 -18 0M823.5 206.8a9 9 0 1 0 18 0a9 9 0 1 0 -18 0M716.2 253.8a9 9 0 1 0 18 0a9 9 0 1 0 -18 0M738.4 124.7a9 9 0 1 0 18 0a9 9 0 1 0 -18 0M707.1 274.0a9 9 0 1 0 18 0a9 9 0 1 0 -18 0M746.1 231.2a9 9 0 1 0 18 0a9 9 0 1 0 -18 0M765.7 156.5a9 9 0 1 0 18 0a9 9 0 1 0 -18 0M764.7 137.1a9 9 0 1 0 18 0a9 9 0 1 0 -18 0M720.9 143.9a9 9 0 1 0 18 0a9 9 0 1 0 -18 0M827.4 200.7a9 9 0 1 0 18 0a9 9 0 1 0 -18 0M711.8 211.3a9 9 0 1 0 18 0a9 9 0 1 0 -18 0M820.8 192.6a9 9 0 1 0 18 0a9 9 0 1 0 -18 0M774.3 218.6a9 9 0 1 0 18 0a9 9 0 1 0 -18 0M784.7 310.4a9 9 0 1 0 18 0a9 9 0 1 0 -18 0M746.4 208.9a9 9 0 1 0 18 0a9 9 0 1 0 -18 0M802.0 121.2a9 9 0 1 0 18 0a9 9 0 1 0 -18 0M673.3 255.3a9 9 0 1 0 18 0a9 9 0 1 0 -18 0M710.7 138.9a9 9 0 1 0 18 0a9 9 0 1 0 -18 0M807.0 124.5a9 9 0 1 0 18 0a9 9 0 1 0 -18 0M759.2 270.5a9 9 0 1 0 18 0a9 9 0 1 0 -18 0M798.7 136.7a9 9 0 1 0 18 0a9 9 0 1 0 -18 0M668.3 228.8a9 9 0 1 0 18 0a9 9 0 1 0 -18 0M813.5 272.6a9 9 0 1 0 18 0a9 9 0 1 0 -18 0M715.8 237.6a9 9 0 1 0 18 0a9 9 0 1 0 -18 0M767.4 138.3a9 9 0 1 0 18 0a9 9 0 1 0 -18 0M788.9 263.4a9 9 0 1 0 18 0a9 9 0 1 0 -18 0M758.1 125.3a9 9 0 1 0 18 0a9 9 0 1 0 -18 0M679.1 300.6a9 9 0 1 0 18 0a9 9 0 1 0 -18 0M840.5 208.1a9 9 0 1 0 18 0a9 9 0 1 0 -18 0M717.2 227.6a9 9 0 1 0 18 0a9 9 0 1 0 -18 0M813.6 234.1a9 9 0 1 0 18 0a9 9 0 1 0 -18 0M718.6 206.3a9 9 0 1 0 18 0a9 9 0 1 0 -18 0M764.3 203.5a9 9 0 1 0 18 0a9 9 0 1 0 -18 0M813.5 127.8a9 9 0 1 0 18 0a9 9 0 1 0 -18 0M806.2 151.4a9 9 0 1 0 18 0a9 9 0 1 0 -18 0M711.0 196.6a9 9 0 1 0 18 0a9 9 0 1 0 -18 0M720.5 210.3a9 9 0 1 0 18 0a9 9 0 1 0 -18 0M644.6 210.9a9 9 0 1 0 18 0a9 9 0 1 0 -18 0M693.2 182.3a9 9 0 1 0 18 0a9 9 0 1 0 -18 0M775.7 255.7a9 9 0 1 0 18 0a9 9 0 1 0 -18 0M737.0 102.1a9 9 0 1 0 18 0a9 9 0 1 0 -18 0M804.6 199.3a9 9 0 1 0 18 0a9 9 0 1 0 -18 0M735.5 158.9a9 9 0 1 0 18 0a9 9 0 1 0 -18 0M773.4 184.1a9 9 0 1 0 18 0a9 9 0 1 0 -18 0M754.7 178.8a9 9 0 1 0 18 0a9 9 0 1 0 -18 0M660.4 288.9a9 9 0 1 0 18 0a9 9 0 1 0 -18 0M733.6 251.1a9 9 0 1 0 18 0a9 9 0 1 0 -18 0M669.5 152.8a9 9 0 1 0 18 0a9 9 0 1 0 -18 0M751.8 197.7a9 9 0 1 0 18 0a9 9 0 1 0 -18 0M784.8 245.2a9 9 0 1 0 18 0a9 9 0 1 0 -18 0M811.1 208.3a9 9 0 1 0 18 0a9 9 0 1 0 -18 0M729.6 140.2a9 9 0 1 0 18 0a9 9 0 1 0 -18 0M760.2 212.7a9 9 0 1 0 18 0a9 9 0 1 0 -18 0M741.0 151.3a9 9 0 1 0 18 0a9 9 0 1 0 -18 0M739.6 123.9a9 9 0 1 0 18 0a9 9 0 1 0 -18 0M672.4 157.2a9 9 0 1 0 18 0a9 9 0 1 0 -18 0M796.9 263.4a9 9 0 1 0 18 0a9 9 0 1 0 -18 0M671.1 282.4a9 9 0 1 0 18 0a9 9 0 1 0 -18 0M751.0 266.8a9 9 0 1 0 18 0a9 9 0 1 0 -18 0M809.5 129.8a9 9 0 1 0 18 0a9 9 0 1 0 -18 0M820.2 234.1a9 9 0 1 0 18 0a9 9 0 1 0 -18 0M778.0 199.9a9 9 0 1 0 18 0a9 9 0 1 0 -18 0M792.3 193.1a9 9 0 1 0 18 0a9 9 0 1 0 -18 0M638.1 216.0a9 9 0 1 0 18 0a9 9 0 1 0 -18 0M777.8 244.3a9 9 0 1 0 18 0a9 9 0 1 0 -18 0M648.7 201.8a9 9 0 1 0 18 0a9 9 0 1 0 -18 0M799.1 178.9a9 9 0 1 0 18 0a9 9 0 1 0 -18 0M674.2 281.9a9 9 0 1 0 18 0a9 9 0 1 0 -18 0M679.7 205.0a9 9 0 1 0 18 0a9 9 0 1 0 -18 0M753.3 160.5a9 9 0 1 0 18 0a9 9 0 1 0 -18 0M753.5 195.6a9 9 0 1 0 18 0a9 9 0 1 0 -18 0M864.1 217.8a9 9 0 1 0 18 0a9 9 0 1 0 -18 0M713.2 176.1a9 9 0 1 0 18 0a9 9 0 1 0 -18 0M761.8 245.0a9 9 0 1 0 18 0a9 9 0 1 0 -18 0M795.9 124.0a9 9 0 1 0 18 0a9 9 0 1 0 -18 0M802.0 242.0a9 9 0 1 0 18 0a9 9 0 1 0 -18 0M686.3 215.2a9 9 0 1 0 18 0a9 9 0 1 0 -18 0M735.7 269.5a9 9 0 1 0 18 0a9 9 0 1 0 -18 0M682.9 179.6a9 9 0 1 0 18 0a9 9 0 1 0 -18 0M798.3 269.4a9 9 0 1 0 18 0a9 9 0 1 0 -18 0M801.2 259.5a9 9 0 1 0 18 0a9 9 0 1 0 -18 0M766.0 185.3a9 9 0 1 0 18 0a9 9 0 1 0 -18 0M874.4 195.2a9 9 0 1 0 18 0a9 9 0 1 0 -18 0M785.0 164.6a9 9 0 1 0 18 0a9 9 0 1 0 -18 0M839.9 254.8a9 9 0 1 0 18 0a9 9 0 1 0 -18 0M677.9 240.1a9 9 0 1 0 18 0a9 9 0 1 0 -18 0" fill="none" stroke="#00f" stroke-width="1.6"/>
<path d="M757.7 88.3l12.4 12.4m0 -12.4l-12.4 12.4M781.6 84.9l12.4 12.4m0 -12.4l-12.4 12.4M744.8 102.0l12.4 12.4m0 -12.4l-12.4 12.4M766.3 107.7l12.4 12.4m0 -12.4l-12.4 12.4M803.6 109.9l12.4 12.4m0 -12.4l-12.4 12.4M825.9 111.1l12.4 12.4m0 -12.4l-12.4 12.4M790.0 125.8l12.4 12.4m0 -12.4l-12.4 12.4M810.4 127.7l12.4 12.4m0 -12.4l-12.4 12.4M761.8 139.5l12.4 12.4m0 -12.4l-12.4 12.4M829.3 145.2l12.4 12.4m0 -12.4l-12.4 12.4M853.8 149.7l12.4 12.4m0 -12.4l-12.4 12.4M745.4 151.3l12.4 12.4m0 -12.4l-12.4 12.4M801.3 152.7l12.4 12.4m0 -12.4l-12.4 12.4M785.0 159.9l12.4 12.4m0 -12.4l-12.4 12.4M767.3 165.2l12.4 12.4m0 -12.4l-12.4 12.4M834.5 163.3l12.4 12.4m0 -12.4l-12.4 12.4M872.0 162.9l12.4 12.4m0 -12.4l-12.4 12.4M801.3 172.0l12.4 12.4m0 -12.4l-12.4 12.4M853.8 170.8l12.4 12.4m0 -12.4l-12.4 12.4M779.3 180.4l12.4 12.4m0 -12.4l-12.4 12.4M757.7 185.8l12.4 12.4m0 -12.4l-12.4 12.4M820.7 188.6l12.4 12.4m0 -12.4l-12.4 12.4M734.9 85.9l12.4 12.4m0 -12.4l-12.4 12.4M707.7 113.0l12.4 12.4m0 -12.4l-12.4 12.4M686.7 120.6l12.4 12.4m0 -12.4l-12.4 12.4M724.0 126.0l12.4 12.4m0 -12.4l-12.4 12.4M703.4 132.5l12.4 12.4m0 -12.4l-12.4 12.4M718.6 144.4l12.4 12.4m0 -12.4l-12.4 12.4M676.7 148.8l12.4 12.4m0 -12.4l-12.4 12.4M703.4 169.4l12.4 12.4m0 -12.4l-12.4 12.4M721.8 167.9l12.4 12.4m0 -12.4l-12.4 12.4M651.3 175.9l12.4 12.4m0 -12.4l-12.4 12.4M673.7 175.9l12.4 12.4m0 -12.4l-12.4 12.4M738.1 177.0l12.4 12.4m0 -12.4l-12.4 12.4M715.5 185.3l12.4 12.4m0 -12.4l-12.4 12.4M659.3 191.8l12.4 12.4m0 -12.4l-12.4 12.4M682.3 193.8l12.4 12.4m0 -12.4l-12.4 12.4M729.8 194.8l12.4 12.4m0 -12.4l-12.4 12.4M703.8 209.9l12.4 12.4m0 -12.4l-12.4 12.4M728.1 217.5l12.4 12.4m0 -12.4l-12.4 12.4M649.0 225.1l12.4 12.4m0 -12.4l-12.4 12.4M686.4 220.8l12.4 12.4m0 -12.4l-12.4 12.4M708.1 228.4l12.4 12.4m0 -12.4l-12.4 12.4M662.5 239.2l12.4 12.4m0 -12.4l-12.4 12.4M642.5 244.7l12.4 12.4m0 -12.4l-12.4 12.4M691.8 240.8l12.4 12.4m0 -12.4l-12.4 12.4M712.5 245.1l12.4 12.4m0 -12.4l-12.4 12.4M740.1 242.1l12.4 12.4m0 -12.4l-12.4 12.4M663.5 259.9l12.4 12.4m0 -12.4l-12.4 12.4M645.7 269.7l12.4 12.4m0 -12.4l-12.4 12.4M694.0 273.4l12.4 12.4m0 -12.4l-12.4 12.4M717.9 269.2l12.4 12.4m0 -12.4l-12.4 12.4M747.3 269.1l12.4 12.4m0 -12.4l-12.4 12.4M703.1 290.3l12.4 12.4m0 -12.4l-12.4 12.4M722.7 293.6l12.4 12.4m0 -12.4l-12.4 12.4M753.8 307.8l12.4 12.4m0 -12.4l-12.4 12.4M752.7 203.8l12.4 12.4m0 -12.4l-12.4 12.4M778.2 202.0l12.4 12.4m0 -12.4l-12.4 12.4M799.8 197.9l12.4 12.4m0 -12.4l-12.4 12.4M839.1 197.0l12.4 12.4m0 -12.4l-12.4 12.4M859.5 200.2l12.4 12.4m0 -12.4l-12.4 12.4M816.8 211.5l12.4 12.4m0 -12.4l-12.4 12.4M769.8 223.1l12.4 12.4m0 -12.4l-12.4 12.4M794.1 220.6l12.4 12.4m0 -12.4l-12.4 12.4M838.4 224.3l12.4 12.4m0 -12.4l-12.4 12.4M858.4 231.1l12.4 12.4m0 -12.4l-12.4 12.4M753.2 227.7l12.4 12.4m0 -12.4l-12.4 12.4M761.8 244.0l12.4 12.4m0 -12.4l-12.4 12.4M780.0 239.5l12.4 12.4m0 -12.4l-12.4 12.4M818.4 234.9l12.4 12.4m0 -12.4l-12.4 12.4M835.7 244.7l12.4 12.4m0 -12.4l-12.4 12.4M855.0 252.0l12.4 12.4m0 -12.4l-12.4 12.4M768.6 274.7l12.4 12.4m0 -12.4l-12.4 12.4M798.6 262.9l12.4 12.4m0 -12.4l-12.4 12.4M817.9 270.2l12.4 12.4m0 -12.4l-12.4 12.4M800.4 280.4l12.4 12.4m0 -12.4l-12.4 12.4M831.1 284.9l12.4 12.4m0 -12.4l-12.4 12.4M753.2 288.8l12.4 12.4m0 -12.4l-12.4 12.4M773.2 297.0l12.4 12.4m0 -12.4l-12.4 12.4M810.7 295.8l12.4 12.4m0 -12.4l-12.4 12.4" fill="none" stroke="#ee0000" stroke-width="1.65"/>
<g fill="#00f"><ellipse cx="260.0" cy="636.0" rx="28.5" ry="21.5"/><ellipse cx="276.0" cy="609.0" rx="16.5" ry="13.5"/><ellipse cx="296.0" cy="618.0" rx="14.5" ry="14.5"/><ellipse cx="316.5" cy="608.0" rx="9.5" ry="9.5"/><ellipse cx="300.0" cy="641.0" rx="16.5" ry="16.5"/><ellipse cx="326.0" cy="635.0" rx="9.0" ry="9.0"/></g><path d="M273.1 638.1a9 9 0 1 0 18 0a9 9 0 1 0 -18 0M272.4 640.6a9 9 0 1 0 18 0a9 9 0 1 0 -18 0M271.6 640.9a9 9 0 1 0 18 0a9 9 0 1 0 -18 0M269.6 644.2a9 9 0 1 0 18 0a9 9 0 1 0 -18 0M268.8 646.1a9 9 0 1 0 18 0a9 9 0 1 0 -18 0M267.0 647.3a9 9 0 1 0 18 0a9 9 0 1 0 -18 0M265.0 647.9a9 9 0 1 0 18 0a9 9 0 1 0 -18 0M261.4 650.8a9 9 0 1 0 18 0a9 9 0 1 0 -18 0M258.7 652.1a9 9 0 1 0 18 0a9 9 0 1 0 -18 0M253.2 651.7a9 9 0 1 0 18 0a9 9 0 1 0 -18 0M250.6 652.5a9 9 0 1 0 18 0a9 9 0 1 0 -18 0M247.9 651.6a9 9 0 1 0 18 0a9 9 0 1 0 -18 0M242.3 650.0a9 9 0 1 0 18 0a9 9 0 1 0 -18 0M240.4 649.8a9 9 0 1 0 18 0a9 9 0 1 0 -18 0M235.2 647.7a9 9 0 1 0 18 0a9 9 0 1 0 -18 0M235.2 646.6a9 9 0 1 0 18 0a9 9 0 1 0 -18 0M231.4 645.4a9 9 0 1 0 18 0a9 9 0 1 0 -18 0M230.1 643.4a9 9 0 1 0 18 0a9 9 0 1 0 -18 0M227.9 639.7a9 9 0 1 0 18 0a9 9 0 1 0 -18 0M228.5 637.6a9 9 0 1 0 18 0a9 9 0 1 0 -18 0M227.0 636.7a9 9 0 1 0 18 0a9 9 0 1 0 -18 0M227.9 631.4a9 9 0 1 0 18 0a9 9 0 1 0 -18 0M229.0 632.5a9 9 0 1 0 18 0a9 9 0 1 0 -18 0M230.8 627.8a9 9 0 1 0 18 0a9 9 0 1 0 -18 0M232.7 626.4a9 9 0 1 0 18 0a9 9 0 1 0 -18 0M235.7 624.5a9 9 0 1 0 18 0a9 9 0 1 0 -18 0M237.4 624.5a9 9 0 1 0 18 0a9 9 0 1 0 -18 0M240.4 622.6a9 9 0 1 0 18 0a9 9 0 1 0 -18 0M242.6 620.8a9 9 0 1 0 18 0a9 9 0 1 0 -18 0M249.5 619.3a9 9 0 1 0 18 0a9 9 0 1 0 -18 0M250.6 620.9a9 9 0 1 0 18 0a9 9 0 1 0 -18 0M254.8 620.5a9 9 0 1 0 18 0a9 9 0 1 0 -18 0M256.0 619.9a9 9 0 1 0 18 0a9 9 0 1 0 -18 0M260.6 621.4a9 9 0 1 0 18 0a9 9 0 1 0 -18 0M263.0 623.1a9 9 0 1 0 18 0a9 9 0 1 0 -18 0M266.4 625.2a9 9 0 1 0 18 0a9 9 0 1 0 -18 0M270.0 627.9a9 9 0 1 0 18 0a9 9 0 1 0 -18 0M272.2 628.8a9 9 0 1 0 18 0a9 9 0 1 0 -18 0M272.8 630.6a9 9 0 1 0 18 0a9 9 0 1 0 -18 0M273.4 634.7a9 9 0 1 0 18 0a9 9 0 1 0 -18 0M273.4 635.1a9 9 0 1 0 18 0a9 9 0 1 0 -18 0M278.8 609.8a9 9 0 1 0 18 0a9 9 0 1 0 -18 0M276.3 612.9a9 9 0 1 0 18 0a9 9 0 1 0 -18 0M274.0 615.0a9 9 0 1 0 18 0a9 9 0 1 0 -18 0M274.0 616.3a9 9 0 1 0 18 0a9 9 0 1 0 -18 0M269.7 617.9a9 9 0 1 0 18 0a9 9 0 1 0 -18 0M266.7 615.8a9 9 0 1 0 18 0a9 9 0 1 0 -18 0M260.8 615.0a9 9 0 1 0 18 0a9 9 0 1 0 -18 0M258.8 615.6a9 9 0 1 0 18 0a9 9 0 1 0 -18 0M257.6 614.2a9 9 0 1 0 18 0a9 9 0 1 0 -18 0M257.2 612.3a9 9 0 1 0 18 0a9 9 0 1 0 -18 0M256.7 608.2a9 9 0 1 0 18 0a9 9 0 1 0 -18 0M258.1 605.5a9 9 0 1 0 18 0a9 9 0 1 0 -18 0M259.6 604.6a9 9 0 1 0 18 0a9 9 0 1 0 -18 0M261.0 601.9a9 9 0 1 0 18 0a9 9 0 1 0 -18 0M264.4 601.9a9 9 0 1 0 18 0a9 9 0 1 0 -18 0M268.1 602.2a9 9 0 1 0 18 0a9 9 0 1 0 -18 0M272.2 602.1a9 9 0 1 0 18 0a9 9 0 1 0 -18 0M275.3 601.9a9 9 0 1 0 18 0a9 9 0 1 0 -18 0M277.3 604.8a9 9 0 1 0 18 0a9 9 0 1 0 -18 0M277.5 606.4a9 9 0 1 0 18 0a9 9 0 1 0 -18 0M295.2 618.6a9 9 0 1 0 18 0a9 9 0 1 0 -18 0M295.9 623.3a9 9 0 1 0 18 0a9 9 0 1 0 -18 0M292.5 625.5a9 9 0 1 0 18 0a9 9 0 1 0 -18 0M289.9 627.0a9 9 0 1 0 18 0a9 9 0 1 0 -18 0M287.1 626.3a9 9 0 1 0 18 0a9 9 0 1 0 -18 0M285.5 626.6a9 9 0 1 0 18 0a9 9 0 1 0 -18 0M281.0 626.3a9 9 0 1 0 18 0a9 9 0 1 0 -18 0M278.7 622.5a9 9 0 1 0 18 0a9 9 0 1 0 -18 0M279.1 619.6a9 9 0 1 0 18 0a9 9 0 1 0 -18 0M278.3 617.6a9 9 0 1 0 18 0a9 9 0 1 0 -18 0M278.9 613.7a9 9 0 1 0 18 0a9 9 0 1 0 -18 0M280.5 610.9a9 9 0 1 0 18 0a9 9 0 1 0 -18 0M283.4 610.8a9 9 0 1 0 18 0a9 9 0 1 0 -18 0M287.4 608.4a9 9 0 1 0 18 0a9 9 0 1 0 -18 0M288.8 610.3a9 9 0 1 0 18 0a9 9 0 1 0 -18 0M291.3 611.1a9 9 0 1 0 18 0a9 9 0 1 0 -18 0M293.4 612.4a9 9 0 1 0 18 0a9 9 0 1 0 -18 0M295.7 616.0a9 9 0 1 0 18 0a9 9 0 1 0 -18 0M311.6 609.1a9 9 0 1 0 18 0a9 9 0 1 0 -18 0M310.8 610.7a9 9 0 1 0 18 0a9 9 0 1 0 -18 0M307.5 611.4a9 9 0 1 0 18 0a9 9 0 1 0 -18 0M305.5 610.6a9 9 0 1 0 18 0a9 9 0 1 0 -18 0M303.7 608.8a9 9 0 1 0 18 0a9 9 0 1 0 -18 0M304.3 605.2a9 9 0 1 0 18 0a9 9 0 1 0 -18 0M307.4 603.6a9 9 0 1 0 18 0a9 9 0 1 0 -18 0M311.2 605.6a9 9 0 1 0 18 0a9 9 0 1 0 -18 0M301.6 641.1a9 9 0 1 0 18 0a9 9 0 1 0 -18 0M300.3 645.2a9 9 0 1 0 18 0a9 9 0 1 0 -18 0M299.5 647.2a9 9 0 1 0 18 0a9 9 0 1 0 -18 0M297.6 650.1a9 9 0 1 0 18 0a9 9 0 1 0 -18 0M296.0 651.8a9 9 0 1 0 18 0a9 9 0 1 0 -18 0M292.3 651.2a9 9 0 1 0 18 0a9 9 0 1 0 -18 0M288.6 651.8a9 9 0 1 0 18 0a9 9 0 1 0 -18 0M287.9 650.8a9 9 0 1 0 18 0a9 9 0 1 0 -18 0M285.3 650.8a9 9 0 1 0 18 0a9 9 0 1 0 -18 0M281.5 647.6a9 9 0 1 0 18 0a9 9 0 1 0 -18 0M280.7 646.2a9 9 0 1 0 18 0a9 9 0 1 0 -18 0M280.9 640.6a9 9 0 1 0 18 0a9 9 0 1 0 -18 0M280.5 638.5a9 9 0 1 0 18 0a9 9 0 1 0 -18 0M282.0 635.8a9 9 0 1 0 18 0a9 9 0 1 0 -18 0M283.5 632.8a9 9 0 1 0 18 0a9 9 0 1 0 -18 0M285.4 632.8a9 9 0 1 0 18 0a9 9 0 1 0 -18 0M289.5 629.1a9 9 0 1 0 18 0a9 9 0 1 0 -18 0M291.4 628.8a9 9 0 1 0 18 0a9 9 0 1 0 -18 0M293.0 629.3a9 9 0 1 0 18 0a9 9 0 1 0 -18 0M297.1 633.2a9 9 0 1 0 18 0a9 9 0 1 0 -18 0M299.0 633.8a9 9 0 1 0 18 0a9 9 0 1 0 -18 0M301.6 637.8a9 9 0 1 0 18 0a9 9 0 1 0 -18 0M300.9 638.7a9 9 0 1 0 18 0a9 9 0 1 0 -18 0M319.4 634.2a9 9 0 1 0 18 0a9 9 0 1 0 -18 0M318.4 637.1a9 9 0 1 0 18 0a9 9 0 1 0 -18 0M315.5 639.6a9 9 0 1 0 18 0a9 9 0 1 0 -18 0M314.7 638.1a9 9 0 1 0 18 0a9 9 0 1 0 -18 0M314.6 634.2a9 9 0 1 0 18 0a9 9 0 1 0 -18 0M314.3 633.1a9 9 0 1 0 18 0a9 9 0 1 0 -18 0M316.3 632.0a9 9 0 1 0 18 0a9 9 0 1 0 -18 0M319.9 632.7a9 9 0 1 0 18 0a9 9 0 1 0 -18 0" fill="none" stroke="#00f" stroke-width="1.6"/>
<path d="M192.2 515.6l12.4 12.4m0 -12.4l-12.4 12.4M235.6 514.1l12.4 12.4m0 -12.4l-12.4 12.4M191.1 532.3l12.4 12.4m0 -12.4l-12.4 12.4M231.2 541.0l12.4 12.4m0 -12.4l-12.4 12.4M258.3 554.8l12.4 12.4m0 -12.4l-12.4 12.4M100.0 561.2l12.4 12.4m0 -12.4l-12.4 12.4M159.0 570.5l12.4 12.4m0 -12.4l-12.4 12.4M205.2 566.2l12.4 12.4m0 -12.4l-12.4 12.4M119.5 587.6l12.4 12.4m0 -12.4l-12.4 12.4M155.8 590.0l12.4 12.4m0 -12.4l-12.4 12.4M188.3 583.3l12.4 12.4m0 -12.4l-12.4 12.4M226.7 590.0l12.4 12.4m0 -12.4l-12.4 12.4M256.2 581.5l12.4 12.4m0 -12.4l-12.4 12.4M250.5 604.6l12.4 12.4m0 -12.4l-12.4 12.4M149.3 614.5l12.4 12.4m0 -12.4l-12.4 12.4M184.1 620.8l12.4 12.4m0 -12.4l-12.4 12.4M227.5 615.3l12.4 12.4m0 -12.4l-12.4 12.4M421.5 512.4l12.4 12.4m0 -12.4l-12.4 12.4M385.2 520.4l12.4 12.4m0 -12.4l-12.4 12.4M296.5 523.8l12.4 12.4m0 -12.4l-12.4 12.4M333.3 539.0l12.4 12.4m0 -12.4l-12.4 12.4M364.7 544.3l12.4 12.4m0 -12.4l-12.4 12.4M413.6 539.0l12.4 12.4m0 -12.4l-12.4 12.4M447.4 537.4l12.4 12.4m0 -12.4l-12.4 12.4M296.5 552.7l12.4 12.4m0 -12.4l-12.4 12.4M391.3 556.5l12.4 12.4m0 -12.4l-12.4 12.4M356.8 562.4l12.4 12.4m0 -12.4l-12.4 12.4M281.8 570.4l12.4 12.4m0 -12.4l-12.4 12.4M315.8 568.1l12.4 12.4m0 -12.4l-12.4 12.4M307.7 584.5l12.4 12.4m0 -12.4l-12.4 12.4M356.1 583.8l12.4 12.4m0 -12.4l-12.4 12.4M390.8 578.8l12.4 12.4m0 -12.4l-12.4 12.4M424.3 581.5l12.4 12.4m0 -12.4l-12.4 12.4M281.1 600.4l12.4 12.4m0 -12.4l-12.4 12.4M322.0 607.9l12.4 12.4m0 -12.4l-12.4 12.4M357.9 600.4l12.4 12.4m0 -12.4l-12.4 12.4M391.8 595.8l12.4 12.4m0 -12.4l-12.4 12.4M467.4 605.6l12.4 12.4m0 -12.4l-12.4 12.4M421.5 612.9l12.4 12.4m0 -12.4l-12.4 12.4M270.2 617.0l12.4 12.4m0 -12.4l-12.4 12.4M378.8 619.3l12.4 12.4m0 -12.4l-12.4 12.4M92.5 632.7l12.4 12.4m0 -12.4l-12.4 12.4M144.7 632.1l12.4 12.4m0 -12.4l-12.4 12.4M175.5 640.3l12.4 12.4m0 -12.4l-12.4 12.4M209.9 635.3l12.4 12.4m0 -12.4l-12.4 12.4M249.5 631.0l12.4 12.4m0 -12.4l-12.4 12.4M63.1 646.6l12.4 12.4m0 -12.4l-12.4 12.4M92.5 657.5l12.4 12.4m0 -12.4l-12.4 12.4M145.1 661.0l12.4 12.4m0 -12.4l-12.4 12.4M195.8 659.7l12.4 12.4m0 -12.4l-12.4 12.4M233.8 652.1l12.4 12.4m0 -12.4l-12.4 12.4M117.9 682.1l12.4 12.4m0 -12.4l-12.4 12.4M180.5 678.1l12.4 12.4m0 -12.4l-12.4 12.4M225.1 672.9l12.4 12.4m0 -12.4l-12.4 12.4M205.3 689.7l12.4 12.4m0 -12.4l-12.4 12.4M148.4 701.6l12.4 12.4m0 -12.4l-12.4 12.4M246.2 699.5l12.4 12.4m0 -12.4l-12.4 12.4M99.5 719.0l12.4 12.4m0 -12.4l-12.4 12.4M222.7 717.3l12.4 12.4m0 -12.4l-12.4 12.4M309.0 629.3l12.4 12.4m0 -12.4l-12.4 12.4M339.7 636.1l12.4 12.4m0 -12.4l-12.4 12.4M415.8 639.0l12.4 12.4m0 -12.4l-12.4 12.4M457.2 640.2l12.4 12.4m0 -12.4l-12.4 12.4M284.9 642.0l12.4 12.4m0 -12.4l-12.4 12.4M394.7 655.6l12.4 12.4m0 -12.4l-12.4 12.4M436.8 655.6l12.4 12.4m0 -12.4l-12.4 12.4M264.0 663.3l12.4 12.4m0 -12.4l-12.4 12.4M309.5 660.6l12.4 12.4m0 -12.4l-12.4 12.4M345.4 657.9l12.4 12.4m0 -12.4l-12.4 12.4M423.1 671.3l12.4 12.4m0 -12.4l-12.4 12.4M309.0 677.0l12.4 12.4m0 -12.4l-12.4 12.4M342.4 675.4l12.4 12.4m0 -12.4l-12.4 12.4M376.5 683.3l12.4 12.4m0 -12.4l-12.4 12.4M266.8 684.5l12.4 12.4m0 -12.4l-12.4 12.4M282.9 703.1l12.4 12.4m0 -12.4l-12.4 12.4M351.1 707.2l12.4 12.4m0 -12.4l-12.4 12.4M263.6 719.0l12.4 12.4m0 -12.4l-12.4 12.4M326.5 717.4l12.4 12.4m0 -12.4l-12.4 12.4M373.6 722.7l12.4 12.4m0 -12.4l-12.4 12.4M324.7 738.3l12.4 12.4m0 -12.4l-12.4 12.4" fill="none" stroke="#ee0000" stroke-width="1.65"/>
<path d="M721.6 471.3a9 9 0 1 0 18 0a9 9 0 1 0 -18 0M688.7 474.1a9 9 0 1 0 18 0a9 9 0 1 0 -18 0M748.0 479.2a9 9 0 1 0 18 0a9 9 0 1 0 -18 0M662.0 483.9a9 9 0 1 0 18 0a9 9 0 1 0 -18 0M707.8 489.7a9 9 0 1 0 18 0a9 9 0 1 0 -18 0M729.2 492.1a9 9 0 1 0 18 0a9 9 0 1 0 -18 0M633.4 499.0a9 9 0 1 0 18 0a9 9 0 1 0 -18 0M685.4 498.4a9 9 0 1 0 18 0a9 9 0 1 0 -18 0M667.0 505.6a9 9 0 1 0 18 0a9 9 0 1 0 -18 0M611.2 518.6a9 9 0 1 0 18 0a9 9 0 1 0 -18 0M646.4 515.3a9 9 0 1 0 18 0a9 9 0 1 0 -18 0M707.1 507.7a9 9 0 1 0 18 0a9 9 0 1 0 -18 0M588.9 537.0a9 9 0 1 0 18 0a9 9 0 1 0 -18 0M633.8 530.5a9 9 0 1 0 18 0a9 9 0 1 0 -18 0M614.5 542.4a9 9 0 1 0 18 0a9 9 0 1 0 -18 0M656.1 539.2a9 9 0 1 0 18 0a9 9 0 1 0 -18 0M574.8 560.2a9 9 0 1 0 18 0a9 9 0 1 0 -18 0M600.8 559.8a9 9 0 1 0 18 0a9 9 0 1 0 -18 0M590.4 578.2a9 9 0 1 0 18 0a9 9 0 1 0 -18 0M563.9 588.0a9 9 0 1 0 18 0a9 9 0 1 0 -18 0M586.1 598.8a9 9 0 1 0 18 0a9 9 0 1 0 -18 0M558.1 613.0a9 9 0 1 0 18 0a9 9 0 1 0 -18 0M582.2 622.5a9 9 0 1 0 18 0a9 9 0 1 0 -18 0M612.8 585.8a9 9 0 1 0 18 0a9 9 0 1 0 -18 0M641.0 549.0a9 9 0 1 0 18 0a9 9 0 1 0 -18 0M772.6 470.2a9 9 0 1 0 18 0a9 9 0 1 0 -18 0M807.2 471.8a9 9 0 1 0 18 0a9 9 0 1 0 -18 0M790.1 488.0a9 9 0 1 0 18 0a9 9 0 1 0 -18 0M834.9 485.0a9 9 0 1 0 18 0a9 9 0 1 0 -18 0M767.4 493.6a9 9 0 1 0 18 0a9 9 0 1 0 -18 0M812.2 496.4a9 9 0 1 0 18 0a9 9 0 1 0 -18 0M859.5 500.9a9 9 0 1 0 18 0a9 9 0 1 0 -18 0M833.3 508.4a9 9 0 1 0 18 0a9 9 0 1 0 -18 0M882.2 515.7a9 9 0 1 0 18 0a9 9 0 1 0 -18 0M851.0 521.8a9 9 0 1 0 18 0a9 9 0 1 0 -18 0M868.5 533.2a9 9 0 1 0 18 0a9 9 0 1 0 -18 0M893.5 538.4a9 9 0 1 0 18 0a9 9 0 1 0 -18 0M833.3 535.0a9 9 0 1 0 18 0a9 9 0 1 0 -18 0M874.2 553.2a9 9 0 1 0 18 0a9 9 0 1 0 -18 0M915.6 552.7a9 9 0 1 0 18 0a9 9 0 1 0 -18 0M893.5 564.5a9 9 0 1 0 18 0a9 9 0 1 0 -18 0M915.6 575.9a9 9 0 1 0 18 0a9 9 0 1 0 -18 0M933.3 591.8a9 9 0 1 0 18 0a9 9 0 1 0 -18 0M901.5 595.9a9 9 0 1 0 18 0a9 9 0 1 0 -18 0M914.0 608.9a9 9 0 1 0 18 0a9 9 0 1 0 -18 0M936.7 618.8a9 9 0 1 0 18 0a9 9 0 1 0 -18 0M910.6 624.5a9 9 0 1 0 18 0a9 9 0 1 0 -18 0M851.5 548.2a9 9 0 1 0 18 0a9 9 0 1 0 -18 0M751.5 503.2a9 9 0 1 0 18 0a9 9 0 1 0 -18 0M777.6 508.9a9 9 0 1 0 18 0a9 9 0 1 0 -18 0M811.7 516.8a9 9 0 1 0 18 0a9 9 0 1 0 -18 0M562.5 637.8a9 9 0 1 0 18 0a9 9 0 1 0 -18 0M579.2 652.6a9 9 0 1 0 18 0a9 9 0 1 0 -18 0M602.7 634.6a9 9 0 1 0 18 0a9 9 0 1 0 -18 0M602.0 652.0a9 9 0 1 0 18 0a9 9 0 1 0 -18 0M564.7 665.0a9 9 0 1 0 18 0a9 9 0 1 0 -18 0M592.3 672.6a9 9 0 1 0 18 0a9 9 0 1 0 -18 0M577.7 690.0a9 9 0 1 0 18 0a9 9 0 1 0 -18 0M605.3 692.2a9 9 0 1 0 18 0a9 9 0 1 0 -18 0M594.4 713.3a9 9 0 1 0 18 0a9 9 0 1 0 -18 0M623.3 708.0a9 9 0 1 0 18 0a9 9 0 1 0 -18 0M614.0 733.5a9 9 0 1 0 18 0a9 9 0 1 0 -18 0M628.1 728.0a9 9 0 1 0 18 0a9 9 0 1 0 -18 0M633.6 693.3a9 9 0 1 0 18 0a9 9 0 1 0 -18 0M636.4 753.0a9 9 0 1 0 18 0a9 9 0 1 0 -18 0M651.0 735.7a9 9 0 1 0 18 0a9 9 0 1 0 -18 0M658.1 771.1a9 9 0 1 0 18 0a9 9 0 1 0 -18 0M669.0 752.0a9 9 0 1 0 18 0a9 9 0 1 0 -18 0M688.6 775.4a9 9 0 1 0 18 0a9 9 0 1 0 -18 0M691.8 752.4a9 9 0 1 0 18 0a9 9 0 1 0 -18 0M710.3 761.1a9 9 0 1 0 18 0a9 9 0 1 0 -18 0M716.8 782.8a9 9 0 1 0 18 0a9 9 0 1 0 -18 0M734.2 764.6a9 9 0 1 0 18 0a9 9 0 1 0 -18 0M743.4 786.7a9 9 0 1 0 18 0a9 9 0 1 0 -18 0M653.1 713.9a9 9 0 1 0 18 0a9 9 0 1 0 -18 0M672.3 734.1a9 9 0 1 0 18 0a9 9 0 1 0 -18 0M937.2 641.1a9 9 0 1 0 18 0a9 9 0 1 0 -18 0M912.4 650.2a9 9 0 1 0 18 0a9 9 0 1 0 -18 0M931.7 667.3a9 9 0 1 0 18 0a9 9 0 1 0 -18 0M900.8 669.1a9 9 0 1 0 18 0a9 9 0 1 0 -18 0M920.1 690.0a9 9 0 1 0 18 0a9 9 0 1 0 -18 0M894.7 688.9a9 9 0 1 0 18 0a9 9 0 1 0 -18 0M905.6 714.3a9 9 0 1 0 18 0a9 9 0 1 0 -18 0M881.7 706.4a9 9 0 1 0 18 0a9 9 0 1 0 -18 0M879.5 728.6a9 9 0 1 0 18 0a9 9 0 1 0 -18 0M859.0 729.8a9 9 0 1 0 18 0a9 9 0 1 0 -18 0M870.4 751.4a9 9 0 1 0 18 0a9 9 0 1 0 -18 0M843.5 749.8a9 9 0 1 0 18 0a9 9 0 1 0 -18 0M827.6 765.0a9 9 0 1 0 18 0a9 9 0 1 0 -18 0M803.3 778.6a9 9 0 1 0 18 0a9 9 0 1 0 -18 0M802.6 755.9a9 9 0 1 0 18 0a9 9 0 1 0 -18 0M780.6 760.0a9 9 0 1 0 18 0a9 9 0 1 0 -18 0M758.3 767.7a9 9 0 1 0 18 0a9 9 0 1 0 -18 0M774.2 784.3a9 9 0 1 0 18 0a9 9 0 1 0 -18 0M760.6 744.5a9 9 0 1 0 18 0a9 9 0 1 0 -18 0M833.3 730.9a9 9 0 1 0 18 0a9 9 0 1 0 -18 0M885.6 645.7a9 9 0 1 0 18 0a9 9 0 1 0 -18 0M889.0 618.4a9 9 0 1 0 18 0a9 9 0 1 0 -18 0M711.1 681.8a9 9 0 1 0 18 0a9 9 0 1 0 -18 0M761.7 587.3a9 9 0 1 0 18 0a9 9 0 1 0 -18 0M613.0 606.7a9 9 0 1 0 18 0a9 9 0 1 0 -18 0M812.2 707.8a9 9 0 1 0 18 0a9 9 0 1 0 -18 0M769.8 518.4a9 9 0 1 0 18 0a9 9 0 1 0 -18 0M778.2 670.9a9 9 0 1 0 18 0a9 9 0 1 0 -18 0M723.9 694.9a9 9 0 1 0 18 0a9 9 0 1 0 -18 0M790.1 611.0a9 9 0 1 0 18 0a9 9 0 1 0 -18 0M724.6 565.1a9 9 0 1 0 18 0a9 9 0 1 0 -18 0M721.1 598.2a9 9 0 1 0 18 0a9 9 0 1 0 -18 0M745.1 675.7a9 9 0 1 0 18 0a9 9 0 1 0 -18 0M622.9 580.0a9 9 0 1 0 18 0a9 9 0 1 0 -18 0M796.9 559.5a9 9 0 1 0 18 0a9 9 0 1 0 -18 0M870.1 668.6a9 9 0 1 0 18 0a9 9 0 1 0 -18 0M786.5 591.9a9 9 0 1 0 18 0a9 9 0 1 0 -18 0M759.8 597.7a9 9 0 1 0 18 0a9 9 0 1 0 -18 0M837.0 571.0a9 9 0 1 0 18 0a9 9 0 1 0 -18 0M723.6 554.2a9 9 0 1 0 18 0a9 9 0 1 0 -18 0M717.3 676.1a9 9 0 1 0 18 0a9 9 0 1 0 -18 0M698.1 550.8a9 9 0 1 0 18 0a9 9 0 1 0 -18 0M709.9 526.2a9 9 0 1 0 18 0a9 9 0 1 0 -18 0M709.0 625.1a9 9 0 1 0 18 0a9 9 0 1 0 -18 0M841.1 612.7a9 9 0 1 0 18 0a9 9 0 1 0 -18 0M792.5 584.3a9 9 0 1 0 18 0a9 9 0 1 0 -18 0M739.8 684.3a9 9 0 1 0 18 0a9 9 0 1 0 -18 0M665.7 563.7a9 9 0 1 0 18 0a9 9 0 1 0 -18 0M802.9 615.5a9 9 0 1 0 18 0a9 9 0 1 0 -18 0M793.7 676.4a9 9 0 1 0 18 0a9 9 0 1 0 -18 0M728.4 726.7a9 9 0 1 0 18 0a9 9 0 1 0 -18 0M706.3 555.7a9 9 0 1 0 18 0a9 9 0 1 0 -18 0M730.7 604.1a9 9 0 1 0 18 0a9 9 0 1 0 -18 0M736.8 560.4a9 9 0 1 0 18 0a9 9 0 1 0 -18 0M755.2 723.6a9 9 0 1 0 18 0a9 9 0 1 0 -18 0M765.0 620.6a9 9 0 1 0 18 0a9 9 0 1 0 -18 0M761.6 615.1a9 9 0 1 0 18 0a9 9 0 1 0 -18 0M733.1 669.6a9 9 0 1 0 18 0a9 9 0 1 0 -18 0M715.7 583.9a9 9 0 1 0 18 0a9 9 0 1 0 -18 0M674.3 628.5a9 9 0 1 0 18 0a9 9 0 1 0 -18 0M765.8 633.3a9 9 0 1 0 18 0a9 9 0 1 0 -18 0M751.6 571.1a9 9 0 1 0 18 0a9 9 0 1 0 -18 0M762.8 675.6a9 9 0 1 0 18 0a9 9 0 1 0 -18 0M648.0 581.2a9 9 0 1 0 18 0a9 9 0 1 0 -18 0M727.9 558.3a9 9 0 1 0 18 0a9 9 0 1 0 -18 0M732.7 508.4a9 9 0 1 0 18 0a9 9 0 1 0 -18 0M699.7 562.8a9 9 0 1 0 18 0a9 9 0 1 0 -18 0M816.3 613.0a9 9 0 1 0 18 0a9 9 0 1 0 -18 0M837.8 710.2a9 9 0 1 0 18 0a9 9 0 1 0 -18 0M768.5 598.5a9 9 0 1 0 18 0a9 9 0 1 0 -18 0M819.7 659.2a9 9 0 1 0 18 0a9 9 0 1 0 -18 0M743.3 582.8a9 9 0 1 0 18 0a9 9 0 1 0 -18 0M813.5 617.6a9 9 0 1 0 18 0a9 9 0 1 0 -18 0M724.5 639.6a9 9 0 1 0 18 0a9 9 0 1 0 -18 0M678.7 637.6a9 9 0 1 0 18 0a9 9 0 1 0 -18 0M644.9 633.8a9 9 0 1 0 18 0a9 9 0 1 0 -18 0M828.1 611.5a9 9 0 1 0 18 0a9 9 0 1 0 -18 0M658.8 634.6a9 9 0 1 0 18 0a9 9 0 1 0 -18 0M757.5 626.5a9 9 0 1 0 18 0a9 9 0 1 0 -18 0M720.8 645.8a9 9 0 1 0 18 0a9 9 0 1 0 -18 0M734.6 658.5a9 9 0 1 0 18 0a9 9 0 1 0 -18 0M727.7 574.4a9 9 0 1 0 18 0a9 9 0 1 0 -18 0M724.0 591.2a9 9 0 1 0 18 0a9 9 0 1 0 -18 0M752.4 599.5a9 9 0 1 0 18 0a9 9 0 1 0 -18 0M783.7 590.4a9 9 0 1 0 18 0a9 9 0 1 0 -18 0M767.4 625.2a9 9 0 1 0 18 0a9 9 0 1 0 -18 0M734.1 628.2a9 9 0 1 0 18 0a9 9 0 1 0 -18 0M878.0 673.7a9 9 0 1 0 18 0a9 9 0 1 0 -18 0M813.0 584.7a9 9 0 1 0 18 0a9 9 0 1 0 -18 0M668.3 570.0a9 9 0 1 0 18 0a9 9 0 1 0 -18 0M679.5 584.0a9 9 0 1 0 18 0a9 9 0 1 0 -18 0M778.9 707.0a9 9 0 1 0 18 0a9 9 0 1 0 -18 0M808.9 627.9a9 9 0 1 0 18 0a9 9 0 1 0 -18 0M674.1 604.3a9 9 0 1 0 18 0a9 9 0 1 0 -18 0M653.4 639.4a9 9 0 1 0 18 0a9 9 0 1 0 -18 0M775.7 617.6a9 9 0 1 0 18 0a9 9 0 1 0 -18 0M806.7 728.1a9 9 0 1 0 18 0a9 9 0 1 0 -18 0M620.9 629.9a9 9 0 1 0 18 0a9 9 0 1 0 -18 0M736.0 630.9a9 9 0 1 0 18 0a9 9 0 1 0 -18 0M744.9 637.8a9 9 0 1 0 18 0a9 9 0 1 0 -18 0M722.2 598.9a9 9 0 1 0 18 0a9 9 0 1 0 -18 0M677.9 572.3a9 9 0 1 0 18 0a9 9 0 1 0 -18 0M790.9 569.5a9 9 0 1 0 18 0a9 9 0 1 0 -18 0M611.7 602.8a9 9 0 1 0 18 0a9 9 0 1 0 -18 0M622.9 686.5a9 9 0 1 0 18 0a9 9 0 1 0 -18 0M819.3 632.1a9 9 0 1 0 18 0a9 9 0 1 0 -18 0M826.6 699.4a9 9 0 1 0 18 0a9 9 0 1 0 -18 0M781.7 563.0a9 9 0 1 0 18 0a9 9 0 1 0 -18 0M739.2 605.3a9 9 0 1 0 18 0a9 9 0 1 0 -18 0M754.3 617.0a9 9 0 1 0 18 0a9 9 0 1 0 -18 0M804.6 649.1a9 9 0 1 0 18 0a9 9 0 1 0 -18 0M681.6 603.1a9 9 0 1 0 18 0a9 9 0 1 0 -18 0M784.2 695.9a9 9 0 1 0 18 0a9 9 0 1 0 -18 0M728.2 663.3a9 9 0 1 0 18 0a9 9 0 1 0 -18 0M803.8 565.3a9 9 0 1 0 18 0a9 9 0 1 0 -18 0M751.9 622.8a9 9 0 1 0 18 0a9 9 0 1 0 -18 0M694.3 631.5a9 9 0 1 0 18 0a9 9 0 1 0 -18 0M741.9 677.2a9 9 0 1 0 18 0a9 9 0 1 0 -18 0M746.6 694.7a9 9 0 1 0 18 0a9 9 0 1 0 -18 0M784.9 667.6a9 9 0 1 0 18 0a9 9 0 1 0 -18 0M754.0 600.1a9 9 0 1 0 18 0a9 9 0 1 0 -18 0M770.7 533.9a9 9 0 1 0 18 0a9 9 0 1 0 -18 0M721.6 649.0a9 9 0 1 0 18 0a9 9 0 1 0 -18 0M663.0 707.3a9 9 0 1 0 18 0a9 9 0 1 0 -18 0M778.7 657.6a9 9 0 1 0 18 0a9 9 0 1 0 -18 0M696.5 630.1a9 9 0 1 0 18 0a9 9 0 1 0 -18 0M770.0 645.4a9 9 0 1 0 18 0a9 9 0 1 0 -18 0M737.3 589.4a9 9 0 1 0 18 0a9 9 0 1 0 -18 0M795.0 625.9a9 9 0 1 0 18 0a9 9 0 1 0 -18 0M818.3 682.8a9 9 0 1 0 18 0a9 9 0 1 0 -18 0M760.9 611.1a9 9 0 1 0 18 0a9 9 0 1 0 -18 0M739.7 613.7a9 9 0 1 0 18 0a9 9 0 1 0 -18 0M740.6 613.8a9 9 0 1 0 18 0a9 9 0 1 0 -18 0M735.0 686.2a9 9 0 1 0 18 0a9 9 0 1 0 -18 0M695.3 653.0a9 9 0 1 0 18 0a9 9 0 1 0 -18 0M703.8 580.6a9 9 0 1 0 18 0a9 9 0 1 0 -18 0M793.7 604.6a9 9 0 1 0 18 0a9 9 0 1 0 -18 0M780.6 730.1a9 9 0 1 0 18 0a9 9 0 1 0 -18 0M697.7 629.1a9 9 0 1 0 18 0a9 9 0 1 0 -18 0M704.5 552.3a9 9 0 1 0 18 0a9 9 0 1 0 -18 0M764.0 655.2a9 9 0 1 0 18 0a9 9 0 1 0 -18 0M767.5 653.9a9 9 0 1 0 18 0a9 9 0 1 0 -18 0M789.9 633.4a9 9 0 1 0 18 0a9 9 0 1 0 -18 0M791.7 632.3a9 9 0 1 0 18 0a9 9 0 1 0 -18 0M717.3 611.2a9 9 0 1 0 18 0a9 9 0 1 0 -18 0M760.0 535.1a9 9 0 1 0 18 0a9 9 0 1 0 -18 0M802.7 550.8a9 9 0 1 0 18 0a9 9 0 1 0 -18 0M860.3 607.0a9 9 0 1 0 18 0a9 9 0 1 0 -18 0M715.0 649.1a9 9 0 1 0 18 0a9 9 0 1 0 -18 0M774.0 553.4a9 9 0 1 0 18 0a9 9 0 1 0 -18 0M814.9 619.0a9 9 0 1 0 18 0a9 9 0 1 0 -18 0M737.9 681.1a9 9 0 1 0 18 0a9 9 0 1 0 -18 0M683.9 564.6a9 9 0 1 0 18 0a9 9 0 1 0 -18 0M799.3 730.0a9 9 0 1 0 18 0a9 9 0 1 0 -18 0M685.5 596.1a9 9 0 1 0 18 0a9 9 0 1 0 -18 0M755.8 692.6a9 9 0 1 0 18 0a9 9 0 1 0 -18 0M746.3 537.2a9 9 0 1 0 18 0a9 9 0 1 0 -18 0M636.4 601.7a9 9 0 1 0 18 0a9 9 0 1 0 -18 0M798.2 737.5a9 9 0 1 0 18 0a9 9 0 1 0 -18 0M657.7 642.8a9 9 0 1 0 18 0a9 9 0 1 0 -18 0M796.4 554.1a9 9 0 1 0 18 0a9 9 0 1 0 -18 0M775.4 631.0a9 9 0 1 0 18 0a9 9 0 1 0 -18 0M699.5 573.9a9 9 0 1 0 18 0a9 9 0 1 0 -18 0M710.2 591.5a9 9 0 1 0 18 0a9 9 0 1 0 -18 0M776.2 531.8a9 9 0 1 0 18 0a9 9 0 1 0 -18 0M767.6 699.1a9 9 0 1 0 18 0a9 9 0 1 0 -18 0M811.2 563.5a9 9 0 1 0 18 0a9 9 0 1 0 -18 0M778.2 722.7a9 9 0 1 0 18 0a9 9 0 1 0 -18 0M606.5 644.5a9 9 0 1 0 18 0a9 9 0 1 0 -18 0M724.9 557.1a9 9 0 1 0 18 0a9 9 0 1 0 -18 0M869.8 574.4a9 9 0 1 0 18 0a9 9 0 1 0 -18 0M688.5 680.9a9 9 0 1 0 18 0a9 9 0 1 0 -18 0M774.4 719.4a9 9 0 1 0 18 0a9 9 0 1 0 -18 0M862.2 571.2a9 9 0 1 0 18 0a9 9 0 1 0 -18 0M742.4 573.3a9 9 0 1 0 18 0a9 9 0 1 0 -18 0M854.2 659.2a9 9 0 1 0 18 0a9 9 0 1 0 -18 0M736.6 653.6a9 9 0 1 0 18 0a9 9 0 1 0 -18 0M822.4 669.2a9 9 0 1 0 18 0a9 9 0 1 0 -18 0M623.5 655.2a9 9 0 1 0 18 0a9 9 0 1 0 -18 0M709.6 549.9a9 9 0 1 0 18 0a9 9 0 1 0 -18 0M661.0 566.4a9 9 0 1 0 18 0a9 9 0 1 0 -18 0M867.8 655.9a9 9 0 1 0 18 0a9 9 0 1 0 -18 0M682.2 629.9a9 9 0 1 0 18 0a9 9 0 1 0 -18 0M841.5 596.5a9 9 0 1 0 18 0a9 9 0 1 0 -18 0M749.8 611.2a9 9 0 1 0 18 0a9 9 0 1 0 -18 0M747.1 618.3a9 9 0 1 0 18 0a9 9 0 1 0 -18 0M825.3 566.0a9 9 0 1 0 18 0a9 9 0 1 0 -18 0M787.4 643.2a9 9 0 1 0 18 0a9 9 0 1 0 -18 0M774.7 720.1a9 9 0 1 0 18 0a9 9 0 1 0 -18 0M785.7 560.1a9 9 0 1 0 18 0a9 9 0 1 0 -18 0M770.9 623.6a9 9 0 1 0 18 0a9 9 0 1 0 -18 0M886.3 627.8a9 9 0 1 0 18 0a9 9 0 1 0 -18 0M795.7 648.5a9 9 0 1 0 18 0a9 9 0 1 0 -18 0M707.6 621.0a9 9 0 1 0 18 0a9 9 0 1 0 -18 0M807.0 725.2a9 9 0 1 0 18 0a9 9 0 1 0 -18 0M758.5 579.7a9 9 0 1 0 18 0a9 9 0 1 0 -18 0M725.2 646.0a9 9 0 1 0 18 0a9 9 0 1 0 -18 0M747.3 535.6a9 9 0 1 0 18 0a9 9 0 1 0 -18 0M826.7 551.4a9 9 0 1 0 18 0a9 9 0 1 0 -18 0M710.4 591.3a9 9 0 1 0 18 0a9 9 0 1 0 -18 0M860.7 560.0a9 9 0 1 0 18 0a9 9 0 1 0 -18 0M736.8 610.1a9 9 0 1 0 18 0a9 9 0 1 0 -18 0M807.8 641.9a9 9 0 1 0 18 0a9 9 0 1 0 -18 0M733.8 554.0a9 9 0 1 0 18 0a9 9 0 1 0 -18 0M693.4 531.2a9 9 0 1 0 18 0a9 9 0 1 0 -18 0M803.5 704.5a9 9 0 1 0 18 0a9 9 0 1 0 -18 0M724.6 615.0a9 9 0 1 0 18 0a9 9 0 1 0 -18 0M728.8 664.6a9 9 0 1 0 18 0a9 9 0 1 0 -18 0M829.0 652.1a9 9 0 1 0 18 0a9 9 0 1 0 -18 0M737.1 633.5a9 9 0 1 0 18 0a9 9 0 1 0 -18 0M769.3 620.5a9 9 0 1 0 18 0a9 9 0 1 0 -18 0M768.1 556.7a9 9 0 1 0 18 0a9 9 0 1 0 -18 0M778.8 576.9a9 9 0 1 0 18 0a9 9 0 1 0 -18 0M841.3 635.2a9 9 0 1 0 18 0a9 9 0 1 0 -18 0M732.3 606.7a9 9 0 1 0 18 0a9 9 0 1 0 -18 0M727.2 622.2a9 9 0 1 0 18 0a9 9 0 1 0 -18 0M744.4 678.8a9 9 0 1 0 18 0a9 9 0 1 0 -18 0M800.3 611.1a9 9 0 1 0 18 0a9 9 0 1 0 -18 0M794.2 714.5a9 9 0 1 0 18 0a9 9 0 1 0 -18 0M691.2 517.3a9 9 0 1 0 18 0a9 9 0 1 0 -18 0M737.0 641.6a9 9 0 1 0 18 0a9 9 0 1 0 -18 0M701.0 731.9a9 9 0 1 0 18 0a9 9 0 1 0 -18 0M680.2 644.0a9 9 0 1 0 18 0a9 9 0 1 0 -18 0M792.6 575.2a9 9 0 1 0 18 0a9 9 0 1 0 -18 0M834.6 693.3a9 9 0 1 0 18 0a9 9 0 1 0 -18 0M807.8 678.2a9 9 0 1 0 18 0a9 9 0 1 0 -18 0M805.0 691.2a9 9 0 1 0 18 0a9 9 0 1 0 -18 0M663.9 546.9a9 9 0 1 0 18 0a9 9 0 1 0 -18 0M729.7 552.3a9 9 0 1 0 18 0a9 9 0 1 0 -18 0M771.7 706.9a9 9 0 1 0 18 0a9 9 0 1 0 -18 0M849.6 703.1a9 9 0 1 0 18 0a9 9 0 1 0 -18 0M740.2 587.9a9 9 0 1 0 18 0a9 9 0 1 0 -18 0M879.7 607.7a9 9 0 1 0 18 0a9 9 0 1 0 -18 0M736.5 642.3a9 9 0 1 0 18 0a9 9 0 1 0 -18 0M655.7 576.2a9 9 0 1 0 18 0a9 9 0 1 0 -18 0M809.9 613.4a9 9 0 1 0 18 0a9 9 0 1 0 -18 0M799.2 694.4a9 9 0 1 0 18 0a9 9 0 1 0 -18 0M745.3 720.3a9 9 0 1 0 18 0a9 9 0 1 0 -18 0M746.9 637.5a9 9 0 1 0 18 0a9 9 0 1 0 -18 0M745.5 632.6a9 9 0 1 0 18 0a9 9 0 1 0 -18 0M785.3 658.0a9 9 0 1 0 18 0a9 9 0 1 0 -18 0M744.9 718.2a9 9 0 1 0 18 0a9 9 0 1 0 -18 0M777.4 602.8a9 9 0 1 0 18 0a9 9 0 1 0 -18 0M865.2 610.8a9 9 0 1 0 18 0a9 9 0 1 0 -18 0M603.9 609.5a9 9 0 1 0 18 0a9 9 0 1 0 -18 0M708.7 628.2a9 9 0 1 0 18 0a9 9 0 1 0 -18 0M798.3 712.5a9 9 0 1 0 18 0a9 9 0 1 0 -18 0M740.1 542.8a9 9 0 1 0 18 0a9 9 0 1 0 -18 0M717.8 682.2a9 9 0 1 0 18 0a9 9 0 1 0 -18 0M730.3 593.4a9 9 0 1 0 18 0a9 9 0 1 0 -18 0M836.6 655.0a9 9 0 1 0 18 0a9 9 0 1 0 -18 0M673.2 610.3a9 9 0 1 0 18 0a9 9 0 1 0 -18 0M695.4 678.7a9 9 0 1 0 18 0a9 9 0 1 0 -18 0M720.7 525.0a9 9 0 1 0 18 0a9 9 0 1 0 -18 0M754.7 630.6a9 9 0 1 0 18 0a9 9 0 1 0 -18 0M665.0 576.5a9 9 0 1 0 18 0a9 9 0 1 0 -18 0M790.5 683.9a9 9 0 1 0 18 0a9 9 0 1 0 -18 0M805.4 640.9a9 9 0 1 0 18 0a9 9 0 1 0 -18 0M736.1 702.7a9 9 0 1 0 18 0a9 9 0 1 0 -18 0M754.7 601.2a9 9 0 1 0 18 0a9 9 0 1 0 -18 0M771.1 610.5a9 9 0 1 0 18 0a9 9 0 1 0 -18 0M745.2 605.9a9 9 0 1 0 18 0a9 9 0 1 0 -18 0M672.8 532.9a9 9 0 1 0 18 0a9 9 0 1 0 -18 0M695.8 619.6a9 9 0 1 0 18 0a9 9 0 1 0 -18 0M831.7 537.1a9 9 0 1 0 18 0a9 9 0 1 0 -18 0M660.0 649.9a9 9 0 1 0 18 0a9 9 0 1 0 -18 0M844.4 677.7a9 9 0 1 0 18 0a9 9 0 1 0 -18 0M775.4 568.7a9 9 0 1 0 18 0a9 9 0 1 0 -18 0M745.8 665.4a9 9 0 1 0 18 0a9 9 0 1 0 -18 0M819.0 670.2a9 9 0 1 0 18 0a9 9 0 1 0 -18 0M801.2 526.3a9 9 0 1 0 18 0a9 9 0 1 0 -18 0M705.0 623.6a9 9 0 1 0 18 0a9 9 0 1 0 -18 0M742.8 597.5a9 9 0 1 0 18 0a9 9 0 1 0 -18 0M713.9 600.2a9 9 0 1 0 18 0a9 9 0 1 0 -18 0M763.5 654.0a9 9 0 1 0 18 0a9 9 0 1 0 -18 0M638.7 690.3a9 9 0 1 0 18 0a9 9 0 1 0 -18 0M742.0 537.9a9 9 0 1 0 18 0a9 9 0 1 0 -18 0M801.6 664.9a9 9 0 1 0 18 0a9 9 0 1 0 -18 0M739.5 706.9a9 9 0 1 0 18 0a9 9 0 1 0 -18 0M670.5 665.3a9 9 0 1 0 18 0a9 9 0 1 0 -18 0M752.3 670.9a9 9 0 1 0 18 0a9 9 0 1 0 -18 0M811.0 573.6a9 9 0 1 0 18 0a9 9 0 1 0 -18 0M773.7 538.0a9 9 0 1 0 18 0a9 9 0 1 0 -18 0M746.9 510.9a9 9 0 1 0 18 0a9 9 0 1 0 -18 0M669.4 585.4a9 9 0 1 0 18 0a9 9 0 1 0 -18 0M783.2 698.6a9 9 0 1 0 18 0a9 9 0 1 0 -18 0M694.4 535.1a9 9 0 1 0 18 0a9 9 0 1 0 -18 0M754.9 600.6a9 9 0 1 0 18 0a9 9 0 1 0 -18 0M812.4 655.5a9 9 0 1 0 18 0a9 9 0 1 0 -18 0M864.1 651.2a9 9 0 1 0 18 0a9 9 0 1 0 -18 0M729.7 610.7a9 9 0 1 0 18 0a9 9 0 1 0 -18 0M748.2 568.6a9 9 0 1 0 18 0a9 9 0 1 0 -18 0M745.4 552.5a9 9 0 1 0 18 0a9 9 0 1 0 -18 0M622.0 652.6a9 9 0 1 0 18 0a9 9 0 1 0 -18 0M841.8 591.5a9 9 0 1 0 18 0a9 9 0 1 0 -18 0M749.0 586.3a9 9 0 1 0 18 0a9 9 0 1 0 -18 0M697.6 595.5a9 9 0 1 0 18 0a9 9 0 1 0 -18 0M808.0 522.1a9 9 0 1 0 18 0a9 9 0 1 0 -18 0M691.1 604.0a9 9 0 1 0 18 0a9 9 0 1 0 -18 0M891.5 614.2a9 9 0 1 0 18 0a9 9 0 1 0 -18 0M857.7 626.5a9 9 0 1 0 18 0a9 9 0 1 0 -18 0M779.3 644.4a9 9 0 1 0 18 0a9 9 0 1 0 -18 0M747.2 698.6a9 9 0 1 0 18 0a9 9 0 1 0 -18 0M713.0 539.8a9 9 0 1 0 18 0a9 9 0 1 0 -18 0M796.2 617.4a9 9 0 1 0 18 0a9 9 0 1 0 -18 0M757.3 675.3a9 9 0 1 0 18 0a9 9 0 1 0 -18 0M796.2 594.2a9 9 0 1 0 18 0a9 9 0 1 0 -18 0M632.6 670.2a9 9 0 1 0 18 0a9 9 0 1 0 -18 0M794.3 631.5a9 9 0 1 0 18 0a9 9 0 1 0 -18 0M743.6 613.0a9 9 0 1 0 18 0a9 9 0 1 0 -18 0M739.5 504.5a9 9 0 1 0 18 0a9 9 0 1 0 -18 0M802.9 599.6a9 9 0 1 0 18 0a9 9 0 1 0 -18 0M828.6 545.9a9 9 0 1 0 18 0a9 9 0 1 0 -18 0M703.1 658.0a9 9 0 1 0 18 0a9 9 0 1 0 -18 0M663.3 577.1a9 9 0 1 0 18 0a9 9 0 1 0 -18 0M767.9 742.2a9 9 0 1 0 18 0a9 9 0 1 0 -18 0M736.2 617.7a9 9 0 1 0 18 0a9 9 0 1 0 -18 0M765.3 583.6a9 9 0 1 0 18 0a9 9 0 1 0 -18 0M744.8 609.1a9 9 0 1 0 18 0a9 9 0 1 0 -18 0M737.4 614.0a9 9 0 1 0 18 0a9 9 0 1 0 -18 0M745.5 599.0a9 9 0 1 0 18 0a9 9 0 1 0 -18 0M791.1 703.1a9 9 0 1 0 18 0a9 9 0 1 0 -18 0M734.6 668.6a9 9 0 1 0 18 0a9 9 0 1 0 -18 0M775.4 743.0a9 9 0 1 0 18 0a9 9 0 1 0 -18 0M730.9 681.7a9 9 0 1 0 18 0a9 9 0 1 0 -18 0M823.8 606.3a9 9 0 1 0 18 0a9 9 0 1 0 -18 0M613.1 620.2a9 9 0 1 0 18 0a9 9 0 1 0 -18 0M817.6 570.4a9 9 0 1 0 18 0a9 9 0 1 0 -18 0M751.1 672.6a9 9 0 1 0 18 0a9 9 0 1 0 -18 0M787.9 654.9a9 9 0 1 0 18 0a9 9 0 1 0 -18 0M718.1 693.8a9 9 0 1 0 18 0a9 9 0 1 0 -18 0M675.4 607.2a9 9 0 1 0 18 0a9 9 0 1 0 -18 0M812.9 662.9a9 9 0 1 0 18 0a9 9 0 1 0 -18 0M741.4 664.6a9 9 0 1 0 18 0a9 9 0 1 0 -18 0M697.3 683.9a9 9 0 1 0 18 0a9 9 0 1 0 -18 0M678.0 548.3a9 9 0 1 0 18 0a9 9 0 1 0 -18 0M890.1 591.4a9 9 0 1 0 18 0a9 9 0 1 0 -18 0M824.4 709.3a9 9 0 1 0 18 0a9 9 0 1 0 -18 0M706.2 612.1a9 9 0 1 0 18 0a9 9 0 1 0 -18 0M688.7 620.9a9 9 0 1 0 18 0a9 9 0 1 0 -18 0M686.9 663.4a9 9 0 1 0 18 0a9 9 0 1 0 -18 0M767.9 616.3a9 9 0 1 0 18 0a9 9 0 1 0 -18 0M709.6 603.5a9 9 0 1 0 18 0a9 9 0 1 0 -18 0M680.7 622.1a9 9 0 1 0 18 0a9 9 0 1 0 -18 0M705.6 643.8a9 9 0 1 0 18 0a9 9 0 1 0 -18 0M778.7 698.6a9 9 0 1 0 18 0a9 9 0 1 0 -18 0M818.8 544.1a9 9 0 1 0 18 0a9 9 0 1 0 -18 0M699.1 646.4a9 9 0 1 0 18 0a9 9 0 1 0 -18 0M787.7 627.2a9 9 0 1 0 18 0a9 9 0 1 0 -18 0M686.3 596.2a9 9 0 1 0 18 0a9 9 0 1 0 -18 0M647.5 674.4a9 9 0 1 0 18 0a9 9 0 1 0 -18 0M762.0 661.2a9 9 0 1 0 18 0a9 9 0 1 0 -18 0M714.1 708.5a9 9 0 1 0 18 0a9 9 0 1 0 -18 0M704.8 601.8a9 9 0 1 0 18 0a9 9 0 1 0 -18 0M728.1 704.1a9 9 0 1 0 18 0a9 9 0 1 0 -18 0M694.1 527.0a9 9 0 1 0 18 0a9 9 0 1 0 -18 0M733.8 716.4a9 9 0 1 0 18 0a9 9 0 1 0 -18 0M765.6 657.7a9 9 0 1 0 18 0a9 9 0 1 0 -18 0M774.6 631.0a9 9 0 1 0 18 0a9 9 0 1 0 -18 0M701.9 613.0a9 9 0 1 0 18 0a9 9 0 1 0 -18 0M750.1 675.6a9 9 0 1 0 18 0a9 9 0 1 0 -18 0M715.6 710.9a9 9 0 1 0 18 0a9 9 0 1 0 -18 0M644.9 643.6a9 9 0 1 0 18 0a9 9 0 1 0 -18 0M738.4 562.5a9 9 0 1 0 18 0a9 9 0 1 0 -18 0M817.3 610.8a9 9 0 1 0 18 0a9 9 0 1 0 -18 0M788.8 613.7a9 9 0 1 0 18 0a9 9 0 1 0 -18 0M839.0 591.4a9 9 0 1 0 18 0a9 9 0 1 0 -18 0M734.4 581.4a9 9 0 1 0 18 0a9 9 0 1 0 -18 0M764.5 699.1a9 9 0 1 0 18 0a9 9 0 1 0 -18 0M693.0 545.1a9 9 0 1 0 18 0a9 9 0 1 0 -18 0M739.7 693.3a9 9 0 1 0 18 0a9 9 0 1 0 -18 0M708.8 690.9a9 9 0 1 0 18 0a9 9 0 1 0 -18 0M722.9 611.2a9 9 0 1 0 18 0a9 9 0 1 0 -18 0M742.6 643.0a9 9 0 1 0 18 0a9 9 0 1 0 -18 0M893.0 625.8a9 9 0 1 0 18 0a9 9 0 1 0 -18 0M666.2 664.2a9 9 0 1 0 18 0a9 9 0 1 0 -18 0M746.6 526.5a9 9 0 1 0 18 0a9 9 0 1 0 -18 0M868.9 617.6a9 9 0 1 0 18 0a9 9 0 1 0 -18 0M654.1 689.8a9 9 0 1 0 18 0a9 9 0 1 0 -18 0M646.3 574.1a9 9 0 1 0 18 0a9 9 0 1 0 -18 0M663.7 545.1a9 9 0 1 0 18 0a9 9 0 1 0 -18 0M777.6 518.3a9 9 0 1 0 18 0a9 9 0 1 0 -18 0M733.2 619.3a9 9 0 1 0 18 0a9 9 0 1 0 -18 0M799.0 687.2a9 9 0 1 0 18 0a9 9 0 1 0 -18 0M745.1 551.4a9 9 0 1 0 18 0a9 9 0 1 0 -18 0M734.3 738.6a9 9 0 1 0 18 0a9 9 0 1 0 -18 0M772.8 577.4a9 9 0 1 0 18 0a9 9 0 1 0 -18 0M788.2 546.9a9 9 0 1 0 18 0a9 9 0 1 0 -18 0M746.7 568.1a9 9 0 1 0 18 0a9 9 0 1 0 -18 0M744.3 581.9a9 9 0 1 0 18 0a9 9 0 1 0 -18 0M726.2 637.7a9 9 0 1 0 18 0a9 9 0 1 0 -18 0M820.7 590.1a9 9 0 1 0 18 0a9 9 0 1 0 -18 0M858.9 661.6a9 9 0 1 0 18 0a9 9 0 1 0 -18 0M847.7 708.1a9 9 0 1 0 18 0a9 9 0 1 0 -18 0M748.3 542.6a9 9 0 1 0 18 0a9 9 0 1 0 -18 0M857.4 680.9a9 9 0 1 0 18 0a9 9 0 1 0 -18 0M808.6 592.2a9 9 0 1 0 18 0a9 9 0 1 0 -18 0M750.9 596.4a9 9 0 1 0 18 0a9 9 0 1 0 -18 0M687.4 668.7a9 9 0 1 0 18 0a9 9 0 1 0 -18 0M648.8 650.2a9 9 0 1 0 18 0a9 9 0 1 0 -18 0M711.7 563.6a9 9 0 1 0 18 0a9 9 0 1 0 -18 0M704.4 673.2a9 9 0 1 0 18 0a9 9 0 1 0 -18 0M682.3 543.5a9 9 0 1 0 18 0a9 9 0 1 0 -18 0M675.9 714.0a9 9 0 1 0 18 0a9 9 0 1 0 -18 0M705.7 691.3a9 9 0 1 0 18 0a9 9 0 1 0 -18 0M815.8 636.4a9 9 0 1 0 18 0a9 9 0 1 0 -18 0M716.2 515.4a9 9 0 1 0 18 0a9 9 0 1 0 -18 0M789.6 590.4a9 9 0 1 0 18 0a9 9 0 1 0 -18 0M714.1 613.9a9 9 0 1 0 18 0a9 9 0 1 0 -18 0M842.3 582.9a9 9 0 1 0 18 0a9 9 0 1 0 -18 0M717.8 564.0a9 9 0 1 0 18 0a9 9 0 1 0 -18 0M778.0 607.8a9 9 0 1 0 18 0a9 9 0 1 0 -18 0M697.1 642.2a9 9 0 1 0 18 0a9 9 0 1 0 -18 0M798.3 622.4a9 9 0 1 0 18 0a9 9 0 1 0 -18 0M779.7 612.6a9 9 0 1 0 18 0a9 9 0 1 0 -18 0M879.4 589.7a9 9 0 1 0 18 0a9 9 0 1 0 -18 0M694.3 627.4a9 9 0 1 0 18 0a9 9 0 1 0 -18 0M754.3 724.0a9 9 0 1 0 18 0a9 9 0 1 0 -18 0M701.0 614.8a9 9 0 1 0 18 0a9 9 0 1 0 -18 0M724.0 732.7a9 9 0 1 0 18 0a9 9 0 1 0 -18 0M696.7 648.0a9 9 0 1 0 18 0a9 9 0 1 0 -18 0M724.7 566.1a9 9 0 1 0 18 0a9 9 0 1 0 -18 0M713.9 560.9a9 9 0 1 0 18 0a9 9 0 1 0 -18 0M799.5 736.6a9 9 0 1 0 18 0a9 9 0 1 0 -18 0M697.0 670.4a9 9 0 1 0 18 0a9 9 0 1 0 -18 0M737.8 525.3a9 9 0 1 0 18 0a9 9 0 1 0 -18 0M724.1 588.0a9 9 0 1 0 18 0a9 9 0 1 0 -18 0M705.5 603.5a9 9 0 1 0 18 0a9 9 0 1 0 -18 0M711.7 600.4a9 9 0 1 0 18 0a9 9 0 1 0 -18 0M658.9 610.8a9 9 0 1 0 18 0a9 9 0 1 0 -18 0M794.1 593.3a9 9 0 1 0 18 0a9 9 0 1 0 -18 0M741.0 655.9a9 9 0 1 0 18 0a9 9 0 1 0 -18 0M806.4 578.6a9 9 0 1 0 18 0a9 9 0 1 0 -18 0M675.6 620.5a9 9 0 1 0 18 0a9 9 0 1 0 -18 0M774.5 620.7a9 9 0 1 0 18 0a9 9 0 1 0 -18 0M718.4 650.9a9 9 0 1 0 18 0a9 9 0 1 0 -18 0M847.5 711.4a9 9 0 1 0 18 0a9 9 0 1 0 -18 0M817.2 530.0a9 9 0 1 0 18 0a9 9 0 1 0 -18 0M724.4 536.1a9 9 0 1 0 18 0a9 9 0 1 0 -18 0M802.0 717.0a9 9 0 1 0 18 0a9 9 0 1 0 -18 0M750.3 624.1a9 9 0 1 0 18 0a9 9 0 1 0 -18 0M733.6 637.9a9 9 0 1 0 18 0a9 9 0 1 0 -18 0M742.0 614.1a9 9 0 1 0 18 0a9 9 0 1 0 -18 0M777.5 695.9a9 9 0 1 0 18 0a9 9 0 1 0 -18 0M702.0 620.4a9 9 0 1 0 18 0a9 9 0 1 0 -18 0M696.3 594.7a9 9 0 1 0 18 0a9 9 0 1 0 -18 0M686.6 542.7a9 9 0 1 0 18 0a9 9 0 1 0 -18 0M878.0 596.9a9 9 0 1 0 18 0a9 9 0 1 0 -18 0M777.0 646.3a9 9 0 1 0 18 0a9 9 0 1 0 -18 0M824.2 642.4a9 9 0 1 0 18 0a9 9 0 1 0 -18 0M733.8 619.7a9 9 0 1 0 18 0a9 9 0 1 0 -18 0M772.0 618.7a9 9 0 1 0 18 0a9 9 0 1 0 -18 0M742.2 646.5a9 9 0 1 0 18 0a9 9 0 1 0 -18 0M641.6 567.3a9 9 0 1 0 18 0a9 9 0 1 0 -18 0M738.8 622.5a9 9 0 1 0 18 0a9 9 0 1 0 -18 0M691.6 560.3a9 9 0 1 0 18 0a9 9 0 1 0 -18 0M653.7 671.5a9 9 0 1 0 18 0a9 9 0 1 0 -18 0M714.7 595.1a9 9 0 1 0 18 0a9 9 0 1 0 -18 0M738.8 695.4a9 9 0 1 0 18 0a9 9 0 1 0 -18 0M763.6 587.5a9 9 0 1 0 18 0a9 9 0 1 0 -18 0M824.1 598.7a9 9 0 1 0 18 0a9 9 0 1 0 -18 0M639.5 643.6a9 9 0 1 0 18 0a9 9 0 1 0 -18 0M729.8 523.8a9 9 0 1 0 18 0a9 9 0 1 0 -18 0M803.4 559.7a9 9 0 1 0 18 0a9 9 0 1 0 -18 0M770.8 614.4a9 9 0 1 0 18 0a9 9 0 1 0 -18 0M681.7 582.4a9 9 0 1 0 18 0a9 9 0 1 0 -18 0M884.6 611.8a9 9 0 1 0 18 0a9 9 0 1 0 -18 0M759.9 500.3a9 9 0 1 0 18 0a9 9 0 1 0 -18 0M778.1 684.6a9 9 0 1 0 18 0a9 9 0 1 0 -18 0M883.5 622.7a9 9 0 1 0 18 0a9 9 0 1 0 -18 0M718.5 603.7a9 9 0 1 0 18 0a9 9 0 1 0 -18 0M854.6 572.8a9 9 0 1 0 18 0a9 9 0 1 0 -18 0M810.9 678.4a9 9 0 1 0 18 0a9 9 0 1 0 -18 0M754.5 594.1a9 9 0 1 0 18 0a9 9 0 1 0 -18 0M702.2 690.0a9 9 0 1 0 18 0a9 9 0 1 0 -18 0M713.8 719.5a9 9 0 1 0 18 0a9 9 0 1 0 -18 0M875.2 662.2a9 9 0 1 0 18 0a9 9 0 1 0 -18 0M662.8 538.1a9 9 0 1 0 18 0a9 9 0 1 0 -18 0M875.1 583.6a9 9 0 1 0 18 0a9 9 0 1 0 -18 0M710.9 592.2a9 9 0 1 0 18 0a9 9 0 1 0 -18 0M732.6 561.5a9 9 0 1 0 18 0a9 9 0 1 0 -18 0M626.6 650.0a9 9 0 1 0 18 0a9 9 0 1 0 -18 0M656.8 550.4a9 9 0 1 0 18 0a9 9 0 1 0 -18 0M710.5 578.2a9 9 0 1 0 18 0a9 9 0 1 0 -18 0M683.0 710.6a9 9 0 1 0 18 0a9 9 0 1 0 -18 0M824.0 592.4a9 9 0 1 0 18 0a9 9 0 1 0 -18 0M834.4 609.4a9 9 0 1 0 18 0a9 9 0 1 0 -18 0M758.5 583.7a9 9 0 1 0 18 0a9 9 0 1 0 -18 0M669.6 563.9a9 9 0 1 0 18 0a9 9 0 1 0 -18 0M791.9 607.5a9 9 0 1 0 18 0a9 9 0 1 0 -18 0M672.4 698.8a9 9 0 1 0 18 0a9 9 0 1 0 -18 0M703.2 611.5a9 9 0 1 0 18 0a9 9 0 1 0 -18 0M774.2 718.5a9 9 0 1 0 18 0a9 9 0 1 0 -18 0M730.4 560.2a9 9 0 1 0 18 0a9 9 0 1 0 -18 0M668.1 699.1a9 9 0 1 0 18 0a9 9 0 1 0 -18 0M700.1 615.9a9 9 0 1 0 18 0a9 9 0 1 0 -18 0M721.1 697.1a9 9 0 1 0 18 0a9 9 0 1 0 -18 0M656.5 717.1a9 9 0 1 0 18 0a9 9 0 1 0 -18 0M861.5 703.7a9 9 0 1 0 18 0a9 9 0 1 0 -18 0M827.3 718.0a9 9 0 1 0 18 0a9 9 0 1 0 -18 0M687.8 597.5a9 9 0 1 0 18 0a9 9 0 1 0 -18 0M768.3 617.8a9 9 0 1 0 18 0a9 9 0 1 0 -18 0M703.3 639.8a9 9 0 1 0 18 0a9 9 0 1 0 -18 0M633.9 667.5a9 9 0 1 0 18 0a9 9 0 1 0 -18 0M742.0 650.0a9 9 0 1 0 18 0a9 9 0 1 0 -18 0M773.9 660.8a9 9 0 1 0 18 0a9 9 0 1 0 -18 0M688.3 593.0a9 9 0 1 0 18 0a9 9 0 1 0 -18 0M673.8 701.9a9 9 0 1 0 18 0a9 9 0 1 0 -18 0M686.2 582.1a9 9 0 1 0 18 0a9 9 0 1 0 -18 0M832.0 636.3a9 9 0 1 0 18 0a9 9 0 1 0 -18 0M735.8 565.7a9 9 0 1 0 18 0a9 9 0 1 0 -18 0M730.1 507.8a9 9 0 1 0 18 0a9 9 0 1 0 -18 0M768.4 550.2a9 9 0 1 0 18 0a9 9 0 1 0 -18 0M739.9 650.9a9 9 0 1 0 18 0a9 9 0 1 0 -18 0M747.1 586.2a9 9 0 1 0 18 0a9 9 0 1 0 -18 0M828.3 588.2a9 9 0 1 0 18 0a9 9 0 1 0 -18 0M758.5 608.0a9 9 0 1 0 18 0a9 9 0 1 0 -18 0M640.5 573.3a9 9 0 1 0 18 0a9 9 0 1 0 -18 0M735.2 673.6a9 9 0 1 0 18 0a9 9 0 1 0 -18 0M709.1 585.2a9 9 0 1 0 18 0a9 9 0 1 0 -18 0M747.6 605.9a9 9 0 1 0 18 0a9 9 0 1 0 -18 0M656.1 686.2a9 9 0 1 0 18 0a9 9 0 1 0 -18 0M738.2 645.5a9 9 0 1 0 18 0a9 9 0 1 0 -18 0M792.0 673.8a9 9 0 1 0 18 0a9 9 0 1 0 -18 0M603.3 613.5a9 9 0 1 0 18 0a9 9 0 1 0 -18 0M677.0 606.5a9 9 0 1 0 18 0a9 9 0 1 0 -18 0M846.1 605.1a9 9 0 1 0 18 0a9 9 0 1 0 -18 0M703.1 644.8a9 9 0 1 0 18 0a9 9 0 1 0 -18 0M722.6 662.1a9 9 0 1 0 18 0a9 9 0 1 0 -18 0M757.6 619.9a9 9 0 1 0 18 0a9 9 0 1 0 -18 0M724.4 580.8a9 9 0 1 0 18 0a9 9 0 1 0 -18 0M751.2 620.6a9 9 0 1 0 18 0a9 9 0 1 0 -18 0M737.9 671.0a9 9 0 1 0 18 0a9 9 0 1 0 -18 0M623.1 689.5a9 9 0 1 0 18 0a9 9 0 1 0 -18 0M722.4 650.1a9 9 0 1 0 18 0a9 9 0 1 0 -18 0M661.0 634.3a9 9 0 1 0 18 0a9 9 0 1 0 -18 0M868.0 633.0a9 9 0 1 0 18 0a9 9 0 1 0 -18 0M829.2 630.6a9 9 0 1 0 18 0a9 9 0 1 0 -18 0M769.0 695.1a9 9 0 1 0 18 0a9 9 0 1 0 -18 0M681.9 622.0a9 9 0 1 0 18 0a9 9 0 1 0 -18 0M754.9 599.6a9 9 0 1 0 18 0a9 9 0 1 0 -18 0M874.1 579.6a9 9 0 1 0 18 0a9 9 0 1 0 -18 0M710.5 642.9a9 9 0 1 0 18 0a9 9 0 1 0 -18 0M763.6 629.5a9 9 0 1 0 18 0a9 9 0 1 0 -18 0M678.2 635.1a9 9 0 1 0 18 0a9 9 0 1 0 -18 0M782.6 591.0a9 9 0 1 0 18 0a9 9 0 1 0 -18 0M735.5 580.4a9 9 0 1 0 18 0a9 9 0 1 0 -18 0M719.2 621.8a9 9 0 1 0 18 0a9 9 0 1 0 -18 0M746.5 716.0a9 9 0 1 0 18 0a9 9 0 1 0 -18 0M695.5 614.4a9 9 0 1 0 18 0a9 9 0 1 0 -18 0M729.1 647.4a9 9 0 1 0 18 0a9 9 0 1 0 -18 0M735.0 582.6a9 9 0 1 0 18 0a9 9 0 1 0 -18 0M775.5 610.9a9 9 0 1 0 18 0a9 9 0 1 0 -18 0M848.8 682.6a9 9 0 1 0 18 0a9 9 0 1 0 -18 0M861.1 689.3a9 9 0 1 0 18 0a9 9 0 1 0 -18 0M701.6 558.9a9 9 0 1 0 18 0a9 9 0 1 0 -18 0M717.9 571.9a9 9 0 1 0 18 0a9 9 0 1 0 -18 0M802.6 645.1a9 9 0 1 0 18 0a9 9 0 1 0 -18 0M737.3 632.6a9 9 0 1 0 18 0a9 9 0 1 0 -18 0M697.9 647.6a9 9 0 1 0 18 0a9 9 0 1 0 -18 0M824.1 689.3a9 9 0 1 0 18 0a9 9 0 1 0 -18 0M805.4 521.9a9 9 0 1 0 18 0a9 9 0 1 0 -18 0M798.9 704.2a9 9 0 1 0 18 0a9 9 0 1 0 -18 0M804.5 576.0a9 9 0 1 0 18 0a9 9 0 1 0 -18 0M781.4 622.5a9 9 0 1 0 18 0a9 9 0 1 0 -18 0M665.8 646.0a9 9 0 1 0 18 0a9 9 0 1 0 -18 0M694.9 682.0a9 9 0 1 0 18 0a9 9 0 1 0 -18 0M604.7 624.6a9 9 0 1 0 18 0a9 9 0 1 0 -18 0M808.0 577.4a9 9 0 1 0 18 0a9 9 0 1 0 -18 0M739.0 648.4a9 9 0 1 0 18 0a9 9 0 1 0 -18 0M792.7 591.3a9 9 0 1 0 18 0a9 9 0 1 0 -18 0M745.1 598.1a9 9 0 1 0 18 0a9 9 0 1 0 -18 0M793.0 669.3a9 9 0 1 0 18 0a9 9 0 1 0 -18 0M713.7 581.4a9 9 0 1 0 18 0a9 9 0 1 0 -18 0M626.6 672.5a9 9 0 1 0 18 0a9 9 0 1 0 -18 0M744.2 581.5a9 9 0 1 0 18 0a9 9 0 1 0 -18 0M642.8 683.7a9 9 0 1 0 18 0a9 9 0 1 0 -18 0M765.9 610.3a9 9 0 1 0 18 0a9 9 0 1 0 -18 0M724.3 663.2a9 9 0 1 0 18 0a9 9 0 1 0 -18 0M752.9 650.2a9 9 0 1 0 18 0a9 9 0 1 0 -18 0M742.7 532.4a9 9 0 1 0 18 0a9 9 0 1 0 -18 0M830.3 677.6a9 9 0 1 0 18 0a9 9 0 1 0 -18 0M794.4 694.4a9 9 0 1 0 18 0a9 9 0 1 0 -18 0M709.9 618.6a9 9 0 1 0 18 0a9 9 0 1 0 -18 0M750.0 696.2a9 9 0 1 0 18 0a9 9 0 1 0 -18 0M723.1 650.8a9 9 0 1 0 18 0a9 9 0 1 0 -18 0M705.3 536.7a9 9 0 1 0 18 0a9 9 0 1 0 -18 0M675.6 639.2a9 9 0 1 0 18 0a9 9 0 1 0 -18 0M819.5 629.5a9 9 0 1 0 18 0a9 9 0 1 0 -18 0M800.0 714.0a9 9 0 1 0 18 0a9 9 0 1 0 -18 0M798.9 629.5a9 9 0 1 0 18 0a9 9 0 1 0 -18 0M759.3 538.0a9 9 0 1 0 18 0a9 9 0 1 0 -18 0M747.3 588.3a9 9 0 1 0 18 0a9 9 0 1 0 -18 0M783.9 562.0a9 9 0 1 0 18 0a9 9 0 1 0 -18 0M678.5 623.9a9 9 0 1 0 18 0a9 9 0 1 0 -18 0M839.5 657.5a9 9 0 1 0 18 0a9 9 0 1 0 -18 0M738.0 597.6a9 9 0 1 0 18 0a9 9 0 1 0 -18 0M815.7 556.3a9 9 0 1 0 18 0a9 9 0 1 0 -18 0M729.4 537.0a9 9 0 1 0 18 0a9 9 0 1 0 -18 0M668.3 546.0a9 9 0 1 0 18 0a9 9 0 1 0 -18 0M745.5 589.5a9 9 0 1 0 18 0a9 9 0 1 0 -18 0M823.7 593.9a9 9 0 1 0 18 0a9 9 0 1 0 -18 0M677.2 667.0a9 9 0 1 0 18 0a9 9 0 1 0 -18 0M771.9 551.1a9 9 0 1 0 18 0a9 9 0 1 0 -18 0M743.5 664.5a9 9 0 1 0 18 0a9 9 0 1 0 -18 0M750.6 629.4a9 9 0 1 0 18 0a9 9 0 1 0 -18 0M717.1 546.6a9 9 0 1 0 18 0a9 9 0 1 0 -18 0M809.6 676.6a9 9 0 1 0 18 0a9 9 0 1 0 -18 0M743.0 563.2a9 9 0 1 0 18 0a9 9 0 1 0 -18 0M854.9 637.8a9 9 0 1 0 18 0a9 9 0 1 0 -18 0M744.3 656.1a9 9 0 1 0 18 0a9 9 0 1 0 -18 0M769.9 521.5a9 9 0 1 0 18 0a9 9 0 1 0 -18 0M698.8 739.4a9 9 0 1 0 18 0a9 9 0 1 0 -18 0M674.3 557.6a9 9 0 1 0 18 0a9 9 0 1 0 -18 0M741.8 570.4a9 9 0 1 0 18 0a9 9 0 1 0 -18 0M660.3 590.8a9 9 0 1 0 18 0a9 9 0 1 0 -18 0M826.2 634.6a9 9 0 1 0 18 0a9 9 0 1 0 -18 0M829.5 697.4a9 9 0 1 0 18 0a9 9 0 1 0 -18 0M763.3 713.1a9 9 0 1 0 18 0a9 9 0 1 0 -18 0M786.2 587.0a9 9 0 1 0 18 0a9 9 0 1 0 -18 0M719.2 577.5a9 9 0 1 0 18 0a9 9 0 1 0 -18 0M737.9 585.8a9 9 0 1 0 18 0a9 9 0 1 0 -18 0M734.5 743.7a9 9 0 1 0 18 0a9 9 0 1 0 -18 0M889.4 627.6a9 9 0 1 0 18 0a9 9 0 1 0 -18 0M663.6 596.4a9 9 0 1 0 18 0a9 9 0 1 0 -18 0M775.1 664.2a9 9 0 1 0 18 0a9 9 0 1 0 -18 0M690.9 633.4a9 9 0 1 0 18 0a9 9 0 1 0 -18 0M811.0 571.2a9 9 0 1 0 18 0a9 9 0 1 0 -18 0M687.2 574.8a9 9 0 1 0 18 0a9 9 0 1 0 -18 0M749.8 644.8a9 9 0 1 0 18 0a9 9 0 1 0 -18 0M674.1 583.4a9 9 0 1 0 18 0a9 9 0 1 0 -18 0M759.1 642.7a9 9 0 1 0 18 0a9 9 0 1 0 -18 0M780.0 564.7a9 9 0 1 0 18 0a9 9 0 1 0 -18 0M741.4 544.4a9 9 0 1 0 18 0a9 9 0 1 0 -18 0M755.4 582.4a9 9 0 1 0 18 0a9 9 0 1 0 -18 0M768.8 514.5a9 9 0 1 0 18 0a9 9 0 1 0 -18 0M761.6 611.3a9 9 0 1 0 18 0a9 9 0 1 0 -18 0M737.6 522.8a9 9 0 1 0 18 0a9 9 0 1 0 -18 0M740.3 574.5a9 9 0 1 0 18 0a9 9 0 1 0 -18 0M728.1 548.4a9 9 0 1 0 18 0a9 9 0 1 0 -18 0M749.9 694.5a9 9 0 1 0 18 0a9 9 0 1 0 -18 0M836.9 636.7a9 9 0 1 0 18 0a9 9 0 1 0 -18 0M701.3 604.6a9 9 0 1 0 18 0a9 9 0 1 0 -18 0M710.4 662.3a9 9 0 1 0 18 0a9 9 0 1 0 -18 0M752.6 730.5a9 9 0 1 0 18 0a9 9 0 1 0 -18 0M814.4 596.6a9 9 0 1 0 18 0a9 9 0 1 0 -18 0M749.3 596.0a9 9 0 1 0 18 0a9 9 0 1 0 -18 0M775.2 559.9a9 9 0 1 0 18 0a9 9 0 1 0 -18 0M798.6 558.7a9 9 0 1 0 18 0a9 9 0 1 0 -18 0M764.6 526.8a9 9 0 1 0 18 0a9 9 0 1 0 -18 0M697.5 554.1a9 9 0 1 0 18 0a9 9 0 1 0 -18 0M768.8 685.0a9 9 0 1 0 18 0a9 9 0 1 0 -18 0M738.6 529.6a9 9 0 1 0 18 0a9 9 0 1 0 -18 0M729.2 526.1a9 9 0 1 0 18 0a9 9 0 1 0 -18 0M702.0 660.8a9 9 0 1 0 18 0a9 9 0 1 0 -18 0M739.5 604.7a9 9 0 1 0 18 0a9 9 0 1 0 -18 0M704.6 569.8a9 9 0 1 0 18 0a9 9 0 1 0 -18 0M712.0 643.4a9 9 0 1 0 18 0a9 9 0 1 0 -18 0M833.7 633.4a9 9 0 1 0 18 0a9 9 0 1 0 -18 0M768.4 536.2a9 9 0 1 0 18 0a9 9 0 1 0 -18 0M737.7 696.9a9 9 0 1 0 18 0a9 9 0 1 0 -18 0M683.3 578.4a9 9 0 1 0 18 0a9 9 0 1 0 -18 0M751.8 659.0a9 9 0 1 0 18 0a9 9 0 1 0 -18 0M735.5 529.6a9 9 0 1 0 18 0a9 9 0 1 0 -18 0M811.0 560.2a9 9 0 1 0 18 0a9 9 0 1 0 -18 0M746.3 592.8a9 9 0 1 0 18 0a9 9 0 1 0 -18 0M794.4 648.9a9 9 0 1 0 18 0a9 9 0 1 0 -18 0M657.4 654.3a9 9 0 1 0 18 0a9 9 0 1 0 -18 0M759.9 651.9a9 9 0 1 0 18 0a9 9 0 1 0 -18 0M761.5 642.6a9 9 0 1 0 18 0a9 9 0 1 0 -18 0M745.5 677.9a9 9 0 1 0 18 0a9 9 0 1 0 -18 0M659.3 600.3a9 9 0 1 0 18 0a9 9 0 1 0 -18 0M675.2 647.3a9 9 0 1 0 18 0a9 9 0 1 0 -18 0M773.6 668.4a9 9 0 1 0 18 0a9 9 0 1 0 -18 0M723.8 689.3a9 9 0 1 0 18 0a9 9 0 1 0 -18 0M740.3 557.0a9 9 0 1 0 18 0a9 9 0 1 0 -18 0M704.4 680.1a9 9 0 1 0 18 0a9 9 0 1 0 -18 0M628.1 620.1a9 9 0 1 0 18 0a9 9 0 1 0 -18 0M730.3 682.9a9 9 0 1 0 18 0a9 9 0 1 0 -18 0M724.2 560.8a9 9 0 1 0 18 0a9 9 0 1 0 -18 0M630.4 618.1a9 9 0 1 0 18 0a9 9 0 1 0 -18 0M748.8 596.7a9 9 0 1 0 18 0a9 9 0 1 0 -18 0M694.5 586.2a9 9 0 1 0 18 0a9 9 0 1 0 -18 0M812.8 615.6a9 9 0 1 0 18 0a9 9 0 1 0 -18 0M773.6 545.4a9 9 0 1 0 18 0a9 9 0 1 0 -18 0M741.6 557.6a9 9 0 1 0 18 0a9 9 0 1 0 -18 0M730.4 611.4a9 9 0 1 0 18 0a9 9 0 1 0 -18 0M717.3 599.3a9 9 0 1 0 18 0a9 9 0 1 0 -18 0M831.0 625.9a9 9 0 1 0 18 0a9 9 0 1 0 -18 0M718.6 643.8a9 9 0 1 0 18 0a9 9 0 1 0 -18 0M703.1 637.3a9 9 0 1 0 18 0a9 9 0 1 0 -18 0M639.4 630.9a9 9 0 1 0 18 0a9 9 0 1 0 -18 0M810.0 619.8a9 9 0 1 0 18 0a9 9 0 1 0 -18 0M655.6 702.2a9 9 0 1 0 18 0a9 9 0 1 0 -18 0M699.7 634.5a9 9 0 1 0 18 0a9 9 0 1 0 -18 0M869.3 676.5a9 9 0 1 0 18 0a9 9 0 1 0 -18 0M670.8 561.4a9 9 0 1 0 18 0a9 9 0 1 0 -18 0M744.5 596.9a9 9 0 1 0 18 0a9 9 0 1 0 -18 0M771.1 580.8a9 9 0 1 0 18 0a9 9 0 1 0 -18 0M748.3 675.5a9 9 0 1 0 18 0a9 9 0 1 0 -18 0M634.8 626.8a9 9 0 1 0 18 0a9 9 0 1 0 -18 0M815.1 618.8a9 9 0 1 0 18 0a9 9 0 1 0 -18 0M723.9 617.6a9 9 0 1 0 18 0a9 9 0 1 0 -18 0M688.4 700.4a9 9 0 1 0 18 0a9 9 0 1 0 -18 0M637.5 589.0a9 9 0 1 0 18 0a9 9 0 1 0 -18 0M622.6 578.1a9 9 0 1 0 18 0a9 9 0 1 0 -18 0M718.4 656.2a9 9 0 1 0 18 0a9 9 0 1 0 -18 0M730.1 614.8a9 9 0 1 0 18 0a9 9 0 1 0 -18 0M782.3 637.9a9 9 0 1 0 18 0a9 9 0 1 0 -18 0M684.7 552.3a9 9 0 1 0 18 0a9 9 0 1 0 -18 0M689.5 727.6a9 9 0 1 0 18 0a9 9 0 1 0 -18 0M797.7 692.3a9 9 0 1 0 18 0a9 9 0 1 0 -18 0M645.8 675.7a9 9 0 1 0 18 0a9 9 0 1 0 -18 0M759.0 560.2a9 9 0 1 0 18 0a9 9 0 1 0 -18 0M643.3 659.1a9 9 0 1 0 18 0a9 9 0 1 0 -18 0M729.3 604.4a9 9 0 1 0 18 0a9 9 0 1 0 -18 0M855.7 659.7a9 9 0 1 0 18 0a9 9 0 1 0 -18 0M803.2 596.0a9 9 0 1 0 18 0a9 9 0 1 0 -18 0M794.3 724.5a9 9 0 1 0 18 0a9 9 0 1 0 -18 0M668.5 640.2a9 9 0 1 0 18 0a9 9 0 1 0 -18 0M801.8 704.7a9 9 0 1 0 18 0a9 9 0 1 0 -18 0M782.7 546.4a9 9 0 1 0 18 0a9 9 0 1 0 -18 0M789.7 577.8a9 9 0 1 0 18 0a9 9 0 1 0 -18 0M732.1 625.4a9 9 0 1 0 18 0a9 9 0 1 0 -18 0M764.0 528.3a9 9 0 1 0 18 0a9 9 0 1 0 -18 0M681.6 679.3a9 9 0 1 0 18 0a9 9 0 1 0 -18 0M716.6 646.9a9 9 0 1 0 18 0a9 9 0 1 0 -18 0M739.7 603.9a9 9 0 1 0 18 0a9 9 0 1 0 -18 0M802.6 531.4a9 9 0 1 0 18 0a9 9 0 1 0 -18 0M787.5 591.1a9 9 0 1 0 18 0a9 9 0 1 0 -18 0M659.9 710.6a9 9 0 1 0 18 0a9 9 0 1 0 -18 0M740.4 689.0a9 9 0 1 0 18 0a9 9 0 1 0 -18 0M834.9 613.0a9 9 0 1 0 18 0a9 9 0 1 0 -18 0M757.2 637.8a9 9 0 1 0 18 0a9 9 0 1 0 -18 0M816.0 686.0a9 9 0 1 0 18 0a9 9 0 1 0 -18 0M729.8 510.0a9 9 0 1 0 18 0a9 9 0 1 0 -18 0M715.7 601.0a9 9 0 1 0 18 0a9 9 0 1 0 -18 0M809.9 577.2a9 9 0 1 0 18 0a9 9 0 1 0 -18 0M642.5 581.7a9 9 0 1 0 18 0a9 9 0 1 0 -18 0M696.3 603.7a9 9 0 1 0 18 0a9 9 0 1 0 -18 0M641.2 652.6a9 9 0 1 0 18 0a9 9 0 1 0 -18 0M860.0 583.0a9 9 0 1 0 18 0a9 9 0 1 0 -18 0M791.8 547.0a9 9 0 1 0 18 0a9 9 0 1 0 -18 0M725.4 631.1a9 9 0 1 0 18 0a9 9 0 1 0 -18 0M793.8 667.6a9 9 0 1 0 18 0a9 9 0 1 0 -18 0M670.7 539.0a9 9 0 1 0 18 0a9 9 0 1 0 -18 0M782.5 715.3a9 9 0 1 0 18 0a9 9 0 1 0 -18 0M730.2 660.6a9 9 0 1 0 18 0a9 9 0 1 0 -18 0M764.1 687.1a9 9 0 1 0 18 0a9 9 0 1 0 -18 0M742.9 658.2a9 9 0 1 0 18 0a9 9 0 1 0 -18 0M838.9 648.9a9 9 0 1 0 18 0a9 9 0 1 0 -18 0M852.0 610.8a9 9 0 1 0 18 0a9 9 0 1 0 -18 0M803.1 616.0a9 9 0 1 0 18 0a9 9 0 1 0 -18 0M713.4 562.5a9 9 0 1 0 18 0a9 9 0 1 0 -18 0M758.9 589.3a9 9 0 1 0 18 0a9 9 0 1 0 -18 0M669.9 645.3a9 9 0 1 0 18 0a9 9 0 1 0 -18 0M782.6 613.4a9 9 0 1 0 18 0a9 9 0 1 0 -18 0M741.6 636.1a9 9 0 1 0 18 0a9 9 0 1 0 -18 0M882.1 669.6a9 9 0 1 0 18 0a9 9 0 1 0 -18 0M716.9 661.0a9 9 0 1 0 18 0a9 9 0 1 0 -18 0M825.1 719.2a9 9 0 1 0 18 0a9 9 0 1 0 -18 0M864.2 624.0a9 9 0 1 0 18 0a9 9 0 1 0 -18 0M745.8 592.3a9 9 0 1 0 18 0a9 9 0 1 0 -18 0M656.8 611.4a9 9 0 1 0 18 0a9 9 0 1 0 -18 0M799.6 700.3a9 9 0 1 0 18 0a9 9 0 1 0 -18 0M737.6 739.5a9 9 0 1 0 18 0a9 9 0 1 0 -18 0M635.3 623.5a9 9 0 1 0 18 0a9 9 0 1 0 -18 0M657.6 652.9a9 9 0 1 0 18 0a9 9 0 1 0 -18 0M721.6 740.6a9 9 0 1 0 18 0a9 9 0 1 0 -18 0M885.0 674.4a9 9 0 1 0 18 0a9 9 0 1 0 -18 0M710.8 686.7a9 9 0 1 0 18 0a9 9 0 1 0 -18 0M693.3 700.3a9 9 0 1 0 18 0a9 9 0 1 0 -18 0M688.0 572.2a9 9 0 1 0 18 0a9 9 0 1 0 -18 0M787.1 563.7a9 9 0 1 0 18 0a9 9 0 1 0 -18 0M806.8 673.1a9 9 0 1 0 18 0a9 9 0 1 0 -18 0M805.5 683.6a9 9 0 1 0 18 0a9 9 0 1 0 -18 0M743.8 537.7a9 9 0 1 0 18 0a9 9 0 1 0 -18 0M869.9 616.2a9 9 0 1 0 18 0a9 9 0 1 0 -18 0M831.4 572.7a9 9 0 1 0 18 0a9 9 0 1 0 -18 0M867.0 671.2a9 9 0 1 0 18 0a9 9 0 1 0 -18 0M766.6 688.7a9 9 0 1 0 18 0a9 9 0 1 0 -18 0M730.3 626.1a9 9 0 1 0 18 0a9 9 0 1 0 -18 0M750.4 630.2a9 9 0 1 0 18 0a9 9 0 1 0 -18 0M815.8 541.7a9 9 0 1 0 18 0a9 9 0 1 0 -18 0M733.0 600.9a9 9 0 1 0 18 0a9 9 0 1 0 -18 0M763.2 597.5a9 9 0 1 0 18 0a9 9 0 1 0 -18 0M853.7 600.8a9 9 0 1 0 18 0a9 9 0 1 0 -18 0M716.1 700.9a9 9 0 1 0 18 0a9 9 0 1 0 -18 0M842.8 613.2a9 9 0 1 0 18 0a9 9 0 1 0 -18 0M724.7 562.9a9 9 0 1 0 18 0a9 9 0 1 0 -18 0M813.4 643.9a9 9 0 1 0 18 0a9 9 0 1 0 -18 0M712.0 588.2a9 9 0 1 0 18 0a9 9 0 1 0 -18 0M790.8 639.4a9 9 0 1 0 18 0a9 9 0 1 0 -18 0M735.9 672.7a9 9 0 1 0 18 0a9 9 0 1 0 -18 0M822.9 660.1a9 9 0 1 0 18 0a9 9 0 1 0 -18 0M817.6 613.6a9 9 0 1 0 18 0a9 9 0 1 0 -18 0M721.4 664.1a9 9 0 1 0 18 0a9 9 0 1 0 -18 0M623.5 675.8a9 9 0 1 0 18 0a9 9 0 1 0 -18 0M779.6 644.1a9 9 0 1 0 18 0a9 9 0 1 0 -18 0M784.9 535.4a9 9 0 1 0 18 0a9 9 0 1 0 -18 0M678.8 638.4a9 9 0 1 0 18 0a9 9 0 1 0 -18 0M800.8 567.5a9 9 0 1 0 18 0a9 9 0 1 0 -18 0M683.4 565.6a9 9 0 1 0 18 0a9 9 0 1 0 -18 0M786.0 638.0a9 9 0 1 0 18 0a9 9 0 1 0 -18 0M709.0 659.0a9 9 0 1 0 18 0a9 9 0 1 0 -18 0M784.6 539.3a9 9 0 1 0 18 0a9 9 0 1 0 -18 0M785.0 575.3a9 9 0 1 0 18 0a9 9 0 1 0 -18 0M615.0 619.7a9 9 0 1 0 18 0a9 9 0 1 0 -18 0M752.6 536.0a9 9 0 1 0 18 0a9 9 0 1 0 -18 0M724.9 673.5a9 9 0 1 0 18 0a9 9 0 1 0 -18 0M730.5 529.8a9 9 0 1 0 18 0a9 9 0 1 0 -18 0M707.1 631.1a9 9 0 1 0 18 0a9 9 0 1 0 -18 0M699.1 656.0a9 9 0 1 0 18 0a9 9 0 1 0 -18 0M660.7 654.1a9 9 0 1 0 18 0a9 9 0 1 0 -18 0M685.9 583.0a9 9 0 1 0 18 0a9 9 0 1 0 -18 0M695.4 593.0a9 9 0 1 0 18 0a9 9 0 1 0 -18 0M812.5 542.3a9 9 0 1 0 18 0a9 9 0 1 0 -18 0M783.3 563.3a9 9 0 1 0 18 0a9 9 0 1 0 -18 0M711.6 546.3a9 9 0 1 0 18 0a9 9 0 1 0 -18 0M764.8 594.0a9 9 0 1 0 18 0a9 9 0 1 0 -18 0M722.8 536.4a9 9 0 1 0 18 0a9 9 0 1 0 -18 0M787.3 627.7a9 9 0 1 0 18 0a9 9 0 1 0 -18 0M715.4 680.7a9 9 0 1 0 18 0a9 9 0 1 0 -18 0M751.0 520.4a9 9 0 1 0 18 0a9 9 0 1 0 -18 0M705.8 714.0a9 9 0 1 0 18 0a9 9 0 1 0 -18 0M759.5 603.3a9 9 0 1 0 18 0a9 9 0 1 0 -18 0M771.9 685.6a9 9 0 1 0 18 0a9 9 0 1 0 -18 0M665.8 604.7a9 9 0 1 0 18 0a9 9 0 1 0 -18 0M834.8 622.5a9 9 0 1 0 18 0a9 9 0 1 0 -18 0M756.6 504.3a9 9 0 1 0 18 0a9 9 0 1 0 -18 0M721.8 569.4a9 9 0 1 0 18 0a9 9 0 1 0 -18 0M745.2 611.6a9 9 0 1 0 18 0a9 9 0 1 0 -18 0M782.0 617.5a9 9 0 1 0 18 0a9 9 0 1 0 -18 0M816.9 577.6a9 9 0 1 0 18 0a9 9 0 1 0 -18 0M885.5 668.3a9 9 0 1 0 18 0a9 9 0 1 0 -18 0M690.1 613.0a9 9 0 1 0 18 0a9 9 0 1 0 -18 0M816.7 668.9a9 9 0 1 0 18 0a9 9 0 1 0 -18 0M800.6 593.1a9 9 0 1 0 18 0a9 9 0 1 0 -18 0M719.1 682.2a9 9 0 1 0 18 0a9 9 0 1 0 -18 0M658.5 646.3a9 9 0 1 0 18 0a9 9 0 1 0 -18 0M810.9 604.2a9 9 0 1 0 18 0a9 9 0 1 0 -18 0M697.2 574.0a9 9 0 1 0 18 0a9 9 0 1 0 -18 0M868.8 633.1a9 9 0 1 0 18 0a9 9 0 1 0 -18 0M879.0 578.6a9 9 0 1 0 18 0a9 9 0 1 0 -18 0M663.8 656.0a9 9 0 1 0 18 0a9 9 0 1 0 -18 0M685.6 652.5a9 9 0 1 0 18 0a9 9 0 1 0 -18 0M830.9 714.8a9 9 0 1 0 18 0a9 9 0 1 0 -18 0M737.9 608.9a9 9 0 1 0 18 0a9 9 0 1 0 -18 0M673.2 591.2a9 9 0 1 0 18 0a9 9 0 1 0 -18 0M658.1 540.4a9 9 0 1 0 18 0a9 9 0 1 0 -18 0M754.4 564.3a9 9 0 1 0 18 0a9 9 0 1 0 -18 0M784.6 582.7a9 9 0 1 0 18 0a9 9 0 1 0 -18 0M773.5 588.5a9 9 0 1 0 18 0a9 9 0 1 0 -18 0M758.3 657.7a9 9 0 1 0 18 0a9 9 0 1 0 -18 0M663.9 589.1a9 9 0 1 0 18 0a9 9 0 1 0 -18 0M739.8 670.8a9 9 0 1 0 18 0a9 9 0 1 0 -18 0M770.0 561.1a9 9 0 1 0 18 0a9 9 0 1 0 -18 0M736.4 569.3a9 9 0 1 0 18 0a9 9 0 1 0 -18 0M775.7 683.0a9 9 0 1 0 18 0a9 9 0 1 0 -18 0M706.4 652.9a9 9 0 1 0 18 0a9 9 0 1 0 -18 0M730.7 559.0a9 9 0 1 0 18 0a9 9 0 1 0 -18 0M758.7 605.2a9 9 0 1 0 18 0a9 9 0 1 0 -18 0M773.6 677.9a9 9 0 1 0 18 0a9 9 0 1 0 -18 0M836.6 593.3a9 9 0 1 0 18 0a9 9 0 1 0 -18 0M895.4 598.5a9 9 0 1 0 18 0a9 9 0 1 0 -18 0M719.9 684.8a9 9 0 1 0 18 0a9 9 0 1 0 -18 0M686.9 681.8a9 9 0 1 0 18 0a9 9 0 1 0 -18 0M715.5 686.1a9 9 0 1 0 18 0a9 9 0 1 0 -18 0M732.4 549.5a9 9 0 1 0 18 0a9 9 0 1 0 -18 0M765.2 733.2a9 9 0 1 0 18 0a9 9 0 1 0 -18 0M774.7 555.2a9 9 0 1 0 18 0a9 9 0 1 0 -18 0M747.0 612.0a9 9 0 1 0 18 0a9 9 0 1 0 -18 0M822.7 656.7a9 9 0 1 0 18 0a9 9 0 1 0 -18 0M738.8 725.4a9 9 0 1 0 18 0a9 9 0 1 0 -18 0M734.7 718.9a9 9 0 1 0 18 0a9 9 0 1 0 -18 0M727.6 736.7a9 9 0 1 0 18 0a9 9 0 1 0 -18 0M760.7 626.6a9 9 0 1 0 18 0a9 9 0 1 0 -18 0M651.9 586.8a9 9 0 1 0 18 0a9 9 0 1 0 -18 0M786.2 539.4a9 9 0 1 0 18 0a9 9 0 1 0 -18 0M745.9 681.3a9 9 0 1 0 18 0a9 9 0 1 0 -18 0M734.2 589.8a9 9 0 1 0 18 0a9 9 0 1 0 -18 0M708.5 633.5a9 9 0 1 0 18 0a9 9 0 1 0 -18 0M787.6 665.6a9 9 0 1 0 18 0a9 9 0 1 0 -18 0M751.4 680.7a9 9 0 1 0 18 0a9 9 0 1 0 -18 0M786.5 545.8a9 9 0 1 0 18 0a9 9 0 1 0 -18 0M752.6 661.2a9 9 0 1 0 18 0a9 9 0 1 0 -18 0M617.4 668.4a9 9 0 1 0 18 0a9 9 0 1 0 -18 0M786.1 618.8a9 9 0 1 0 18 0a9 9 0 1 0 -18 0M823.5 614.6a9 9 0 1 0 18 0a9 9 0 1 0 -18 0M654.1 636.2a9 9 0 1 0 18 0a9 9 0 1 0 -18 0M756.0 727.8a9 9 0 1 0 18 0a9 9 0 1 0 -18 0M713.5 632.5a9 9 0 1 0 18 0a9 9 0 1 0 -18 0M728.8 662.1a9 9 0 1 0 18 0a9 9 0 1 0 -18 0M865.8 594.4a9 9 0 1 0 18 0a9 9 0 1 0 -18 0M799.2 619.4a9 9 0 1 0 18 0a9 9 0 1 0 -18 0M823.6 672.2a9 9 0 1 0 18 0a9 9 0 1 0 -18 0M709.3 643.8a9 9 0 1 0 18 0a9 9 0 1 0 -18 0M688.0 549.0a9 9 0 1 0 18 0a9 9 0 1 0 -18 0M764.7 677.7a9 9 0 1 0 18 0a9 9 0 1 0 -18 0M676.9 688.3a9 9 0 1 0 18 0a9 9 0 1 0 -18 0M768.7 593.6a9 9 0 1 0 18 0a9 9 0 1 0 -18 0M703.1 569.2a9 9 0 1 0 18 0a9 9 0 1 0 -18 0M845.2 670.9a9 9 0 1 0 18 0a9 9 0 1 0 -18 0M708.0 528.7a9 9 0 1 0 18 0a9 9 0 1 0 -18 0M758.2 564.1a9 9 0 1 0 18 0a9 9 0 1 0 -18 0M678.1 581.2a9 9 0 1 0 18 0a9 9 0 1 0 -18 0M792.4 560.5a9 9 0 1 0 18 0a9 9 0 1 0 -18 0M761.1 560.4a9 9 0 1 0 18 0a9 9 0 1 0 -18 0M739.5 592.2a9 9 0 1 0 18 0a9 9 0 1 0 -18 0M748.6 604.7a9 9 0 1 0 18 0a9 9 0 1 0 -18 0M685.4 576.0a9 9 0 1 0 18 0a9 9 0 1 0 -18 0M880.5 583.2a9 9 0 1 0 18 0a9 9 0 1 0 -18 0M805.8 660.0a9 9 0 1 0 18 0a9 9 0 1 0 -18 0M713.4 532.3a9 9 0 1 0 18 0a9 9 0 1 0 -18 0M786.5 670.2a9 9 0 1 0 18 0a9 9 0 1 0 -18 0M773.5 566.8a9 9 0 1 0 18 0a9 9 0 1 0 -18 0M685.0 569.9a9 9 0 1 0 18 0a9 9 0 1 0 -18 0M756.0 503.4a9 9 0 1 0 18 0a9 9 0 1 0 -18 0M728.1 723.1a9 9 0 1 0 18 0a9 9 0 1 0 -18 0M802.7 641.2a9 9 0 1 0 18 0a9 9 0 1 0 -18 0M761.9 660.7a9 9 0 1 0 18 0a9 9 0 1 0 -18 0M685.1 621.6a9 9 0 1 0 18 0a9 9 0 1 0 -18 0M803.4 648.8a9 9 0 1 0 18 0a9 9 0 1 0 -18 0M751.1 625.6a9 9 0 1 0 18 0a9 9 0 1 0 -18 0M804.8 604.7a9 9 0 1 0 18 0a9 9 0 1 0 -18 0M794.1 577.2a9 9 0 1 0 18 0a9 9 0 1 0 -18 0M769.5 597.7a9 9 0 1 0 18 0a9 9 0 1 0 -18 0M840.1 555.9a9 9 0 1 0 18 0a9 9 0 1 0 -18 0M742.1 628.4a9 9 0 1 0 18 0a9 9 0 1 0 -18 0M783.8 682.1a9 9 0 1 0 18 0a9 9 0 1 0 -18 0M639.3 672.1a9 9 0 1 0 18 0a9 9 0 1 0 -18 0M683.0 705.8a9 9 0 1 0 18 0a9 9 0 1 0 -18 0M762.7 638.8a9 9 0 1 0 18 0a9 9 0 1 0 -18 0M779.9 672.7a9 9 0 1 0 18 0a9 9 0 1 0 -18 0M657.4 641.4a9 9 0 1 0 18 0a9 9 0 1 0 -18 0M796.4 509.6a9 9 0 1 0 18 0a9 9 0 1 0 -18 0M748.3 593.8a9 9 0 1 0 18 0a9 9 0 1 0 -18 0M779.7 624.2a9 9 0 1 0 18 0a9 9 0 1 0 -18 0M815.1 558.1a9 9 0 1 0 18 0a9 9 0 1 0 -18 0M669.1 566.5a9 9 0 1 0 18 0a9 9 0 1 0 -18 0M876.4 675.6a9 9 0 1 0 18 0a9 9 0 1 0 -18 0M777.3 536.0a9 9 0 1 0 18 0a9 9 0 1 0 -18 0M656.1 580.9a9 9 0 1 0 18 0a9 9 0 1 0 -18 0M802.6 668.8a9 9 0 1 0 18 0a9 9 0 1 0 -18 0M726.7 558.2a9 9 0 1 0 18 0a9 9 0 1 0 -18 0M762.2 648.6a9 9 0 1 0 18 0a9 9 0 1 0 -18 0M792.0 715.2a9 9 0 1 0 18 0a9 9 0 1 0 -18 0M750.2 613.3a9 9 0 1 0 18 0a9 9 0 1 0 -18 0M810.0 672.7a9 9 0 1 0 18 0a9 9 0 1 0 -18 0M798.3 627.6a9 9 0 1 0 18 0a9 9 0 1 0 -18 0M822.7 687.9a9 9 0 1 0 18 0a9 9 0 1 0 -18 0M665.7 547.8a9 9 0 1 0 18 0a9 9 0 1 0 -18 0M728.4 572.6a9 9 0 1 0 18 0a9 9 0 1 0 -18 0M840.9 699.4a9 9 0 1 0 18 0a9 9 0 1 0 -18 0M699.4 607.9a9 9 0 1 0 18 0a9 9 0 1 0 -18 0M673.9 616.8a9 9 0 1 0 18 0a9 9 0 1 0 -18 0M787.2 607.0a9 9 0 1 0 18 0a9 9 0 1 0 -18 0M789.1 696.2a9 9 0 1 0 18 0a9 9 0 1 0 -18 0M811.1 728.3a9 9 0 1 0 18 0a9 9 0 1 0 -18 0M743.4 580.4a9 9 0 1 0 18 0a9 9 0 1 0 -18 0M764.1 611.3a9 9 0 1 0 18 0a9 9 0 1 0 -18 0M777.7 649.6a9 9 0 1 0 18 0a9 9 0 1 0 -18 0M714.6 627.0a9 9 0 1 0 18 0a9 9 0 1 0 -18 0M850.1 647.7a9 9 0 1 0 18 0a9 9 0 1 0 -18 0M812.4 545.8a9 9 0 1 0 18 0a9 9 0 1 0 -18 0M822.5 545.9a9 9 0 1 0 18 0a9 9 0 1 0 -18 0M738.8 624.1a9 9 0 1 0 18 0a9 9 0 1 0 -18 0M819.0 568.3a9 9 0 1 0 18 0a9 9 0 1 0 -18 0M738.2 552.5a9 9 0 1 0 18 0a9 9 0 1 0 -18 0M690.3 609.0a9 9 0 1 0 18 0a9 9 0 1 0 -18 0M686.6 649.0a9 9 0 1 0 18 0a9 9 0 1 0 -18 0M864.2 674.9a9 9 0 1 0 18 0a9 9 0 1 0 -18 0M772.7 612.5a9 9 0 1 0 18 0a9 9 0 1 0 -18 0M769.4 609.4a9 9 0 1 0 18 0a9 9 0 1 0 -18 0M739.9 737.8a9 9 0 1 0 18 0a9 9 0 1 0 -18 0M800.0 648.9a9 9 0 1 0 18 0a9 9 0 1 0 -18 0M752.5 505.9a9 9 0 1 0 18 0a9 9 0 1 0 -18 0M713.4 519.5a9 9 0 1 0 18 0a9 9 0 1 0 -18 0M674.7 577.4a9 9 0 1 0 18 0a9 9 0 1 0 -18 0M695.3 615.1a9 9 0 1 0 18 0a9 9 0 1 0 -18 0M802.3 583.4a9 9 0 1 0 18 0a9 9 0 1 0 -18 0M694.7 609.6a9 9 0 1 0 18 0a9 9 0 1 0 -18 0M759.5 659.4a9 9 0 1 0 18 0a9 9 0 1 0 -18 0M885.6 612.6a9 9 0 1 0 18 0a9 9 0 1 0 -18 0M782.6 663.2a9 9 0 1 0 18 0a9 9 0 1 0 -18 0M724.3 737.4a9 9 0 1 0 18 0a9 9 0 1 0 -18 0M699.4 533.5a9 9 0 1 0 18 0a9 9 0 1 0 -18 0M882.7 618.4a9 9 0 1 0 18 0a9 9 0 1 0 -18 0M794.2 563.0a9 9 0 1 0 18 0a9 9 0 1 0 -18 0M660.4 586.8a9 9 0 1 0 18 0a9 9 0 1 0 -18 0M736.7 666.7a9 9 0 1 0 18 0a9 9 0 1 0 -18 0M748.1 611.4a9 9 0 1 0 18 0a9 9 0 1 0 -18 0M682.3 649.8a9 9 0 1 0 18 0a9 9 0 1 0 -18 0M767.2 740.9a9 9 0 1 0 18 0a9 9 0 1 0 -18 0M825.0 644.7a9 9 0 1 0 18 0a9 9 0 1 0 -18 0M743.9 530.4a9 9 0 1 0 18 0a9 9 0 1 0 -18 0M704.5 599.3a9 9 0 1 0 18 0a9 9 0 1 0 -18 0M796.5 624.0a9 9 0 1 0 18 0a9 9 0 1 0 -18 0M644.3 662.5a9 9 0 1 0 18 0a9 9 0 1 0 -18 0M782.5 682.1a9 9 0 1 0 18 0a9 9 0 1 0 -18 0M729.4 663.4a9 9 0 1 0 18 0a9 9 0 1 0 -18 0M767.6 651.9a9 9 0 1 0 18 0a9 9 0 1 0 -18 0M815.1 731.2a9 9 0 1 0 18 0a9 9 0 1 0 -18 0M701.4 664.2a9 9 0 1 0 18 0a9 9 0 1 0 -18 0M755.6 708.6a9 9 0 1 0 18 0a9 9 0 1 0 -18 0M812.5 590.7a9 9 0 1 0 18 0a9 9 0 1 0 -18 0M726.2 603.7a9 9 0 1 0 18 0a9 9 0 1 0 -18 0M860.0 678.9a9 9 0 1 0 18 0a9 9 0 1 0 -18 0M785.2 604.8a9 9 0 1 0 18 0a9 9 0 1 0 -18 0M757.9 587.7a9 9 0 1 0 18 0a9 9 0 1 0 -18 0M825.4 592.5a9 9 0 1 0 18 0a9 9 0 1 0 -18 0M766.8 515.3a9 9 0 1 0 18 0a9 9 0 1 0 -18 0M817.0 658.8a9 9 0 1 0 18 0a9 9 0 1 0 -18 0M767.2 563.8a9 9 0 1 0 18 0a9 9 0 1 0 -18 0M703.9 643.4a9 9 0 1 0 18 0a9 9 0 1 0 -18 0M825.1 640.2a9 9 0 1 0 18 0a9 9 0 1 0 -18 0M723.1 660.9a9 9 0 1 0 18 0a9 9 0 1 0 -18 0M887.3 616.1a9 9 0 1 0 18 0a9 9 0 1 0 -18 0M718.1 564.0a9 9 0 1 0 18 0a9 9 0 1 0 -18 0M823.3 652.4a9 9 0 1 0 18 0a9 9 0 1 0 -18 0M769.6 600.0a9 9 0 1 0 18 0a9 9 0 1 0 -18 0M774.8 639.0a9 9 0 1 0 18 0a9 9 0 1 0 -18 0M772.1 633.5a9 9 0 1 0 18 0a9 9 0 1 0 -18 0M728.7 612.8a9 9 0 1 0 18 0a9 9 0 1 0 -18 0M676.6 587.3a9 9 0 1 0 18 0a9 9 0 1 0 -18 0M689.5 708.0a9 9 0 1 0 18 0a9 9 0 1 0 -18 0M766.4 582.0a9 9 0 1 0 18 0a9 9 0 1 0 -18 0M673.6 602.3a9 9 0 1 0 18 0a9 9 0 1 0 -18 0M722.9 654.5a9 9 0 1 0 18 0a9 9 0 1 0 -18 0M794.5 552.5a9 9 0 1 0 18 0a9 9 0 1 0 -18 0M699.7 688.6a9 9 0 1 0 18 0a9 9 0 1 0 -18 0M776.6 605.8a9 9 0 1 0 18 0a9 9 0 1 0 -18 0M633.2 566.7a9 9 0 1 0 18 0a9 9 0 1 0 -18 0M757.0 733.6a9 9 0 1 0 18 0a9 9 0 1 0 -18 0M805.7 550.3a9 9 0 1 0 18 0a9 9 0 1 0 -18 0M748.1 718.4a9 9 0 1 0 18 0a9 9 0 1 0 -18 0M789.6 570.1a9 9 0 1 0 18 0a9 9 0 1 0 -18 0M779.4 656.4a9 9 0 1 0 18 0a9 9 0 1 0 -18 0M797.6 543.2a9 9 0 1 0 18 0a9 9 0 1 0 -18 0M726.5 561.7a9 9 0 1 0 18 0a9 9 0 1 0 -18 0M697.0 643.4a9 9 0 1 0 18 0a9 9 0 1 0 -18 0M787.9 569.6a9 9 0 1 0 18 0a9 9 0 1 0 -18 0M777.7 675.4a9 9 0 1 0 18 0a9 9 0 1 0 -18 0M764.4 607.1a9 9 0 1 0 18 0a9 9 0 1 0 -18 0M774.5 610.5a9 9 0 1 0 18 0a9 9 0 1 0 -18 0M741.6 554.9a9 9 0 1 0 18 0a9 9 0 1 0 -18 0M681.8 691.1a9 9 0 1 0 18 0a9 9 0 1 0 -18 0M741.1 519.6a9 9 0 1 0 18 0a9 9 0 1 0 -18 0M803.8 562.6a9 9 0 1 0 18 0a9 9 0 1 0 -18 0M784.4 672.6a9 9 0 1 0 18 0a9 9 0 1 0 -18 0M770.5 644.3a9 9 0 1 0 18 0a9 9 0 1 0 -18 0M792.6 742.4a9 9 0 1 0 18 0a9 9 0 1 0 -18 0M725.4 607.0a9 9 0 1 0 18 0a9 9 0 1 0 -18 0M884.5 609.8a9 9 0 1 0 18 0a9 9 0 1 0 -18 0M691.2 599.0a9 9 0 1 0 18 0a9 9 0 1 0 -18 0M882.0 645.6a9 9 0 1 0 18 0a9 9 0 1 0 -18 0M732.1 657.6a9 9 0 1 0 18 0a9 9 0 1 0 -18 0M796.9 679.9a9 9 0 1 0 18 0a9 9 0 1 0 -18 0M668.2 538.7a9 9 0 1 0 18 0a9 9 0 1 0 -18 0M787.7 526.6a9 9 0 1 0 18 0a9 9 0 1 0 -18 0M836.5 605.3a9 9 0 1 0 18 0a9 9 0 1 0 -18 0M707.8 594.2a9 9 0 1 0 18 0a9 9 0 1 0 -18 0M711.3 648.1a9 9 0 1 0 18 0a9 9 0 1 0 -18 0M858.4 656.8a9 9 0 1 0 18 0a9 9 0 1 0 -18 0M884.9 644.7a9 9 0 1 0 18 0a9 9 0 1 0 -18 0M734.9 575.3a9 9 0 1 0 18 0a9 9 0 1 0 -18 0M727.7 562.1a9 9 0 1 0 18 0a9 9 0 1 0 -18 0M679.9 653.0a9 9 0 1 0 18 0a9 9 0 1 0 -18 0M770.4 507.8a9 9 0 1 0 18 0a9 9 0 1 0 -18 0M718.3 560.1a9 9 0 1 0 18 0a9 9 0 1 0 -18 0M730.0 572.4a9 9 0 1 0 18 0a9 9 0 1 0 -18 0M698.6 605.4a9 9 0 1 0 18 0a9 9 0 1 0 -18 0M681.7 720.4a9 9 0 1 0 18 0a9 9 0 1 0 -18 0M767.0 507.9a9 9 0 1 0 18 0a9 9 0 1 0 -18 0M779.4 643.0a9 9 0 1 0 18 0a9 9 0 1 0 -18 0M679.6 605.3a9 9 0 1 0 18 0a9 9 0 1 0 -18 0M836.6 571.6a9 9 0 1 0 18 0a9 9 0 1 0 -18 0M695.9 555.3a9 9 0 1 0 18 0a9 9 0 1 0 -18 0M788.5 687.6a9 9 0 1 0 18 0a9 9 0 1 0 -18 0M754.7 676.3a9 9 0 1 0 18 0a9 9 0 1 0 -18 0M808.3 664.2a9 9 0 1 0 18 0a9 9 0 1 0 -18 0M758.3 649.8a9 9 0 1 0 18 0a9 9 0 1 0 -18 0M795.0 628.3a9 9 0 1 0 18 0a9 9 0 1 0 -18 0M777.1 627.5a9 9 0 1 0 18 0a9 9 0 1 0 -18 0M751.0 640.1a9 9 0 1 0 18 0a9 9 0 1 0 -18 0M768.5 678.3a9 9 0 1 0 18 0a9 9 0 1 0 -18 0M769.3 677.9a9 9 0 1 0 18 0a9 9 0 1 0 -18 0M820.2 617.4a9 9 0 1 0 18 0a9 9 0 1 0 -18 0M762.6 718.8a9 9 0 1 0 18 0a9 9 0 1 0 -18 0M807.1 530.8a9 9 0 1 0 18 0a9 9 0 1 0 -18 0M754.5 530.8a9 9 0 1 0 18 0a9 9 0 1 0 -18 0M814.6 635.9a9 9 0 1 0 18 0a9 9 0 1 0 -18 0M733.7 506.5a9 9 0 1 0 18 0a9 9 0 1 0 -18 0M818.5 709.3a9 9 0 1 0 18 0a9 9 0 1 0 -18 0M650.6 635.4a9 9 0 1 0 18 0a9 9 0 1 0 -18 0M695.4 656.4a9 9 0 1 0 18 0a9 9 0 1 0 -18 0M791.0 614.7a9 9 0 1 0 18 0a9 9 0 1 0 -18 0M739.2 632.8a9 9 0 1 0 18 0a9 9 0 1 0 -18 0M725.8 633.1a9 9 0 1 0 18 0a9 9 0 1 0 -18 0M762.9 648.4a9 9 0 1 0 18 0a9 9 0 1 0 -18 0M776.8 611.2a9 9 0 1 0 18 0a9 9 0 1 0 -18 0M719.0 556.6a9 9 0 1 0 18 0a9 9 0 1 0 -18 0M795.0 572.7a9 9 0 1 0 18 0a9 9 0 1 0 -18 0M765.4 658.2a9 9 0 1 0 18 0a9 9 0 1 0 -18 0M636.9 692.2a9 9 0 1 0 18 0a9 9 0 1 0 -18 0M760.1 708.3a9 9 0 1 0 18 0a9 9 0 1 0 -18 0M751.1 717.8a9 9 0 1 0 18 0a9 9 0 1 0 -18 0M765.1 643.6a9 9 0 1 0 18 0a9 9 0 1 0 -18 0M682.2 616.1a9 9 0 1 0 18 0a9 9 0 1 0 -18 0M755.1 642.7a9 9 0 1 0 18 0a9 9 0 1 0 -18 0M786.3 681.0a9 9 0 1 0 18 0a9 9 0 1 0 -18 0M767.3 638.1a9 9 0 1 0 18 0a9 9 0 1 0 -18 0M790.4 553.5a9 9 0 1 0 18 0a9 9 0 1 0 -18 0M741.9 682.9a9 9 0 1 0 18 0a9 9 0 1 0 -18 0M863.6 579.0a9 9 0 1 0 18 0a9 9 0 1 0 -18 0M776.1 708.0a9 9 0 1 0 18 0a9 9 0 1 0 -18 0M780.7 551.7a9 9 0 1 0 18 0a9 9 0 1 0 -18 0M673.2 541.9a9 9 0 1 0 18 0a9 9 0 1 0 -18 0M707.6 615.5a9 9 0 1 0 18 0a9 9 0 1 0 -18 0M687.5 582.0a9 9 0 1 0 18 0a9 9 0 1 0 -18 0M700.0 592.0a9 9 0 1 0 18 0a9 9 0 1 0 -18 0M694.5 603.4a9 9 0 1 0 18 0a9 9 0 1 0 -18 0M759.2 526.8a9 9 0 1 0 18 0a9 9 0 1 0 -18 0M732.1 616.5a9 9 0 1 0 18 0a9 9 0 1 0 -18 0M646.1 632.7a9 9 0 1 0 18 0a9 9 0 1 0 -18 0M658.1 638.2a9 9 0 1 0 18 0a9 9 0 1 0 -18 0M755.7 563.6a9 9 0 1 0 18 0a9 9 0 1 0 -18 0M699.8 632.7a9 9 0 1 0 18 0a9 9 0 1 0 -18 0M706.7 609.4a9 9 0 1 0 18 0a9 9 0 1 0 -18 0M732.2 701.7a9 9 0 1 0 18 0a9 9 0 1 0 -18 0M749.5 702.5a9 9 0 1 0 18 0a9 9 0 1 0 -18 0M744.7 657.9a9 9 0 1 0 18 0a9 9 0 1 0 -18 0M662.1 680.6a9 9 0 1 0 18 0a9 9 0 1 0 -18 0M752.3 571.8a9 9 0 1 0 18 0a9 9 0 1 0 -18 0M656.6 601.7a9 9 0 1 0 18 0a9 9 0 1 0 -18 0M678.8 558.3a9 9 0 1 0 18 0a9 9 0 1 0 -18 0M827.2 689.7a9 9 0 1 0 18 0a9 9 0 1 0 -18 0M649.3 632.5a9 9 0 1 0 18 0a9 9 0 1 0 -18 0M789.7 648.0a9 9 0 1 0 18 0a9 9 0 1 0 -18 0M746.7 621.4a9 9 0 1 0 18 0a9 9 0 1 0 -18 0M780.3 590.2a9 9 0 1 0 18 0a9 9 0 1 0 -18 0M788.2 637.3a9 9 0 1 0 18 0a9 9 0 1 0 -18 0M842.9 636.0a9 9 0 1 0 18 0a9 9 0 1 0 -18 0M665.2 643.6a9 9 0 1 0 18 0a9 9 0 1 0 -18 0M839.0 611.6a9 9 0 1 0 18 0a9 9 0 1 0 -18 0M659.5 560.9a9 9 0 1 0 18 0a9 9 0 1 0 -18 0M773.8 570.7a9 9 0 1 0 18 0a9 9 0 1 0 -18 0M664.6 662.7a9 9 0 1 0 18 0a9 9 0 1 0 -18 0M861.2 578.5a9 9 0 1 0 18 0a9 9 0 1 0 -18 0M692.7 629.1a9 9 0 1 0 18 0a9 9 0 1 0 -18 0M796.0 714.6a9 9 0 1 0 18 0a9 9 0 1 0 -18 0M770.1 636.3a9 9 0 1 0 18 0a9 9 0 1 0 -18 0M839.0 669.4a9 9 0 1 0 18 0a9 9 0 1 0 -18 0M741.9 569.2a9 9 0 1 0 18 0a9 9 0 1 0 -18 0M854.8 580.2a9 9 0 1 0 18 0a9 9 0 1 0 -18 0M727.8 601.1a9 9 0 1 0 18 0a9 9 0 1 0 -18 0M753.6 682.8a9 9 0 1 0 18 0a9 9 0 1 0 -18 0M722.4 636.4a9 9 0 1 0 18 0a9 9 0 1 0 -18 0M726.9 545.9a9 9 0 1 0 18 0a9 9 0 1 0 -18 0M725.9 706.1a9 9 0 1 0 18 0a9 9 0 1 0 -18 0M803.2 562.7a9 9 0 1 0 18 0a9 9 0 1 0 -18 0M863.5 683.4a9 9 0 1 0 18 0a9 9 0 1 0 -18 0M872.5 597.0a9 9 0 1 0 18 0a9 9 0 1 0 -18 0M751.6 708.0a9 9 0 1 0 18 0a9 9 0 1 0 -18 0M741.2 621.2a9 9 0 1 0 18 0a9 9 0 1 0 -18 0M742.1 636.0a9 9 0 1 0 18 0a9 9 0 1 0 -18 0M669.1 691.9a9 9 0 1 0 18 0a9 9 0 1 0 -18 0M723.4 737.4a9 9 0 1 0 18 0a9 9 0 1 0 -18 0M642.8 668.8a9 9 0 1 0 18 0a9 9 0 1 0 -18 0M681.8 598.9a9 9 0 1 0 18 0a9 9 0 1 0 -18 0M702.4 639.0a9 9 0 1 0 18 0a9 9 0 1 0 -18 0M769.1 696.3a9 9 0 1 0 18 0a9 9 0 1 0 -18 0M663.8 712.0a9 9 0 1 0 18 0a9 9 0 1 0 -18 0M740.5 591.8a9 9 0 1 0 18 0a9 9 0 1 0 -18 0M832.1 679.7a9 9 0 1 0 18 0a9 9 0 1 0 -18 0M755.8 629.3a9 9 0 1 0 18 0a9 9 0 1 0 -18 0M637.9 620.1a9 9 0 1 0 18 0a9 9 0 1 0 -18 0M806.8 613.4a9 9 0 1 0 18 0a9 9 0 1 0 -18 0M650.0 568.6a9 9 0 1 0 18 0a9 9 0 1 0 -18 0M836.9 647.0a9 9 0 1 0 18 0a9 9 0 1 0 -18 0M776.7 573.6a9 9 0 1 0 18 0a9 9 0 1 0 -18 0M709.9 548.4a9 9 0 1 0 18 0a9 9 0 1 0 -18 0M635.7 602.7a9 9 0 1 0 18 0a9 9 0 1 0 -18 0M688.2 704.3a9 9 0 1 0 18 0a9 9 0 1 0 -18 0M770.8 504.5a9 9 0 1 0 18 0a9 9 0 1 0 -18 0M716.7 636.3a9 9 0 1 0 18 0a9 9 0 1 0 -18 0M801.7 638.9a9 9 0 1 0 18 0a9 9 0 1 0 -18 0M736.4 656.5a9 9 0 1 0 18 0a9 9 0 1 0 -18 0M760.5 614.2a9 9 0 1 0 18 0a9 9 0 1 0 -18 0M728.7 614.8a9 9 0 1 0 18 0a9 9 0 1 0 -18 0M776.2 574.5a9 9 0 1 0 18 0a9 9 0 1 0 -18 0M744.5 719.8a9 9 0 1 0 18 0a9 9 0 1 0 -18 0M731.5 574.2a9 9 0 1 0 18 0a9 9 0 1 0 -18 0M772.0 649.6a9 9 0 1 0 18 0a9 9 0 1 0 -18 0M665.8 717.1a9 9 0 1 0 18 0a9 9 0 1 0 -18 0M779.4 604.5a9 9 0 1 0 18 0a9 9 0 1 0 -18 0M894.8 663.1a9 9 0 1 0 18 0a9 9 0 1 0 -18 0M676.4 569.9a9 9 0 1 0 18 0a9 9 0 1 0 -18 0M735.9 720.2a9 9 0 1 0 18 0a9 9 0 1 0 -18 0M829.9 661.4a9 9 0 1 0 18 0a9 9 0 1 0 -18 0M704.8 532.0a9 9 0 1 0 18 0a9 9 0 1 0 -18 0M834.1 532.1a9 9 0 1 0 18 0a9 9 0 1 0 -18 0M786.6 708.1a9 9 0 1 0 18 0a9 9 0 1 0 -18 0M678.7 675.2a9 9 0 1 0 18 0a9 9 0 1 0 -18 0M830.2 624.1a9 9 0 1 0 18 0a9 9 0 1 0 -18 0M767.9 567.9a9 9 0 1 0 18 0a9 9 0 1 0 -18 0M748.9 678.4a9 9 0 1 0 18 0a9 9 0 1 0 -18 0M811.4 717.1a9 9 0 1 0 18 0a9 9 0 1 0 -18 0M680.3 620.9a9 9 0 1 0 18 0a9 9 0 1 0 -18 0M734.2 727.8a9 9 0 1 0 18 0a9 9 0 1 0 -18 0M719.0 658.0a9 9 0 1 0 18 0a9 9 0 1 0 -18 0M658.2 645.8a9 9 0 1 0 18 0a9 9 0 1 0 -18 0M718.9 573.5a9 9 0 1 0 18 0a9 9 0 1 0 -18 0M629.4 616.7a9 9 0 1 0 18 0a9 9 0 1 0 -18 0M768.9 681.9a9 9 0 1 0 18 0a9 9 0 1 0 -18 0M720.9 710.9a9 9 0 1 0 18 0a9 9 0 1 0 -18 0M738.7 575.6a9 9 0 1 0 18 0a9 9 0 1 0 -18 0M631.6 671.0a9 9 0 1 0 18 0a9 9 0 1 0 -18 0M817.4 602.3a9 9 0 1 0 18 0a9 9 0 1 0 -18 0M848.9 641.0a9 9 0 1 0 18 0a9 9 0 1 0 -18 0M825.0 681.0a9 9 0 1 0 18 0a9 9 0 1 0 -18 0M864.1 605.4a9 9 0 1 0 18 0a9 9 0 1 0 -18 0M791.2 701.8a9 9 0 1 0 18 0a9 9 0 1 0 -18 0M816.4 591.0a9 9 0 1 0 18 0a9 9 0 1 0 -18 0M690.7 604.2a9 9 0 1 0 18 0a9 9 0 1 0 -18 0M780.1 677.4a9 9 0 1 0 18 0a9 9 0 1 0 -18 0M777.1 625.0a9 9 0 1 0 18 0a9 9 0 1 0 -18 0M763.3 569.3a9 9 0 1 0 18 0a9 9 0 1 0 -18 0M672.0 613.9a9 9 0 1 0 18 0a9 9 0 1 0 -18 0M763.3 558.3a9 9 0 1 0 18 0a9 9 0 1 0 -18 0M743.6 556.0a9 9 0 1 0 18 0a9 9 0 1 0 -18 0M832.3 667.1a9 9 0 1 0 18 0a9 9 0 1 0 -18 0M798.7 567.0a9 9 0 1 0 18 0a9 9 0 1 0 -18 0M869.4 582.2a9 9 0 1 0 18 0a9 9 0 1 0 -18 0M754.2 708.3a9 9 0 1 0 18 0a9 9 0 1 0 -18 0M754.5 658.1a9 9 0 1 0 18 0a9 9 0 1 0 -18 0M695.4 610.4a9 9 0 1 0 18 0a9 9 0 1 0 -18 0M721.5 597.5a9 9 0 1 0 18 0a9 9 0 1 0 -18 0M759.7 609.0a9 9 0 1 0 18 0a9 9 0 1 0 -18 0M697.2 651.1a9 9 0 1 0 18 0a9 9 0 1 0 -18 0M804.3 651.5a9 9 0 1 0 18 0a9 9 0 1 0 -18 0M748.3 685.3a9 9 0 1 0 18 0a9 9 0 1 0 -18 0M676.5 698.0a9 9 0 1 0 18 0a9 9 0 1 0 -18 0M787.1 659.8a9 9 0 1 0 18 0a9 9 0 1 0 -18 0M738.7 626.6a9 9 0 1 0 18 0a9 9 0 1 0 -18 0M765.3 580.3a9 9 0 1 0 18 0a9 9 0 1 0 -18 0M750.8 678.2a9 9 0 1 0 18 0a9 9 0 1 0 -18 0M798.3 663.5a9 9 0 1 0 18 0a9 9 0 1 0 -18 0M731.3 664.0a9 9 0 1 0 18 0a9 9 0 1 0 -18 0M724.9 650.1a9 9 0 1 0 18 0a9 9 0 1 0 -18 0M701.4 594.7a9 9 0 1 0 18 0a9 9 0 1 0 -18 0M776.0 666.7a9 9 0 1 0 18 0a9 9 0 1 0 -18 0M779.9 624.0a9 9 0 1 0 18 0a9 9 0 1 0 -18 0M750.4 616.3a9 9 0 1 0 18 0a9 9 0 1 0 -18 0M700.6 689.8a9 9 0 1 0 18 0a9 9 0 1 0 -18 0M752.0 701.6a9 9 0 1 0 18 0a9 9 0 1 0 -18 0M769.6 586.8a9 9 0 1 0 18 0a9 9 0 1 0 -18 0M738.3 525.6a9 9 0 1 0 18 0a9 9 0 1 0 -18 0M717.0 510.1a9 9 0 1 0 18 0a9 9 0 1 0 -18 0M709.3 736.3a9 9 0 1 0 18 0a9 9 0 1 0 -18 0M796.9 586.3a9 9 0 1 0 18 0a9 9 0 1 0 -18 0M721.0 572.6a9 9 0 1 0 18 0a9 9 0 1 0 -18 0M708.1 584.9a9 9 0 1 0 18 0a9 9 0 1 0 -18 0M703.5 565.4a9 9 0 1 0 18 0a9 9 0 1 0 -18 0M721.4 691.6a9 9 0 1 0 18 0a9 9 0 1 0 -18 0M729.8 591.7a9 9 0 1 0 18 0a9 9 0 1 0 -18 0M649.4 655.6a9 9 0 1 0 18 0a9 9 0 1 0 -18 0M758.6 629.7a9 9 0 1 0 18 0a9 9 0 1 0 -18 0M793.4 522.6a9 9 0 1 0 18 0a9 9 0 1 0 -18 0M796.9 637.6a9 9 0 1 0 18 0a9 9 0 1 0 -18 0M715.7 625.2a9 9 0 1 0 18 0a9 9 0 1 0 -18 0M662.0 601.4a9 9 0 1 0 18 0a9 9 0 1 0 -18 0M853.8 654.9a9 9 0 1 0 18 0a9 9 0 1 0 -18 0M773.0 664.0a9 9 0 1 0 18 0a9 9 0 1 0 -18 0M777.1 601.2a9 9 0 1 0 18 0a9 9 0 1 0 -18 0M766.1 676.6a9 9 0 1 0 18 0a9 9 0 1 0 -18 0M730.2 564.6a9 9 0 1 0 18 0a9 9 0 1 0 -18 0M749.7 650.9a9 9 0 1 0 18 0a9 9 0 1 0 -18 0M826.5 672.7a9 9 0 1 0 18 0a9 9 0 1 0 -18 0M719.1 597.4a9 9 0 1 0 18 0a9 9 0 1 0 -18 0M825.5 707.6a9 9 0 1 0 18 0a9 9 0 1 0 -18 0M812.9 689.6a9 9 0 1 0 18 0a9 9 0 1 0 -18 0M795.3 576.7a9 9 0 1 0 18 0a9 9 0 1 0 -18 0M775.9 701.8a9 9 0 1 0 18 0a9 9 0 1 0 -18 0M899.3 623.0a9 9 0 1 0 18 0a9 9 0 1 0 -18 0M726.6 561.8a9 9 0 1 0 18 0a9 9 0 1 0 -18 0M753.6 597.5a9 9 0 1 0 18 0a9 9 0 1 0 -18 0M714.9 576.0a9 9 0 1 0 18 0a9 9 0 1 0 -18 0M680.6 676.9a9 9 0 1 0 18 0a9 9 0 1 0 -18 0M798.3 688.9a9 9 0 1 0 18 0a9 9 0 1 0 -18 0M832.8 678.8a9 9 0 1 0 18 0a9 9 0 1 0 -18 0M858.3 688.0a9 9 0 1 0 18 0a9 9 0 1 0 -18 0M753.5 700.1a9 9 0 1 0 18 0a9 9 0 1 0 -18 0M801.4 602.7a9 9 0 1 0 18 0a9 9 0 1 0 -18 0M812.8 675.1a9 9 0 1 0 18 0a9 9 0 1 0 -18 0M817.6 572.5a9 9 0 1 0 18 0a9 9 0 1 0 -18 0M777.2 607.5a9 9 0 1 0 18 0a9 9 0 1 0 -18 0M690.3 678.2a9 9 0 1 0 18 0a9 9 0 1 0 -18 0M669.3 619.4a9 9 0 1 0 18 0a9 9 0 1 0 -18 0M720.9 591.5a9 9 0 1 0 18 0a9 9 0 1 0 -18 0M766.4 733.6a9 9 0 1 0 18 0a9 9 0 1 0 -18 0M654.8 648.1a9 9 0 1 0 18 0a9 9 0 1 0 -18 0M748.1 521.9a9 9 0 1 0 18 0a9 9 0 1 0 -18 0M831.9 718.8a9 9 0 1 0 18 0a9 9 0 1 0 -18 0M629.0 573.8a9 9 0 1 0 18 0a9 9 0 1 0 -18 0M697.2 721.4a9 9 0 1 0 18 0a9 9 0 1 0 -18 0M698.9 699.7a9 9 0 1 0 18 0a9 9 0 1 0 -18 0M692.1 623.3a9 9 0 1 0 18 0a9 9 0 1 0 -18 0M714.2 621.2a9 9 0 1 0 18 0a9 9 0 1 0 -18 0M831.0 648.5a9 9 0 1 0 18 0a9 9 0 1 0 -18 0M808.4 693.1a9 9 0 1 0 18 0a9 9 0 1 0 -18 0M668.5 664.5a9 9 0 1 0 18 0a9 9 0 1 0 -18 0M755.2 612.6a9 9 0 1 0 18 0a9 9 0 1 0 -18 0M763.8 686.5a9 9 0 1 0 18 0a9 9 0 1 0 -18 0M778.5 605.3a9 9 0 1 0 18 0a9 9 0 1 0 -18 0M736.6 557.2a9 9 0 1 0 18 0a9 9 0 1 0 -18 0M714.6 678.0a9 9 0 1 0 18 0a9 9 0 1 0 -18 0M681.7 586.2a9 9 0 1 0 18 0a9 9 0 1 0 -18 0M767.7 679.1a9 9 0 1 0 18 0a9 9 0 1 0 -18 0M670.8 621.9a9 9 0 1 0 18 0a9 9 0 1 0 -18 0M811.1 599.9a9 9 0 1 0 18 0a9 9 0 1 0 -18 0M672.6 659.1a9 9 0 1 0 18 0a9 9 0 1 0 -18 0M816.5 640.5a9 9 0 1 0 18 0a9 9 0 1 0 -18 0M770.7 526.3a9 9 0 1 0 18 0a9 9 0 1 0 -18 0M791.1 702.2a9 9 0 1 0 18 0a9 9 0 1 0 -18 0M744.5 544.2a9 9 0 1 0 18 0a9 9 0 1 0 -18 0M770.9 523.5a9 9 0 1 0 18 0a9 9 0 1 0 -18 0M689.8 599.7a9 9 0 1 0 18 0a9 9 0 1 0 -18 0M755.4 555.1a9 9 0 1 0 18 0a9 9 0 1 0 -18 0M696.2 624.3a9 9 0 1 0 18 0a9 9 0 1 0 -18 0M727.7 596.0a9 9 0 1 0 18 0a9 9 0 1 0 -18 0M783.4 593.0a9 9 0 1 0 18 0a9 9 0 1 0 -18 0M788.1 568.2a9 9 0 1 0 18 0a9 9 0 1 0 -18 0M727.9 646.1a9 9 0 1 0 18 0a9 9 0 1 0 -18 0M784.4 569.0a9 9 0 1 0 18 0a9 9 0 1 0 -18 0M716.4 611.3a9 9 0 1 0 18 0a9 9 0 1 0 -18 0M813.5 600.0a9 9 0 1 0 18 0a9 9 0 1 0 -18 0M828.7 696.3a9 9 0 1 0 18 0a9 9 0 1 0 -18 0M747.2 657.4a9 9 0 1 0 18 0a9 9 0 1 0 -18 0M834.7 704.6a9 9 0 1 0 18 0a9 9 0 1 0 -18 0M699.0 739.8a9 9 0 1 0 18 0a9 9 0 1 0 -18 0M721.6 644.8a9 9 0 1 0 18 0a9 9 0 1 0 -18 0M743.9 674.1a9 9 0 1 0 18 0a9 9 0 1 0 -18 0M794.6 657.9a9 9 0 1 0 18 0a9 9 0 1 0 -18 0M838.9 583.2a9 9 0 1 0 18 0a9 9 0 1 0 -18 0M705.0 649.8a9 9 0 1 0 18 0a9 9 0 1 0 -18 0M815.1 638.6a9 9 0 1 0 18 0a9 9 0 1 0 -18 0M756.0 565.2a9 9 0 1 0 18 0a9 9 0 1 0 -18 0M805.2 604.6a9 9 0 1 0 18 0a9 9 0 1 0 -18 0M739.6 640.8a9 9 0 1 0 18 0a9 9 0 1 0 -18 0M726.3 531.8a9 9 0 1 0 18 0a9 9 0 1 0 -18 0M771.9 690.0a9 9 0 1 0 18 0a9 9 0 1 0 -18 0M839.7 665.9a9 9 0 1 0 18 0a9 9 0 1 0 -18 0M820.6 556.6a9 9 0 1 0 18 0a9 9 0 1 0 -18 0M770.4 684.0a9 9 0 1 0 18 0a9 9 0 1 0 -18 0M721.1 627.6a9 9 0 1 0 18 0a9 9 0 1 0 -18 0M737.8 565.3a9 9 0 1 0 18 0a9 9 0 1 0 -18 0M752.2 597.3a9 9 0 1 0 18 0a9 9 0 1 0 -18 0M792.1 650.5a9 9 0 1 0 18 0a9 9 0 1 0 -18 0M641.1 619.8a9 9 0 1 0 18 0a9 9 0 1 0 -18 0M828.8 617.4a9 9 0 1 0 18 0a9 9 0 1 0 -18 0M715.7 735.3a9 9 0 1 0 18 0a9 9 0 1 0 -18 0M799.5 593.9a9 9 0 1 0 18 0a9 9 0 1 0 -18 0M768.2 674.7a9 9 0 1 0 18 0a9 9 0 1 0 -18 0M693.8 680.2a9 9 0 1 0 18 0a9 9 0 1 0 -18 0M828.4 580.4a9 9 0 1 0 18 0a9 9 0 1 0 -18 0M851.2 657.8a9 9 0 1 0 18 0a9 9 0 1 0 -18 0M710.7 661.6a9 9 0 1 0 18 0a9 9 0 1 0 -18 0M801.0 631.7a9 9 0 1 0 18 0a9 9 0 1 0 -18 0M765.4 643.2a9 9 0 1 0 18 0a9 9 0 1 0 -18 0M724.4 594.9a9 9 0 1 0 18 0a9 9 0 1 0 -18 0M795.5 592.2a9 9 0 1 0 18 0a9 9 0 1 0 -18 0" fill="none" stroke="#00f" stroke-width="1.6"/>
<path d="M671.5 499.4l12.4 12.4m0 -12.4l-12.4 12.4M707.7 502.0l12.4 12.4m0 -12.4l-12.4 12.4M651.3 520.0l12.4 12.4m0 -12.4l-12.4 12.4M677.4 523.2l12.4 12.4m0 -12.4l-12.4 12.4M704.9 530.2l12.4 12.4m0 -12.4l-12.4 12.4M734.9 539.0l12.4 12.4m0 -12.4l-12.4 12.4M642.2 560.1l12.4 12.4m0 -12.4l-12.4 12.4M672.0 557.9l12.4 12.4m0 -12.4l-12.4 12.4M724.0 560.1l12.4 12.4m0 -12.4l-12.4 12.4M692.1 570.9l12.4 12.4m0 -12.4l-12.4 12.4M659.6 580.3l12.4 12.4m0 -12.4l-12.4 12.4M746.0 574.0l12.4 12.4m0 -12.4l-12.4 12.4M596.0 590.0l12.4 12.4m0 -12.4l-12.4 12.4M623.1 588.3l12.4 12.4m0 -12.4l-12.4 12.4M685.0 590.5l12.4 12.4m0 -12.4l-12.4 12.4M721.4 583.3l12.4 12.4m0 -12.4l-12.4 12.4M639.4 608.3l12.4 12.4m0 -12.4l-12.4 12.4M745.0 603.3l12.4 12.4m0 -12.4l-12.4 12.4M677.2 611.6l12.4 12.4m0 -12.4l-12.4 12.4M711.8 612.8l12.4 12.4m0 -12.4l-12.4 12.4M613.0 613.2l12.4 12.4m0 -12.4l-12.4 12.4M585.0 618.6l12.4 12.4m0 -12.4l-12.4 12.4M732.7 622.0l12.4 12.4m0 -12.4l-12.4 12.4M774.8 494.3l12.4 12.4m0 -12.4l-12.4 12.4M803.6 500.8l12.4 12.4m0 -12.4l-12.4 12.4M755.4 510.6l12.4 12.4m0 -12.4l-12.4 12.4M786.1 524.3l12.4 12.4m0 -12.4l-12.4 12.4M828.6 534.5l12.4 12.4m0 -12.4l-12.4 12.4M855.4 542.0l12.4 12.4m0 -12.4l-12.4 12.4M752.7 553.8l12.4 12.4m0 -12.4l-12.4 12.4M782.7 562.2l12.4 12.4m0 -12.4l-12.4 12.4M814.1 556.5l12.4 12.4m0 -12.4l-12.4 12.4M840.7 562.4l12.4 12.4m0 -12.4l-12.4 12.4M799.8 579.3l12.4 12.4m0 -12.4l-12.4 12.4M829.3 580.6l12.4 12.4m0 -12.4l-12.4 12.4M887.9 573.1l12.4 12.4m0 -12.4l-12.4 12.4M915.7 585.6l12.4 12.4m0 -12.4l-12.4 12.4M775.4 586.8l12.4 12.4m0 -12.4l-12.4 12.4M866.8 593.6l12.4 12.4m0 -12.4l-12.4 12.4M891.8 599.9l12.4 12.4m0 -12.4l-12.4 12.4M802.0 601.1l12.4 12.4m0 -12.4l-12.4 12.4M780.0 609.3l12.4 12.4m0 -12.4l-12.4 12.4M838.4 607.3l12.4 12.4m0 -12.4l-12.4 12.4M872.8 620.1l12.4 12.4m0 -12.4l-12.4 12.4M821.8 625.3l12.4 12.4m0 -12.4l-12.4 12.4M659.8 632.3l12.4 12.4m0 -12.4l-12.4 12.4M625.1 646.2l12.4 12.4m0 -12.4l-12.4 12.4M691.8 645.3l12.4 12.4m0 -12.4l-12.4 12.4M727.7 643.6l12.4 12.4m0 -12.4l-12.4 12.4M670.7 657.1l12.4 12.4m0 -12.4l-12.4 12.4M593.5 666.4l12.4 12.4m0 -12.4l-12.4 12.4M621.8 667.5l12.4 12.4m0 -12.4l-12.4 12.4M693.3 669.2l12.4 12.4m0 -12.4l-12.4 12.4M722.2 682.3l12.4 12.4m0 -12.4l-12.4 12.4M604.8 688.8l12.4 12.4m0 -12.4l-12.4 12.4M657.0 684.9l12.4 12.4m0 -12.4l-12.4 12.4M696.6 706.2l12.4 12.4m0 -12.4l-12.4 12.4M721.1 710.5l12.4 12.4m0 -12.4l-12.4 12.4M678.8 726.2l12.4 12.4m0 -12.4l-12.4 12.4M707.5 734.5l12.4 12.4m0 -12.4l-12.4 12.4M753.6 631.5l12.4 12.4m0 -12.4l-12.4 12.4M795.2 634.5l12.4 12.4m0 -12.4l-12.4 12.4M845.2 636.1l12.4 12.4m0 -12.4l-12.4 12.4M910.0 639.9l12.4 12.4m0 -12.4l-12.4 12.4M818.6 648.6l12.4 12.4m0 -12.4l-12.4 12.4M755.4 664.5l12.4 12.4m0 -12.4l-12.4 12.4M783.8 667.4l12.4 12.4m0 -12.4l-12.4 12.4M841.8 672.4l12.4 12.4m0 -12.4l-12.4 12.4M868.6 678.1l12.4 12.4m0 -12.4l-12.4 12.4M762.3 686.8l12.4 12.4m0 -12.4l-12.4 12.4M799.8 689.5l12.4 12.4m0 -12.4l-12.4 12.4M849.8 696.3l12.4 12.4m0 -12.4l-12.4 12.4M883.2 700.8l12.4 12.4m0 -12.4l-12.4 12.4M779.3 703.8l12.4 12.4m0 -12.4l-12.4 12.4M848.2 720.6l12.4 12.4m0 -12.4l-12.4 12.4M758.2 740.2l12.4 12.4m0 -12.4l-12.4 12.4M802.7 743.3l12.4 12.4m0 -12.4l-12.4 12.4M749.8 763.4l12.4 12.4m0 -12.4l-12.4 12.4M779.3 759.9l12.4 12.4m0 -12.4l-12.4 12.4M806.1 771.3l12.4 12.4m0 -12.4l-12.4 12.4" fill="none" stroke="#ee0000" stroke-width="1.65"/>
<path d="M65.0 45.6V363.5H479.9M65.0 45.9h4.5M65.0 124.1h4.5M65.0 202.3h4.5M65.0 280.5h4.5M65.0 358.7h4.5M116.4 363.5v-4.5M190.3 363.5v-4.5M264.2 363.5v-4.5M338.1 363.5v-4.5M411.9 363.5v-4.5" fill="none" stroke="#262626" stroke-width="1.7" stroke-linejoin="round"/>
<g font-size="26" fill="#262626" stroke="#262626" stroke-width="0.25"><text transform="translate(10.12,56.90) scale(1,1.07)"> 00</text><path transform="translate(10.12,56.90) scale(0.01270,-0.01311)" stroke-width="19.7" d="M763 0L583 0L583 1147Q518 1085 412 1023Q307 961 223 930L223 1104Q374 1175 486 1276Q599 1376 642 1466L763 1466Z"/><text transform="translate(24.58,135.10) scale(1,1.07)">50</text><text transform="translate(39.04,213.30) scale(1,1.07)">0</text><text transform="translate(15.92,291.50) scale(1,1.07)">-50</text><text transform="translate(1.46,369.70) scale(1,1.07)">- 00</text><path transform="translate(10.12,369.70) scale(0.01270,-0.01311)" stroke-width="19.7" d="M763 0L583 0L583 1147Q518 1085 412 1023Q307 961 223 930L223 1104Q374 1175 486 1276Q599 1376 642 1466L763 1466Z"/><text transform="translate(87.93,400.70) scale(1,1.07)">- 00</text><path transform="translate(96.59,400.70) scale(0.01270,-0.01311)" stroke-width="19.7" d="M763 0L583 0L583 1147Q518 1085 412 1023Q307 961 223 930L223 1104Q374 1175 486 1276Q599 1376 642 1466L763 1466Z"/><text transform="translate(169.04,400.70) scale(1,1.07)">-50</text><text transform="translate(255.97,400.70) scale(1,1.07)">0</text><text transform="translate(322.62,400.70) scale(1,1.07)">50</text><text transform="translate(389.26,400.70) scale(1,1.07)"> 00</text><path transform="translate(389.26,400.70) scale(0.01270,-0.01311)" stroke-width="19.7" d="M763 0L583 0L583 1147Q518 1085 412 1023Q307 961 223 930L223 1104Q374 1175 486 1276Q599 1376 642 1466L763 1466Z"/></g>
<text x="270.6" y="23.4" text-anchor="middle" font-size="29" fill="#000" stroke="#000" stroke-width="0.3">target&#160; subject 2, Xraw</text>
<path d="M548.4 45.4V363.4H965.6M548.4 84.3h4.5M548.4 206.2h4.5M548.4 328.1h4.5M630.4 363.4v-4.5M763.9 363.4v-4.5M897.4 363.4v-4.5" fill="none" stroke="#262626" stroke-width="1.7" stroke-linejoin="round"/>
<g font-size="26" fill="#262626" stroke="#262626" stroke-width="0.25"><text transform="translate(507.93,95.30) scale(1,1.07)">50</text><text transform="translate(522.39,217.20) scale(1,1.07)">0</text><text transform="translate(499.27,339.10) scale(1,1.07)">-50</text><text transform="translate(609.06,400.65) scale(1,1.07)">-50</text><text transform="translate(755.67,400.65) scale(1,1.07)">0</text><text transform="translate(881.99,400.65) scale(1,1.07)">50</text></g>
<text x="755.5" y="23.4" text-anchor="middle" font-size="29" fill="#000" stroke="#000" stroke-width="0.3">target subject 2, Xleda</text>
<path d="M65.0 467.6V785.6H479.9M65.0 467.9h4.5M65.0 547.4h4.5M65.0 626.9h4.5M65.0 706.4h4.5M65.0 785.9h4.5M126.0 785.6v-4.5M205.2 785.6v-4.5M284.5 785.6v-4.5M363.8 785.6v-4.5M443.0 785.6v-4.5" fill="none" stroke="#262626" stroke-width="1.7" stroke-linejoin="round"/>
<g font-size="26" fill="#262626" stroke="#262626" stroke-width="0.25"><text transform="translate(10.12,478.90) scale(1,1.07)">400</text><text transform="translate(10.12,558.40) scale(1,1.07)">200</text><text transform="translate(39.04,637.90) scale(1,1.07)">0</text><text transform="translate(1.46,717.40) scale(1,1.07)">-200</text><text transform="translate(1.46,796.90) scale(1,1.07)">-400</text><text transform="translate(97.48,822.80) scale(1,1.07)">-200</text><text transform="translate(176.73,822.80) scale(1,1.07)">- 00</text><path transform="translate(185.39,822.80) scale(0.01270,-0.01311)" stroke-width="19.7" d="M763 0L583 0L583 1147Q518 1085 412 1023Q307 961 223 930L223 1104Q374 1175 486 1276Q599 1376 642 1466L763 1466Z"/><text transform="translate(276.27,822.80) scale(1,1.07)">0</text><text transform="translate(341.06,822.80) scale(1,1.07)"> 00</text><path transform="translate(341.06,822.80) scale(0.01270,-0.01311)" stroke-width="19.7" d="M763 0L583 0L583 1147Q518 1085 412 1023Q307 961 223 930L223 1104Q374 1175 486 1276Q599 1376 642 1466L763 1466Z"/><text transform="translate(420.31,822.80) scale(1,1.07)">200</text></g>
<text x="270.9" y="449.7" text-anchor="middle" font-size="29" fill="#000" stroke="#000" stroke-width="0.3">target subject 9, Xraw</text>
<path d="M548.3 469.7V787.7H965.6M548.3 504.7h4.5M548.3 627.3h4.5M548.3 749.9h4.5M609.8 787.7v-4.5M755.8 787.7v-4.5M901.8 787.7v-4.5" fill="none" stroke="#262626" stroke-width="1.7" stroke-linejoin="round"/>
<g font-size="26" fill="#262626" stroke="#262626" stroke-width="0.25"><text transform="translate(507.88,515.70) scale(1,1.07)">50</text><text transform="translate(522.34,638.30) scale(1,1.07)">0</text><text transform="translate(499.22,760.90) scale(1,1.07)">-50</text><text transform="translate(588.56,824.90) scale(1,1.07)">-50</text><text transform="translate(747.57,824.90) scale(1,1.07)">0</text><text transform="translate(886.29,824.90) scale(1,1.07)">50</text></g>
<text x="755.5" y="450.6" text-anchor="middle" font-size="29" fill="#000" stroke="#000" stroke-width="0.3">target subject 9, Xleda</text>
</svg>
</body></html>
